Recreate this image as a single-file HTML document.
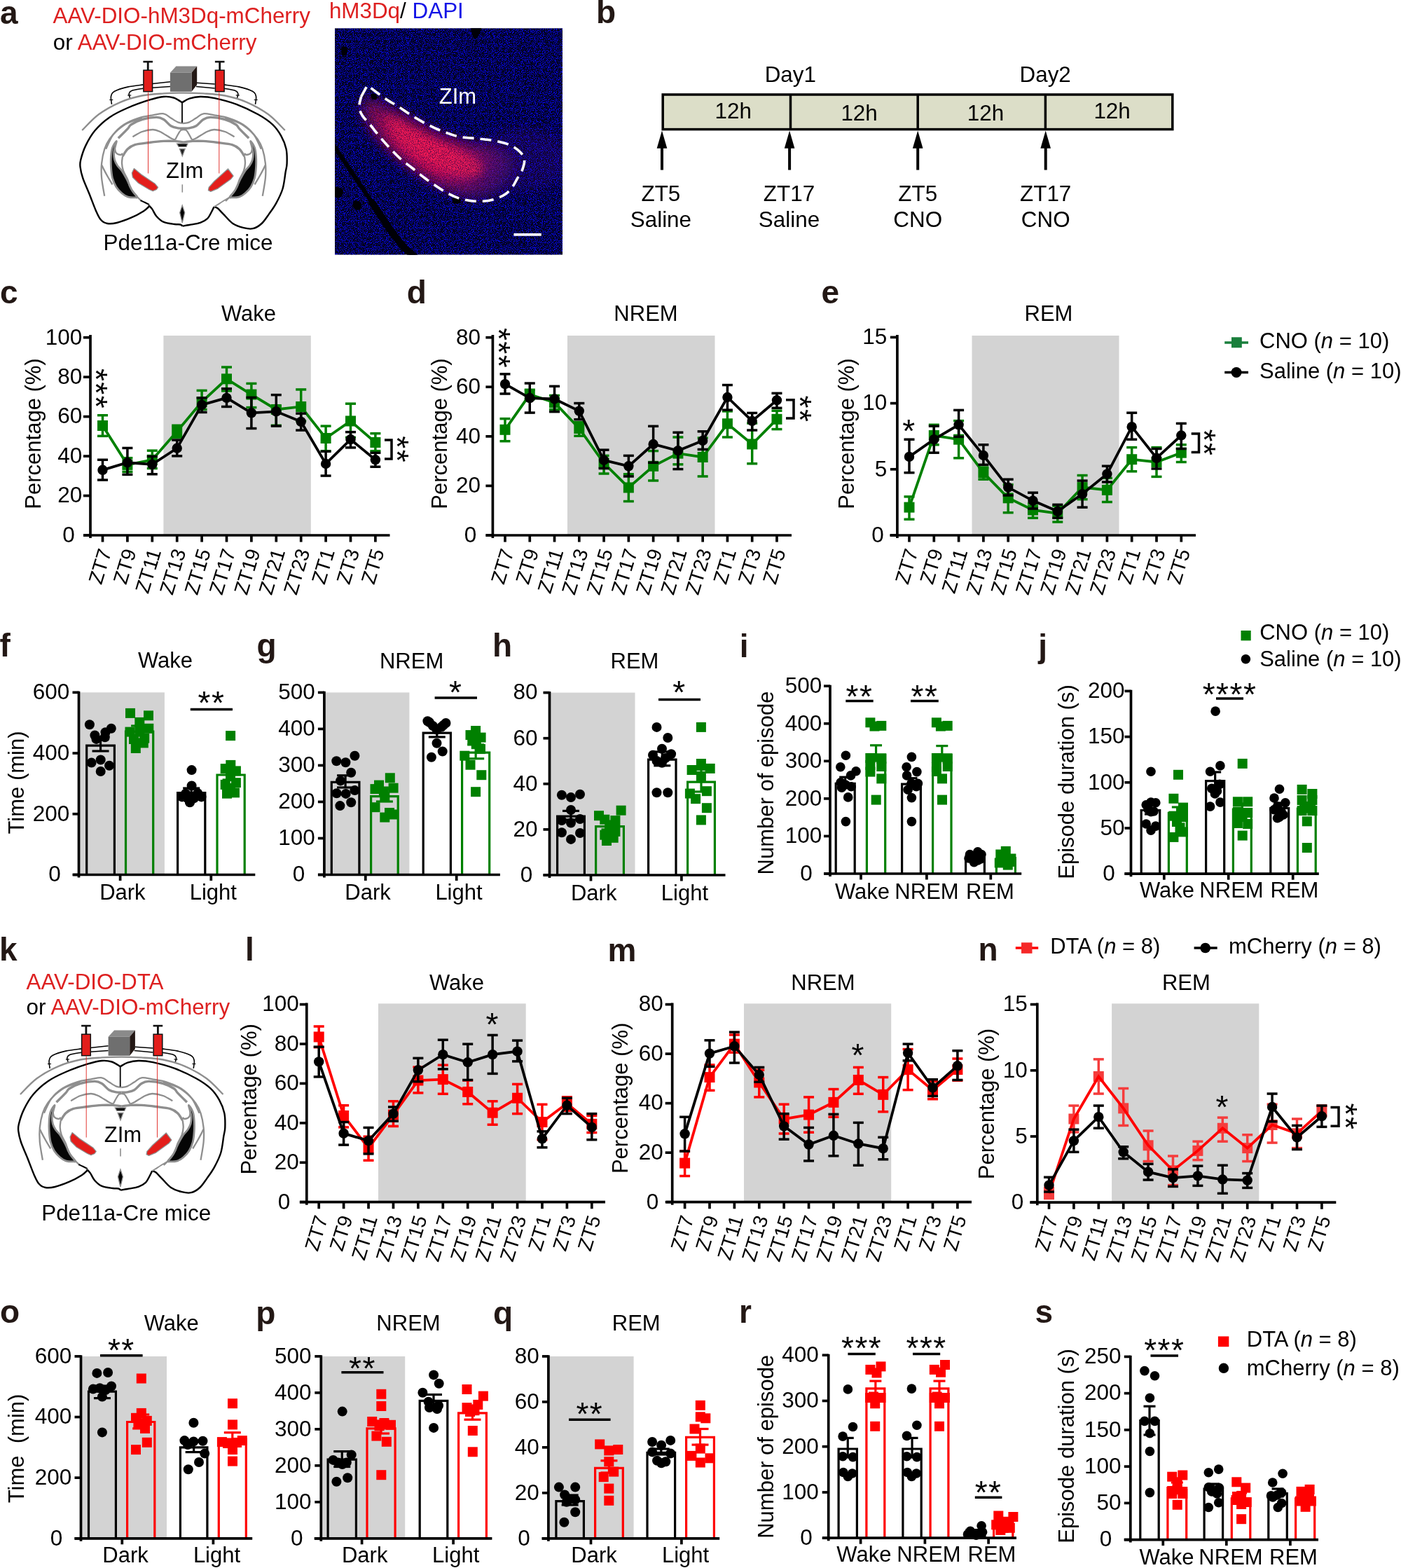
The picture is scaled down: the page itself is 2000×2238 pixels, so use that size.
<!DOCTYPE html>
<html><head><meta charset="utf-8"><title>Figure</title>
<style>html,body{margin:0;padding:0;background:#fff;}svg{display:block;}</style></head>
<body><svg width="2000" height="2238" viewBox="0 0 2000 2238" font-family="'Liberation Sans', Arial, Helvetica, sans-serif">
<rect x="0" y="0" width="2000" height="2238" fill="#fff"/>
<text x="0" y="33.6" font-size="46" fill="#231815" font-weight="bold">a</text>
<text x="75.5" y="32.7" font-size="31.4" fill="#dd2020">AAV-DIO-hM3Dq-mCherry</text>
<text x="75.8" y="70.5" font-size="31.4">or <tspan fill="#dd2020">AAV-DIO-mCherry</tspan></text>
<g transform="translate(0,0)">
<path d="M117.2,186 C121.15,182.22 131.78,170 140.9,163.3 C150.02,156.6 161.58,150.27 171.9,145.8 C182.22,141.33 192.5,138.57 202.8,136.5 C213.1,134.43 223.83,134.05 233.7,133.4 C243.57,132.75 252.57,132.6 262,132.6 C271.43,132.6 280.43,132.75 290.3,133.4 C300.17,134.05 310.9,134.43 321.2,136.5 C331.5,138.57 341.78,141.33 352.1,145.8 C362.42,150.27 373.98,156.6 383.1,163.3 C392.22,170 402.85,182.22 406.8,186" fill="none" stroke="#8e8e8e" stroke-width="2.4"/>
<path d="M166.2,201.4 C165.52,201.73 161.78,207.08 160.5,210.7 C159.22,214.32 158.83,218.45 158.5,223.1 C158.17,227.75 158.17,233.45 158.5,238.6 C158.83,243.75 159.3,249.37 160.5,254 C161.7,258.63 163.47,262.78 165.7,266.4 C167.93,270.02 171.15,273.3 173.9,275.7 C176.65,278.1 179.1,279.77 182.2,280.8 C185.3,281.83 190.27,281.9 192.5,281.9 C194.73,281.9 196.28,282.53 195.6,280.8 C194.92,279.07 190.82,275.62 188.4,271.5 C185.98,267.38 183.52,260.73 181.1,256.1 C178.68,251.47 176.13,246.97 173.9,243.7 C171.67,240.43 169.42,239.08 167.7,236.5 C165.98,233.92 164.45,231.3 163.6,228.2 C162.75,225.1 162.43,221.15 162.6,217.9 C162.77,214.65 164,211.45 164.6,208.7 C165.2,205.95 166.88,201.07 166.2,201.4 Z" fill="#050505" stroke="#8e8e8e" stroke-width="2.8"/>
<path d="M357.8,201.4 C358.48,201.73 362.22,207.08 363.5,210.7 C364.78,214.32 365.17,218.45 365.5,223.1 C365.83,227.75 365.83,233.45 365.5,238.6 C365.17,243.75 364.7,249.37 363.5,254 C362.3,258.63 360.53,262.78 358.3,266.4 C356.07,270.02 352.85,273.3 350.1,275.7 C347.35,278.1 344.9,279.77 341.8,280.8 C338.7,281.83 333.73,281.9 331.5,281.9 C329.27,281.9 327.72,282.53 328.4,280.8 C329.08,279.07 333.18,275.62 335.6,271.5 C338.02,267.38 340.48,260.73 342.9,256.1 C345.32,251.47 347.87,246.97 350.1,243.7 C352.33,240.43 354.58,239.08 356.3,236.5 C358.02,233.92 359.55,231.3 360.4,228.2 C361.25,225.1 361.57,221.15 361.4,217.9 C361.23,214.65 360,211.45 359.4,208.7 C358.8,205.95 357.12,201.07 357.8,201.4 Z" fill="#050505" stroke="#8e8e8e" stroke-width="2.8"/>
<path d="M168.8,197.3 C171.03,195.07 179.12,187.17 182.2,183.9 C185.28,180.63 183.87,179.93 187.3,177.7 C190.73,175.47 196.78,172.22 202.8,170.5 C208.82,168.78 218.25,167.4 223.4,167.4 C228.55,167.4 230.27,168.43 233.7,170.5 C237.13,172.57 240.57,177.73 244,179.8 C247.43,181.87 251.3,182.33 254.3,182.9 C257.3,183.47 260.72,183.15 262,183.2" fill="none" stroke="#8e8e8e" stroke-width="3.4"/>
<path d="M355.2,197.3 C352.97,195.07 344.88,187.17 341.8,183.9 C338.72,180.63 340.13,179.93 336.7,177.7 C333.27,175.47 327.22,172.22 321.2,170.5 C315.18,168.78 305.75,167.4 300.6,167.4 C295.45,167.4 293.73,168.43 290.3,170.5 C286.87,172.57 283.43,177.73 280,179.8 C276.57,181.87 272.7,182.33 269.7,182.9 C266.7,183.47 263.28,183.15 262,183.2" fill="none" stroke="#8e8e8e" stroke-width="3.4"/>
<path d="M175,223.1 C176.2,221.38 179.28,215.55 182.2,212.8 C185.12,210.05 187.35,208.15 192.5,206.6 C197.65,205.05 206.23,204.37 213.1,203.5 C219.97,202.63 227.68,201.75 233.7,201.4 C239.72,201.05 244.48,201.13 249.2,201.4 C253.92,201.67 259.87,202.73 262,203" fill="none" stroke="#8e8e8e" stroke-width="3.4"/>
<path d="M349,223.1 C347.8,221.38 344.72,215.55 341.8,212.8 C338.88,210.05 336.65,208.15 331.5,206.6 C326.35,205.05 317.77,204.37 310.9,203.5 C304.03,202.63 296.32,201.75 290.3,201.4 C284.28,201.05 279.52,201.13 274.8,201.4 C270.08,201.67 264.13,202.73 262,203" fill="none" stroke="#8e8e8e" stroke-width="3.4"/>
<path d="M151.2,212.8 C152.92,209.37 157.2,198.05 161.5,192.2 C165.8,186.35 170.98,181.65 177,177.7 C183.02,173.75 190.73,170.73 197.6,168.5 C204.47,166.27 212.18,165.33 218.2,164.3 C224.22,163.27 229.4,161.6 233.7,162.3 C238,163 240.57,166.45 244,168.5 C247.43,170.55 251.3,173.35 254.3,174.6 C257.3,175.85 260.72,175.77 262,176" fill="none" stroke="#8e8e8e" stroke-width="2.3"/>
<path d="M372.8,212.8 C371.08,209.37 366.8,198.05 362.5,192.2 C358.2,186.35 353.02,181.65 347,177.7 C340.98,173.75 333.27,170.73 326.4,168.5 C319.53,166.27 311.82,165.33 305.8,164.3 C299.78,163.27 294.6,161.6 290.3,162.3 C286,163 283.43,166.45 280,168.5 C276.57,170.55 272.7,173.35 269.7,174.6 C266.7,175.85 263.28,175.77 262,176" fill="none" stroke="#8e8e8e" stroke-width="2.3"/>
<path d="M149.2,279.8 C148.52,275.5 145.78,261.73 145.1,254 C144.42,246.27 144.42,240.27 145.1,233.4 C145.78,226.53 147.32,218.63 149.2,212.8 C151.08,206.97 153.32,202.87 156.4,198.4 C159.48,193.93 163.4,189.78 167.7,186 C172,182.22 176.35,178.62 182.2,175.7 C188.05,172.78 199.37,169.7 202.8,168.5" fill="none" stroke="#8e8e8e" stroke-width="2.3"/>
<path d="M374.8,279.8 C375.48,275.5 378.22,261.73 378.9,254 C379.58,246.27 379.58,240.27 378.9,233.4 C378.22,226.53 376.68,218.63 374.8,212.8 C372.92,206.97 370.68,202.87 367.6,198.4 C364.52,193.93 360.6,189.78 356.3,186 C352,182.22 347.65,178.62 341.8,175.7 C335.95,172.78 324.63,169.7 321.2,168.5" fill="none" stroke="#8e8e8e" stroke-width="2.3"/>
<path d="M189.4,195.3 C191.63,194.08 198,189.72 202.8,188 C207.6,186.28 213.9,185 218.2,185 C222.5,185 224.3,185.95 228.6,188 C232.9,190.05 240.43,195.38 244,197.3 C247.57,199.22 249,199.13 250,199.5" fill="none" stroke="#8e8e8e" stroke-width="2.3"/>
<path d="M334.6,195.3 C332.37,194.08 326,189.72 321.2,188 C316.4,186.28 310.1,185 305.8,185 C301.5,185 299.7,185.95 295.4,188 C291.1,190.05 283.57,195.38 280,197.3 C276.43,199.22 275,199.13 274,199.5" fill="none" stroke="#8e8e8e" stroke-width="2.3"/>
<path d="M175,223.1 C174.83,224.75 173.83,229.57 174,233 C174.17,236.43 174.63,239.85 176,243.7 C177.37,247.55 180.65,252.32 182.2,256.1 C183.75,259.88 183.93,263.32 185.3,266.4 C186.67,269.48 188.62,272.17 190.4,274.6 C192.18,277.03 194.07,278.93 196,281 C197.93,283.07 201,286 202,287" fill="none" stroke="#8e8e8e" stroke-width="2.3"/>
<path d="M349,223.1 C349.17,224.75 350.17,229.57 350,233 C349.83,236.43 349.37,239.85 348,243.7 C346.63,247.55 343.35,252.32 341.8,256.1 C340.25,259.88 340.07,263.32 338.7,266.4 C337.33,269.48 335.38,272.17 333.6,274.6 C331.82,277.03 329.93,278.93 328,281 C326.07,283.07 323,286 322,287" fill="none" stroke="#8e8e8e" stroke-width="2.3"/>
<path d="M163.6,208.7 C163.92,210.23 164.12,215.85 165.5,217.9 C166.88,219.95 170.32,220.82 171.9,221 C173.48,221.18 174.48,219.33 175,219" fill="none" stroke="#8e8e8e" stroke-width="2.3"/>
<path d="M360.4,208.7 C360.08,210.23 359.88,215.85 358.5,217.9 C357.12,219.95 353.68,220.82 352.1,221 C350.52,221.18 349.52,219.33 349,219" fill="none" stroke="#8e8e8e" stroke-width="2.3"/>
<path d="M145.5,236 C145.93,236.93 146.68,238.85 148.1,241.6 C149.52,244.35 151.93,248.88 154,252.5 C156.07,256.12 159.42,261.5 160.5,263.3" fill="none" stroke="#8e8e8e" stroke-width="2.3"/>
<path d="M378.5,236 C378.07,236.93 377.32,238.85 375.9,241.6 C374.48,244.35 372.07,248.88 370,252.5 C367.93,256.12 364.58,261.5 363.5,263.3" fill="none" stroke="#8e8e8e" stroke-width="2.3"/>
<path d="M250,199.5 C250.67,198.25 252.67,194.25 254,192 C255.33,189.75 256.67,187.17 258,186 C259.33,184.83 261.33,185.17 262,185" fill="none" stroke="#8e8e8e" stroke-width="2.3"/>
<path d="M274,199.5 C273.33,198.25 271.33,194.25 270,192 C268.67,189.75 267.33,187.17 266,186 C264.67,184.83 262.67,185.17 262,185" fill="none" stroke="#8e8e8e" stroke-width="2.3"/>
<path d="M260,146.3 C258,145.17 252.38,140.88 248,139.5 C243.62,138.12 239.52,137.47 233.7,138 C227.88,138.53 221.68,140.03 213.1,142.7 C204.52,145.37 191.65,149.88 182.2,154 C172.75,158.12 164.13,162.07 156.4,167.4 C148.67,172.73 141.47,179.3 135.8,186 C130.13,192.7 125.83,200.57 122.4,207.6 C118.97,214.63 116.5,223.03 115.2,228.2 C113.9,233.37 114.1,234.3 114.6,238.6 C115.1,242.9 116.05,247.65 118.2,254 C120.35,260.35 124.4,268.97 127.5,276.7 C130.6,284.43 134.05,294.22 136.8,300.4 C139.55,306.58 141.25,310.7 144,313.8 C146.75,316.9 149.52,318.3 153.3,319 C157.08,319.7 161.03,319.38 166.7,318 C172.37,316.62 180.95,313.47 187.3,310.7 C193.65,307.93 200.67,303.97 204.8,301.4 C208.93,298.83 210.8,296.67 212.1,295.3 C213.4,293.93 212.52,293.55 212.6,293.2" fill="none" stroke="#000" stroke-width="2.4"/>
<path d="M260,146.3 C261.75,145.35 266.18,141.98 270.5,140.6 C274.82,139.22 279.9,138.08 285.9,138 C291.9,137.92 297.9,138.28 306.5,140.1 C315.1,141.92 327.18,145.03 337.5,148.9 C347.82,152.77 359.82,158.5 368.4,163.3 C376.98,168.1 383.5,172.55 389,177.7 C394.5,182.85 398.13,188.35 401.4,194.2 C404.67,200.05 407.23,206.27 408.6,212.8 C409.97,219.33 409.77,227.9 409.6,233.4 C409.43,238.9 408.62,239.78 407.6,245.8 C406.58,251.82 405.73,262.12 403.5,269.5 C401.27,276.88 397.47,284.08 394.2,290.1 C390.93,296.12 387.33,300.78 383.9,305.6 C380.47,310.42 377.38,315.57 373.6,319 C369.82,322.43 365.5,325.17 361.2,326.2 C356.9,327.23 352.62,326.4 347.8,325.2 C342.98,324 337.12,322.27 332.3,319 C327.48,315.73 322.5,309.22 318.9,305.6 C315.3,301.98 312.93,299.02 310.7,297.3 C308.47,295.58 306.37,295.63 305.5,295.3" fill="none" stroke="#000" stroke-width="2.4"/>
<path d="M212.6,293.2 C213.37,294.07 215.4,295.82 217.2,298.4 C219,300.98 220.65,305.62 223.4,308.7 C226.15,311.78 229.4,315.02 233.7,316.9 C238,318.78 245.25,319.4 249.2,320 C253.15,320.6 255.52,320.07 257.4,320.5 C259.28,320.93 259.98,322.25 260.5,322.6" fill="none" stroke="#000" stroke-width="2.4"/>
<path d="M305.5,295.3 C304.82,296.67 302.95,300.75 301.4,303.5 C299.85,306.25 298.78,309.4 296.2,311.8 C293.62,314.2 290.18,316.37 285.9,317.9 C281.62,319.43 274.73,320.22 270.5,321 C266.27,321.78 262.17,322.33 260.5,322.6" fill="none" stroke="#000" stroke-width="2.4"/>
<path d="M200.7,286 C201.75,286.5 204.93,287.97 207,289 C209.07,290.03 212.08,291.67 213.1,292.2" fill="none" stroke="#000" stroke-width="2"/>
<path d="M305.5,295.3 C306.25,294.83 307.25,294.22 310,292.5 C312.75,290.78 318.67,286.92 322,285 C325.33,283.08 328.67,281.67 330,281" fill="none" stroke="#8e8e8e" stroke-width="2"/>
<line x1="260" y1="146" x2="260" y2="175" stroke="#000" stroke-width="1.8"/>
<path d="M252.5,205 L268,205 L266,209.5 L255,209.5 Z" fill="#111" stroke="#8e8e8e" stroke-width="1.2"/>
<path d="M256.4,212.5 L264.2,212.5 L260.3,223 Z" fill="#222" stroke="#8e8e8e" stroke-width="1.3"/>
<line x1="260.3" y1="263.3" x2="260.3" y2="274.6" stroke="#8e8e8e" stroke-width="1.6"/>
<path d="M260.2,293 L263.7,303.5 L260.2,318 L256.7,303.5 Z" fill="#000" stroke="#8e8e8e" stroke-width="1.3"/>
<path d="M191.4,240.6 L188.4,246.8 L189.4,253 L197.6,261.2 L213.1,270.5 L218.2,272.6 L223.4,270.5 L225.5,267.4 L221.3,262.3 L202.8,249.9 Z" fill="#e31e1b" stroke="#8e8e8e" stroke-width="1.3" stroke-linejoin="round"/>
<path d="M325.5,241 L333.1,251.2 L329.7,255.4 L311,269.1 L300.8,273.3 L297.4,271.6 L298.2,267.4 L305.9,258.8 Z" fill="#e31e1b" stroke="#8e8e8e" stroke-width="1.3" stroke-linejoin="round"/>
<line x1="211.5" y1="131.5" x2="211.5" y2="247.5" stroke="#e0201c" stroke-width="0.9"/>
<line x1="312.8" y1="131.5" x2="312.8" y2="247.5" stroke="#e0201c" stroke-width="0.9"/>
<path d="M204.2,120.9 C200.53,121.43 188.97,122.53 182.2,124.1 C175.43,125.67 167.55,128.07 163.6,130.3 C159.65,132.53 159.18,134.4 158.5,137.5 C157.82,140.6 159.33,147 159.5,148.9" fill="none" stroke="#000" stroke-width="1.6"/>
<path d="M319.8,120.9 C323.47,121.43 335.03,122.53 341.8,124.1 C348.57,125.67 356.45,128.07 360.4,130.3 C364.35,132.53 364.82,134.4 365.5,137.5 C366.18,140.6 364.67,147 364.5,148.9" fill="none" stroke="#000" stroke-width="1.6"/>
<path d="M204.2,126.2 C201.57,126.72 191.73,128.1 188.4,129.3 C185.07,130.5 184.72,131.68 184.2,133.4 C183.68,135.12 185.12,138.57 185.3,139.6" fill="none" stroke="#000" stroke-width="1.6"/>
<path d="M319.8,126.2 C322.43,126.72 332.27,128.1 335.6,129.3 C338.93,130.5 339.28,131.68 339.8,133.4 C340.32,135.12 338.88,138.57 338.7,139.6" fill="none" stroke="#000" stroke-width="1.6"/>
<line x1="156.3" y1="142.5" x2="161.3" y2="142.5" stroke="#000" stroke-width="1.2"/>
<line x1="182.2" y1="136" x2="187.2" y2="136" stroke="#000" stroke-width="1.2"/>
<line x1="362.7" y1="142.5" x2="367.7" y2="142.5" stroke="#000" stroke-width="1.2"/>
<line x1="336.8" y1="136" x2="341.8" y2="136" stroke="#000" stroke-width="1.2"/>
<line x1="217.6" y1="119.4" x2="243" y2="116.8" stroke="#000" stroke-width="1.5"/>
<line x1="217.6" y1="125.3" x2="243" y2="123.6" stroke="#000" stroke-width="1.5"/>
<line x1="281" y1="118.3" x2="306.7" y2="120" stroke="#000" stroke-width="1.5"/>
<line x1="280" y1="123.6" x2="306.7" y2="126" stroke="#000" stroke-width="1.5"/>
<rect x="204.9" y="100.2" width="12.7" height="30.5" fill="#e31e1b" stroke="#111" stroke-width="1.5"/>
<rect x="209.8" y="89" width="2.8" height="11.5" fill="#111"/>
<rect x="204.4" y="86.8" width="13.6" height="2.6" fill="#111"/>
<rect x="307.4" y="100.2" width="12.7" height="30.5" fill="#e31e1b" stroke="#111" stroke-width="1.5"/>
<rect x="312.3" y="89" width="2.8" height="11.5" fill="#111"/>
<rect x="306.9" y="86.8" width="13.6" height="2.6" fill="#111"/>
<path d="M242.9,103.8 L251.4,94.5 L281.2,94.5 L273.5,103.8 Z" fill="#8a8a8a"/>
<path d="M273.5,103.8 L281.2,94.5 L281.2,120.9 L273.5,130.8 Z" fill="#231815"/>
<rect x="242.9" y="103.8" width="30.6" height="27" fill="#6f6f6f"/>
<text x="263.7" y="253.7" font-size="31" text-anchor="middle">ZIm</text>
</g>
<text x="268.5" y="357" font-size="31.4" text-anchor="middle">Pde11a-Cre mice</text>
<text x="469.9" y="26.4" font-size="31.4"><tspan fill="#dd2020">hM3Dq</tspan>/ <tspan fill="#1414e6">DAPI</tspan></text>
<defs><filter id="speck" x="0" y="0" width="100%" height="100%" color-interpolation-filters="sRGB"><feTurbulence type="fractalNoise" baseFrequency="0.9" numOctaves="2" seed="3" result="n"/><feColorMatrix in="n" type="matrix" values="0 0 0 0 0.03  0 0 0 0 0.03  0 0 0 0 1  0 0 0 -6 3.0" result="c"/><feComposite in="c" in2="SourceGraphic" operator="in"/></filter><filter id="grain" x="0" y="0" width="100%" height="100%" color-interpolation-filters="sRGB"><feTurbulence type="fractalNoise" baseFrequency="0.75" numOctaves="2" seed="11" result="n"/><feColorMatrix in="n" type="matrix" values="0 0 0 0 0.05  0 0 0 0 0  0 0 0 0 0.25  0 0 0 -6 3.2" result="c"/><feComposite in="c" in2="SourceGraphic" operator="in"/></filter><filter id="rblur" x="-20%" y="-20%" width="140%" height="140%"><feGaussianBlur stdDeviation="9"/></filter><filter id="rblur2" x="-20%" y="-20%" width="140%" height="140%"><feGaussianBlur stdDeviation="6"/></filter><linearGradient id="redgrad" gradientUnits="userSpaceOnUse" x1="515" y1="140" x2="750" y2="260"><stop offset="0" stop-color="#d0105a" stop-opacity="0.55"/><stop offset="0.3" stop-color="#f01258" stop-opacity="0.85"/><stop offset="0.55" stop-color="#f0125a" stop-opacity="0.9"/><stop offset="0.8" stop-color="#a0127a" stop-opacity="0.55"/><stop offset="1" stop-color="#50109a" stop-opacity="0.2"/></linearGradient><clipPath id="mclip"><rect x="478" y="40.2" width="325" height="323.5"/></clipPath></defs>
<g clip-path="url(#mclip)">
<rect x="478" y="40.2" width="325" height="323.5" fill="#03031e"/>
<rect x="478" y="40.2" width="325" height="323.5" fill="#fff" filter="url(#speck)"/>
<ellipse cx="745.86" cy="227.5" rx="70" ry="45" fill="#5a1090" opacity="0.18" filter="url(#rblur)"/>
<path d="M522.64,140 C528,138.21 542.58,148.93 553,154.29 C563.42,159.64 573.83,165.89 585.14,172.14 C596.45,178.39 608.95,186.43 620.86,191.79 C632.76,197.14 644.67,201.31 656.57,204.29 C668.48,207.26 680.98,207.26 692.29,209.64 C703.6,212.02 716.99,214.7 724.43,218.57 C731.87,222.44 736.33,226.31 736.93,232.86 C737.52,239.4 732.46,250.71 728,257.86 C723.54,265 717.58,271.85 710.14,275.71 C702.7,279.58 692.29,281.07 683.36,281.07 C674.43,281.07 665.5,278.69 656.57,275.71 C647.64,272.74 640.2,268.87 629.79,263.21 C619.37,257.56 605.08,249.23 594.07,241.79 C583.06,234.35 573.24,226.9 563.71,218.57 C554.19,210.24 544.07,200.71 536.93,191.79 C529.79,182.86 523.24,173.63 520.86,165 C518.48,156.37 517.29,141.79 522.64,140 Z" fill="url(#redgrad)" filter="url(#rblur)"/>
<path d="M553,165 C556.57,162.32 573.83,175.12 585.14,181.07 C596.45,187.02 608.95,195.06 620.86,200.71 C632.76,206.37 646.15,210.24 656.57,215 C666.99,219.76 678,224.23 683.36,229.29 C688.71,234.35 691.69,241.19 688.71,245.36 C685.74,249.52 675.32,254.88 665.5,254.29 C655.68,253.69 641.69,247.14 629.79,241.79 C617.88,236.43 605.08,229.58 594.07,222.14 C583.06,214.7 570.56,206.67 563.71,197.14 C556.87,187.62 549.43,167.68 553,165 Z" fill="#ff1a55" opacity="0.75" filter="url(#rblur2)"/>
<path d="M522.64,140 C528,138.21 542.58,148.93 553,154.29 C563.42,159.64 573.83,165.89 585.14,172.14 C596.45,178.39 608.95,186.43 620.86,191.79 C632.76,197.14 644.67,201.31 656.57,204.29 C668.48,207.26 680.98,207.26 692.29,209.64 C703.6,212.02 716.99,214.7 724.43,218.57 C731.87,222.44 736.33,226.31 736.93,232.86 C737.52,239.4 732.46,250.71 728,257.86 C723.54,265 717.58,271.85 710.14,275.71 C702.7,279.58 692.29,281.07 683.36,281.07 C674.43,281.07 665.5,278.69 656.57,275.71 C647.64,272.74 640.2,268.87 629.79,263.21 C619.37,257.56 605.08,249.23 594.07,241.79 C583.06,234.35 573.24,226.9 563.71,218.57 C554.19,210.24 544.07,200.71 536.93,191.79 C529.79,182.86 523.24,173.63 520.86,165 C518.48,156.37 517.29,141.79 522.64,140 Z" fill="#fff" filter="url(#grain)" opacity="0.55"/>
<path d="M474,205 C476,207.83 482.33,216.67 486,222 C489.67,227.33 491.38,230.17 496,237 C500.62,243.83 507.77,254.17 513.7,263 C519.63,271.83 525.65,281.03 531.6,290 C537.55,298.97 544.35,309.37 549.4,316.8 C554.45,324.23 557.43,328.65 561.9,334.6 C566.37,340.55 571.18,347.27 576.2,352.5 C581.22,357.73 589.37,363.75 592,366" fill="none" stroke="#000006" stroke-width="6" stroke-linecap="round"/>
<path d="M531.6,290 C534.57,294.47 544.35,309.37 549.4,316.8 C554.45,324.23 557.43,328.65 561.9,334.6 C566.37,340.55 571.18,347.27 576.2,352.5 C581.22,357.73 589.37,363.75 592,366" fill="none" stroke="#000006" stroke-width="10" stroke-linecap="round"/>
<path d="M478,266.79 C479.79,265 487.08,268.13 488.71,270.36 C490.35,272.59 489.61,278.39 487.82,280.18 C486.04,281.96 479.64,283.3 478,281.07 C476.36,278.84 476.21,268.57 478,266.79 Z" fill="#000006"/>
<path d="M504.79,286.43 C506.42,285.09 513.12,287.02 514.61,289.11 C516.1,291.19 515.35,297.59 513.71,298.93 C512.08,300.27 506.27,299.23 504.79,297.14 C503.3,295.06 503.15,287.77 504.79,286.43 Z" fill="#000006"/>
<path d="M672.64,40 C674.73,38.21 685.14,38.21 686.93,40 C688.71,41.79 684.85,48.18 683.36,50.71 C681.87,53.24 679.49,55.18 678,55.18 C676.51,55.18 675.32,53.24 674.43,50.71 C673.54,48.18 670.56,41.79 672.64,40 Z" fill="#000006"/>
<path d="M487.82,66.79 C489.01,65.15 494.67,66.79 495.86,68.57 C497.05,70.36 496.15,75.86 494.96,77.5 C493.77,79.14 489.9,80.18 488.71,78.39 C487.52,76.61 486.63,68.42 487.82,66.79 Z" fill="#000006"/>
<path d="M529.79,133.75 C530.68,132.56 535.59,133.45 536.93,134.64 C538.27,135.83 538.71,139.7 537.82,140.89 C536.93,142.08 532.91,142.98 531.57,141.79 C530.23,140.6 528.89,134.94 529.79,133.75 Z" fill="#000006"/>
<path d="M645.86,282.86 C647.35,281.82 654.79,282.56 656.57,283.75 C658.36,284.94 658.06,288.96 656.57,290 C655.08,291.04 649.43,291.19 647.64,290 C645.86,288.81 644.37,283.9 645.86,282.86 Z" fill="#000006"/>
<path d="M515.5,138.21 L524.43,121.79 L539.61,133.21 C541.84,134.79 548.09,139.46 553,142.68 C557.91,145.89 563.71,149.08 569.07,152.5 C574.43,155.92 579.49,159.64 585.14,163.21 C590.8,166.79 597.05,170.65 603,173.93 C608.95,177.2 614.9,180.18 620.86,182.86 C626.81,185.54 632.76,187.92 638.71,190 C644.67,192.08 650.62,194.17 656.57,195.36 C662.52,196.55 668.48,196.55 674.43,197.14 C680.38,197.74 686.33,198.18 692.29,198.93 C698.24,199.67 704.19,200.27 710.14,201.61 C716.1,202.95 722.64,204.43 728,206.96 C733.36,209.49 738.86,213.36 742.29,216.79 C745.71,220.21 747.94,223.33 748.54,227.5 C749.13,231.67 747.49,237.32 745.86,241.79 C744.22,246.25 741.1,250.12 738.71,254.29 C736.33,258.45 734.55,262.92 731.57,266.79 C728.6,270.65 725.32,274.52 720.86,277.5 C716.39,280.48 710.14,283.01 704.79,284.64 C699.43,286.28 694.37,287.02 688.71,287.32 C683.06,287.62 676.51,287.17 670.86,286.43 C665.2,285.68 660.14,284.64 654.79,282.86 C649.43,281.07 643.77,278.39 638.71,275.71 C633.65,273.04 629.79,270.36 624.43,266.79 C619.07,263.21 612.52,258.75 606.57,254.29 C600.62,249.82 594.37,244.46 588.71,240 C583.06,235.54 578,232.26 572.64,227.5 C567.29,222.74 561.63,216.79 556.57,211.43 C551.51,206.07 547.05,201.01 542.29,195.36 C537.52,189.7 532.17,182.56 528,177.5 C523.83,172.44 519.82,169.17 517.29,165 C514.76,160.83 513.12,156.96 512.82,152.5 C512.52,148.04 515.05,140.6 515.5,138.21" fill="none" stroke="#fff" stroke-width="3.6" stroke-dasharray="16 9" stroke-linejoin="miter"/>
<text x="653.4" y="148.4" font-size="31" text-anchor="middle" fill="#fff">ZIm</text>
<line x1="733.4" y1="334.8" x2="772.8" y2="334.8" stroke="#fff" stroke-width="3.8"/>
</g>
<text x="851" y="33.3" font-size="46" fill="#231815" font-weight="bold">b</text>
<rect x="946.2" y="135" width="727.6" height="49.6" fill="#dcdec8" stroke="#000" stroke-width="3.5"/>
<line x1="1128.5" y1="135" x2="1128.5" y2="184.6" stroke="#000" stroke-width="3.5"/>
<line x1="1310.2" y1="135" x2="1310.2" y2="184.6" stroke="#000" stroke-width="3.5"/>
<line x1="1492.4" y1="135" x2="1492.4" y2="184.6" stroke="#000" stroke-width="3.5"/>
<text x="1046.8" y="169" font-size="31.4" text-anchor="middle">12h</text>
<text x="1226.6" y="172" font-size="31.4" text-anchor="middle">12h</text>
<text x="1407" y="172" font-size="31.4" text-anchor="middle">12h</text>
<text x="1587.6" y="169" font-size="31.4" text-anchor="middle">12h</text>
<text x="1128.3" y="117.1" font-size="31.4" text-anchor="middle">Day1</text>
<text x="1492.2" y="117.1" font-size="31.4" text-anchor="middle">Day2</text>
<line x1="945" y1="205" x2="945" y2="242.6" stroke="#000" stroke-width="4"/>
<path d="M945,186.6 L937.7,211.7 L952.3,211.7 Z" fill="#000"/>
<line x1="1127.1" y1="205" x2="1127.1" y2="242.6" stroke="#000" stroke-width="4"/>
<path d="M1127.1,186.6 L1119.8,211.7 L1134.4,211.7 Z" fill="#000"/>
<line x1="1310.2" y1="205" x2="1310.2" y2="242.6" stroke="#000" stroke-width="4"/>
<path d="M1310.2,186.6 L1302.9,211.7 L1317.5,211.7 Z" fill="#000"/>
<line x1="1492.7" y1="205" x2="1492.7" y2="242.6" stroke="#000" stroke-width="4"/>
<path d="M1492.7,186.6 L1485.4,211.7 L1500,211.7 Z" fill="#000"/>
<text x="943.4" y="287" font-size="31.4" text-anchor="middle">ZT5</text>
<text x="943.4" y="323.7" font-size="31.4" text-anchor="middle">Saline</text>
<text x="1126.5" y="287" font-size="31.4" text-anchor="middle">ZT17</text>
<text x="1126.5" y="323.7" font-size="31.4" text-anchor="middle">Saline</text>
<text x="1310.2" y="287" font-size="31.4" text-anchor="middle">ZT5</text>
<text x="1310.2" y="323.7" font-size="31.4" text-anchor="middle">CNO</text>
<text x="1492.7" y="287" font-size="31.4" text-anchor="middle">ZT17</text>
<text x="1492.7" y="323.7" font-size="31.4" text-anchor="middle">CNO</text>
<text x="-1" y="1370.9" font-size="46" fill="#231815" font-weight="bold">k</text>
<text x="37.5" y="1411.7" font-size="31.4" fill="#dd2020">AAV-DIO-DTA</text>
<text x="37.5" y="1448.2" font-size="31.4">or <tspan fill="#dd2020">AAV-DIO-mCherry</tspan></text>
<g transform="translate(-88.3,1376)">
<path d="M117.2,186 C121.15,182.22 131.78,170 140.9,163.3 C150.02,156.6 161.58,150.27 171.9,145.8 C182.22,141.33 192.5,138.57 202.8,136.5 C213.1,134.43 223.83,134.05 233.7,133.4 C243.57,132.75 252.57,132.6 262,132.6 C271.43,132.6 280.43,132.75 290.3,133.4 C300.17,134.05 310.9,134.43 321.2,136.5 C331.5,138.57 341.78,141.33 352.1,145.8 C362.42,150.27 373.98,156.6 383.1,163.3 C392.22,170 402.85,182.22 406.8,186" fill="none" stroke="#8e8e8e" stroke-width="2.4"/>
<path d="M166.2,201.4 C165.52,201.73 161.78,207.08 160.5,210.7 C159.22,214.32 158.83,218.45 158.5,223.1 C158.17,227.75 158.17,233.45 158.5,238.6 C158.83,243.75 159.3,249.37 160.5,254 C161.7,258.63 163.47,262.78 165.7,266.4 C167.93,270.02 171.15,273.3 173.9,275.7 C176.65,278.1 179.1,279.77 182.2,280.8 C185.3,281.83 190.27,281.9 192.5,281.9 C194.73,281.9 196.28,282.53 195.6,280.8 C194.92,279.07 190.82,275.62 188.4,271.5 C185.98,267.38 183.52,260.73 181.1,256.1 C178.68,251.47 176.13,246.97 173.9,243.7 C171.67,240.43 169.42,239.08 167.7,236.5 C165.98,233.92 164.45,231.3 163.6,228.2 C162.75,225.1 162.43,221.15 162.6,217.9 C162.77,214.65 164,211.45 164.6,208.7 C165.2,205.95 166.88,201.07 166.2,201.4 Z" fill="#050505" stroke="#8e8e8e" stroke-width="2.8"/>
<path d="M357.8,201.4 C358.48,201.73 362.22,207.08 363.5,210.7 C364.78,214.32 365.17,218.45 365.5,223.1 C365.83,227.75 365.83,233.45 365.5,238.6 C365.17,243.75 364.7,249.37 363.5,254 C362.3,258.63 360.53,262.78 358.3,266.4 C356.07,270.02 352.85,273.3 350.1,275.7 C347.35,278.1 344.9,279.77 341.8,280.8 C338.7,281.83 333.73,281.9 331.5,281.9 C329.27,281.9 327.72,282.53 328.4,280.8 C329.08,279.07 333.18,275.62 335.6,271.5 C338.02,267.38 340.48,260.73 342.9,256.1 C345.32,251.47 347.87,246.97 350.1,243.7 C352.33,240.43 354.58,239.08 356.3,236.5 C358.02,233.92 359.55,231.3 360.4,228.2 C361.25,225.1 361.57,221.15 361.4,217.9 C361.23,214.65 360,211.45 359.4,208.7 C358.8,205.95 357.12,201.07 357.8,201.4 Z" fill="#050505" stroke="#8e8e8e" stroke-width="2.8"/>
<path d="M168.8,197.3 C171.03,195.07 179.12,187.17 182.2,183.9 C185.28,180.63 183.87,179.93 187.3,177.7 C190.73,175.47 196.78,172.22 202.8,170.5 C208.82,168.78 218.25,167.4 223.4,167.4 C228.55,167.4 230.27,168.43 233.7,170.5 C237.13,172.57 240.57,177.73 244,179.8 C247.43,181.87 251.3,182.33 254.3,182.9 C257.3,183.47 260.72,183.15 262,183.2" fill="none" stroke="#8e8e8e" stroke-width="3.4"/>
<path d="M355.2,197.3 C352.97,195.07 344.88,187.17 341.8,183.9 C338.72,180.63 340.13,179.93 336.7,177.7 C333.27,175.47 327.22,172.22 321.2,170.5 C315.18,168.78 305.75,167.4 300.6,167.4 C295.45,167.4 293.73,168.43 290.3,170.5 C286.87,172.57 283.43,177.73 280,179.8 C276.57,181.87 272.7,182.33 269.7,182.9 C266.7,183.47 263.28,183.15 262,183.2" fill="none" stroke="#8e8e8e" stroke-width="3.4"/>
<path d="M175,223.1 C176.2,221.38 179.28,215.55 182.2,212.8 C185.12,210.05 187.35,208.15 192.5,206.6 C197.65,205.05 206.23,204.37 213.1,203.5 C219.97,202.63 227.68,201.75 233.7,201.4 C239.72,201.05 244.48,201.13 249.2,201.4 C253.92,201.67 259.87,202.73 262,203" fill="none" stroke="#8e8e8e" stroke-width="3.4"/>
<path d="M349,223.1 C347.8,221.38 344.72,215.55 341.8,212.8 C338.88,210.05 336.65,208.15 331.5,206.6 C326.35,205.05 317.77,204.37 310.9,203.5 C304.03,202.63 296.32,201.75 290.3,201.4 C284.28,201.05 279.52,201.13 274.8,201.4 C270.08,201.67 264.13,202.73 262,203" fill="none" stroke="#8e8e8e" stroke-width="3.4"/>
<path d="M151.2,212.8 C152.92,209.37 157.2,198.05 161.5,192.2 C165.8,186.35 170.98,181.65 177,177.7 C183.02,173.75 190.73,170.73 197.6,168.5 C204.47,166.27 212.18,165.33 218.2,164.3 C224.22,163.27 229.4,161.6 233.7,162.3 C238,163 240.57,166.45 244,168.5 C247.43,170.55 251.3,173.35 254.3,174.6 C257.3,175.85 260.72,175.77 262,176" fill="none" stroke="#8e8e8e" stroke-width="2.3"/>
<path d="M372.8,212.8 C371.08,209.37 366.8,198.05 362.5,192.2 C358.2,186.35 353.02,181.65 347,177.7 C340.98,173.75 333.27,170.73 326.4,168.5 C319.53,166.27 311.82,165.33 305.8,164.3 C299.78,163.27 294.6,161.6 290.3,162.3 C286,163 283.43,166.45 280,168.5 C276.57,170.55 272.7,173.35 269.7,174.6 C266.7,175.85 263.28,175.77 262,176" fill="none" stroke="#8e8e8e" stroke-width="2.3"/>
<path d="M149.2,279.8 C148.52,275.5 145.78,261.73 145.1,254 C144.42,246.27 144.42,240.27 145.1,233.4 C145.78,226.53 147.32,218.63 149.2,212.8 C151.08,206.97 153.32,202.87 156.4,198.4 C159.48,193.93 163.4,189.78 167.7,186 C172,182.22 176.35,178.62 182.2,175.7 C188.05,172.78 199.37,169.7 202.8,168.5" fill="none" stroke="#8e8e8e" stroke-width="2.3"/>
<path d="M374.8,279.8 C375.48,275.5 378.22,261.73 378.9,254 C379.58,246.27 379.58,240.27 378.9,233.4 C378.22,226.53 376.68,218.63 374.8,212.8 C372.92,206.97 370.68,202.87 367.6,198.4 C364.52,193.93 360.6,189.78 356.3,186 C352,182.22 347.65,178.62 341.8,175.7 C335.95,172.78 324.63,169.7 321.2,168.5" fill="none" stroke="#8e8e8e" stroke-width="2.3"/>
<path d="M189.4,195.3 C191.63,194.08 198,189.72 202.8,188 C207.6,186.28 213.9,185 218.2,185 C222.5,185 224.3,185.95 228.6,188 C232.9,190.05 240.43,195.38 244,197.3 C247.57,199.22 249,199.13 250,199.5" fill="none" stroke="#8e8e8e" stroke-width="2.3"/>
<path d="M334.6,195.3 C332.37,194.08 326,189.72 321.2,188 C316.4,186.28 310.1,185 305.8,185 C301.5,185 299.7,185.95 295.4,188 C291.1,190.05 283.57,195.38 280,197.3 C276.43,199.22 275,199.13 274,199.5" fill="none" stroke="#8e8e8e" stroke-width="2.3"/>
<path d="M175,223.1 C174.83,224.75 173.83,229.57 174,233 C174.17,236.43 174.63,239.85 176,243.7 C177.37,247.55 180.65,252.32 182.2,256.1 C183.75,259.88 183.93,263.32 185.3,266.4 C186.67,269.48 188.62,272.17 190.4,274.6 C192.18,277.03 194.07,278.93 196,281 C197.93,283.07 201,286 202,287" fill="none" stroke="#8e8e8e" stroke-width="2.3"/>
<path d="M349,223.1 C349.17,224.75 350.17,229.57 350,233 C349.83,236.43 349.37,239.85 348,243.7 C346.63,247.55 343.35,252.32 341.8,256.1 C340.25,259.88 340.07,263.32 338.7,266.4 C337.33,269.48 335.38,272.17 333.6,274.6 C331.82,277.03 329.93,278.93 328,281 C326.07,283.07 323,286 322,287" fill="none" stroke="#8e8e8e" stroke-width="2.3"/>
<path d="M163.6,208.7 C163.92,210.23 164.12,215.85 165.5,217.9 C166.88,219.95 170.32,220.82 171.9,221 C173.48,221.18 174.48,219.33 175,219" fill="none" stroke="#8e8e8e" stroke-width="2.3"/>
<path d="M360.4,208.7 C360.08,210.23 359.88,215.85 358.5,217.9 C357.12,219.95 353.68,220.82 352.1,221 C350.52,221.18 349.52,219.33 349,219" fill="none" stroke="#8e8e8e" stroke-width="2.3"/>
<path d="M145.5,236 C145.93,236.93 146.68,238.85 148.1,241.6 C149.52,244.35 151.93,248.88 154,252.5 C156.07,256.12 159.42,261.5 160.5,263.3" fill="none" stroke="#8e8e8e" stroke-width="2.3"/>
<path d="M378.5,236 C378.07,236.93 377.32,238.85 375.9,241.6 C374.48,244.35 372.07,248.88 370,252.5 C367.93,256.12 364.58,261.5 363.5,263.3" fill="none" stroke="#8e8e8e" stroke-width="2.3"/>
<path d="M250,199.5 C250.67,198.25 252.67,194.25 254,192 C255.33,189.75 256.67,187.17 258,186 C259.33,184.83 261.33,185.17 262,185" fill="none" stroke="#8e8e8e" stroke-width="2.3"/>
<path d="M274,199.5 C273.33,198.25 271.33,194.25 270,192 C268.67,189.75 267.33,187.17 266,186 C264.67,184.83 262.67,185.17 262,185" fill="none" stroke="#8e8e8e" stroke-width="2.3"/>
<path d="M260,146.3 C258,145.17 252.38,140.88 248,139.5 C243.62,138.12 239.52,137.47 233.7,138 C227.88,138.53 221.68,140.03 213.1,142.7 C204.52,145.37 191.65,149.88 182.2,154 C172.75,158.12 164.13,162.07 156.4,167.4 C148.67,172.73 141.47,179.3 135.8,186 C130.13,192.7 125.83,200.57 122.4,207.6 C118.97,214.63 116.5,223.03 115.2,228.2 C113.9,233.37 114.1,234.3 114.6,238.6 C115.1,242.9 116.05,247.65 118.2,254 C120.35,260.35 124.4,268.97 127.5,276.7 C130.6,284.43 134.05,294.22 136.8,300.4 C139.55,306.58 141.25,310.7 144,313.8 C146.75,316.9 149.52,318.3 153.3,319 C157.08,319.7 161.03,319.38 166.7,318 C172.37,316.62 180.95,313.47 187.3,310.7 C193.65,307.93 200.67,303.97 204.8,301.4 C208.93,298.83 210.8,296.67 212.1,295.3 C213.4,293.93 212.52,293.55 212.6,293.2" fill="none" stroke="#000" stroke-width="2.4"/>
<path d="M260,146.3 C261.75,145.35 266.18,141.98 270.5,140.6 C274.82,139.22 279.9,138.08 285.9,138 C291.9,137.92 297.9,138.28 306.5,140.1 C315.1,141.92 327.18,145.03 337.5,148.9 C347.82,152.77 359.82,158.5 368.4,163.3 C376.98,168.1 383.5,172.55 389,177.7 C394.5,182.85 398.13,188.35 401.4,194.2 C404.67,200.05 407.23,206.27 408.6,212.8 C409.97,219.33 409.77,227.9 409.6,233.4 C409.43,238.9 408.62,239.78 407.6,245.8 C406.58,251.82 405.73,262.12 403.5,269.5 C401.27,276.88 397.47,284.08 394.2,290.1 C390.93,296.12 387.33,300.78 383.9,305.6 C380.47,310.42 377.38,315.57 373.6,319 C369.82,322.43 365.5,325.17 361.2,326.2 C356.9,327.23 352.62,326.4 347.8,325.2 C342.98,324 337.12,322.27 332.3,319 C327.48,315.73 322.5,309.22 318.9,305.6 C315.3,301.98 312.93,299.02 310.7,297.3 C308.47,295.58 306.37,295.63 305.5,295.3" fill="none" stroke="#000" stroke-width="2.4"/>
<path d="M212.6,293.2 C213.37,294.07 215.4,295.82 217.2,298.4 C219,300.98 220.65,305.62 223.4,308.7 C226.15,311.78 229.4,315.02 233.7,316.9 C238,318.78 245.25,319.4 249.2,320 C253.15,320.6 255.52,320.07 257.4,320.5 C259.28,320.93 259.98,322.25 260.5,322.6" fill="none" stroke="#000" stroke-width="2.4"/>
<path d="M305.5,295.3 C304.82,296.67 302.95,300.75 301.4,303.5 C299.85,306.25 298.78,309.4 296.2,311.8 C293.62,314.2 290.18,316.37 285.9,317.9 C281.62,319.43 274.73,320.22 270.5,321 C266.27,321.78 262.17,322.33 260.5,322.6" fill="none" stroke="#000" stroke-width="2.4"/>
<path d="M200.7,286 C201.75,286.5 204.93,287.97 207,289 C209.07,290.03 212.08,291.67 213.1,292.2" fill="none" stroke="#000" stroke-width="2"/>
<path d="M305.5,295.3 C306.25,294.83 307.25,294.22 310,292.5 C312.75,290.78 318.67,286.92 322,285 C325.33,283.08 328.67,281.67 330,281" fill="none" stroke="#8e8e8e" stroke-width="2"/>
<line x1="260" y1="146" x2="260" y2="175" stroke="#000" stroke-width="1.8"/>
<path d="M252.5,205 L268,205 L266,209.5 L255,209.5 Z" fill="#111" stroke="#8e8e8e" stroke-width="1.2"/>
<path d="M256.4,212.5 L264.2,212.5 L260.3,223 Z" fill="#222" stroke="#8e8e8e" stroke-width="1.3"/>
<line x1="260.3" y1="263.3" x2="260.3" y2="274.6" stroke="#8e8e8e" stroke-width="1.6"/>
<path d="M260.2,293 L263.7,303.5 L260.2,318 L256.7,303.5 Z" fill="#000" stroke="#8e8e8e" stroke-width="1.3"/>
<path d="M191.4,240.6 L188.4,246.8 L189.4,253 L197.6,261.2 L213.1,270.5 L218.2,272.6 L223.4,270.5 L225.5,267.4 L221.3,262.3 L202.8,249.9 Z" fill="#e31e1b" stroke="#8e8e8e" stroke-width="1.3" stroke-linejoin="round"/>
<path d="M325.5,241 L333.1,251.2 L329.7,255.4 L311,269.1 L300.8,273.3 L297.4,271.6 L298.2,267.4 L305.9,258.8 Z" fill="#e31e1b" stroke="#8e8e8e" stroke-width="1.3" stroke-linejoin="round"/>
<line x1="211.5" y1="131.5" x2="211.5" y2="247.5" stroke="#e0201c" stroke-width="0.9"/>
<line x1="312.8" y1="131.5" x2="312.8" y2="247.5" stroke="#e0201c" stroke-width="0.9"/>
<path d="M204.2,120.9 C200.53,121.43 188.97,122.53 182.2,124.1 C175.43,125.67 167.55,128.07 163.6,130.3 C159.65,132.53 159.18,134.4 158.5,137.5 C157.82,140.6 159.33,147 159.5,148.9" fill="none" stroke="#000" stroke-width="1.6"/>
<path d="M319.8,120.9 C323.47,121.43 335.03,122.53 341.8,124.1 C348.57,125.67 356.45,128.07 360.4,130.3 C364.35,132.53 364.82,134.4 365.5,137.5 C366.18,140.6 364.67,147 364.5,148.9" fill="none" stroke="#000" stroke-width="1.6"/>
<path d="M204.2,126.2 C201.57,126.72 191.73,128.1 188.4,129.3 C185.07,130.5 184.72,131.68 184.2,133.4 C183.68,135.12 185.12,138.57 185.3,139.6" fill="none" stroke="#000" stroke-width="1.6"/>
<path d="M319.8,126.2 C322.43,126.72 332.27,128.1 335.6,129.3 C338.93,130.5 339.28,131.68 339.8,133.4 C340.32,135.12 338.88,138.57 338.7,139.6" fill="none" stroke="#000" stroke-width="1.6"/>
<line x1="156.3" y1="142.5" x2="161.3" y2="142.5" stroke="#000" stroke-width="1.2"/>
<line x1="182.2" y1="136" x2="187.2" y2="136" stroke="#000" stroke-width="1.2"/>
<line x1="362.7" y1="142.5" x2="367.7" y2="142.5" stroke="#000" stroke-width="1.2"/>
<line x1="336.8" y1="136" x2="341.8" y2="136" stroke="#000" stroke-width="1.2"/>
<line x1="217.6" y1="119.4" x2="243" y2="116.8" stroke="#000" stroke-width="1.5"/>
<line x1="217.6" y1="125.3" x2="243" y2="123.6" stroke="#000" stroke-width="1.5"/>
<line x1="281" y1="118.3" x2="306.7" y2="120" stroke="#000" stroke-width="1.5"/>
<line x1="280" y1="123.6" x2="306.7" y2="126" stroke="#000" stroke-width="1.5"/>
<rect x="204.9" y="100.2" width="12.7" height="30.5" fill="#e31e1b" stroke="#111" stroke-width="1.5"/>
<rect x="209.8" y="89" width="2.8" height="11.5" fill="#111"/>
<rect x="204.4" y="86.8" width="13.6" height="2.6" fill="#111"/>
<rect x="307.4" y="100.2" width="12.7" height="30.5" fill="#e31e1b" stroke="#111" stroke-width="1.5"/>
<rect x="312.3" y="89" width="2.8" height="11.5" fill="#111"/>
<rect x="306.9" y="86.8" width="13.6" height="2.6" fill="#111"/>
<path d="M242.9,103.8 L251.4,94.5 L281.2,94.5 L273.5,103.8 Z" fill="#8a8a8a"/>
<path d="M273.5,103.8 L281.2,94.5 L281.2,120.9 L273.5,130.8 Z" fill="#231815"/>
<rect x="242.9" y="103.8" width="30.6" height="27" fill="#6f6f6f"/>
<text x="263.7" y="253.7" font-size="31" text-anchor="middle">ZIm</text>
</g>
<text x="180.2" y="1742" font-size="31.4" text-anchor="middle">Pde11a-Cre mice</text>
<text x="0" y="432.9" font-size="46" fill="#231815" font-weight="bold">c</text>
<rect x="233.4" y="479" width="210.4" height="285" fill="#d3d3d3"/>
<line x1="129" y1="478" x2="129" y2="768" stroke="#000" stroke-width="3.7"/>
<line x1="119" y1="764" x2="129" y2="764" stroke="#000" stroke-width="3.7"/>
<text x="106.8" y="773.8" font-size="31.5" text-anchor="end">0</text>
<line x1="119" y1="707.54" x2="129" y2="707.54" stroke="#000" stroke-width="3.7"/>
<text x="117.3" y="717.34" font-size="31.5" text-anchor="end">20</text>
<line x1="119" y1="651.08" x2="129" y2="651.08" stroke="#000" stroke-width="3.7"/>
<text x="117.3" y="660.88" font-size="31.5" text-anchor="end">40</text>
<line x1="119" y1="594.62" x2="129" y2="594.62" stroke="#000" stroke-width="3.7"/>
<text x="117.3" y="604.42" font-size="31.5" text-anchor="end">60</text>
<line x1="119" y1="538.16" x2="129" y2="538.16" stroke="#000" stroke-width="3.7"/>
<text x="117.3" y="547.96" font-size="31.5" text-anchor="end">80</text>
<line x1="119" y1="481.7" x2="129" y2="481.7" stroke="#000" stroke-width="3.7"/>
<text x="117.3" y="491.5" font-size="31.5" text-anchor="end">100</text>
<line x1="119" y1="764" x2="556.5" y2="764" stroke="#000" stroke-width="3.7"/>
<line x1="146.5" y1="764" x2="146.5" y2="773.6" stroke="#000" stroke-width="3.7"/>
<line x1="181.9" y1="764" x2="181.9" y2="773.6" stroke="#000" stroke-width="3.7"/>
<line x1="217.3" y1="764" x2="217.3" y2="773.6" stroke="#000" stroke-width="3.7"/>
<line x1="252.7" y1="764" x2="252.7" y2="773.6" stroke="#000" stroke-width="3.7"/>
<line x1="288.1" y1="764" x2="288.1" y2="773.6" stroke="#000" stroke-width="3.7"/>
<line x1="323.5" y1="764" x2="323.5" y2="773.6" stroke="#000" stroke-width="3.7"/>
<line x1="358.9" y1="764" x2="358.9" y2="773.6" stroke="#000" stroke-width="3.7"/>
<line x1="394.3" y1="764" x2="394.3" y2="773.6" stroke="#000" stroke-width="3.7"/>
<line x1="429.7" y1="764" x2="429.7" y2="773.6" stroke="#000" stroke-width="3.7"/>
<line x1="465.1" y1="764" x2="465.1" y2="773.6" stroke="#000" stroke-width="3.7"/>
<line x1="500.5" y1="764" x2="500.5" y2="773.6" stroke="#000" stroke-width="3.7"/>
<line x1="535.9" y1="764" x2="535.9" y2="773.6" stroke="#000" stroke-width="3.7"/>
<text transform="translate(159.5,787) rotate(-73)" x="0" y="0" font-size="28.5" text-anchor="end">ZT7</text>
<text transform="translate(194.9,787) rotate(-73)" x="0" y="0" font-size="28.5" text-anchor="end">ZT9</text>
<text transform="translate(230.3,787) rotate(-73)" x="0" y="0" font-size="28.5" text-anchor="end">ZT11</text>
<text transform="translate(265.7,787) rotate(-73)" x="0" y="0" font-size="28.5" text-anchor="end">ZT13</text>
<text transform="translate(301.1,787) rotate(-73)" x="0" y="0" font-size="28.5" text-anchor="end">ZT15</text>
<text transform="translate(336.5,787) rotate(-73)" x="0" y="0" font-size="28.5" text-anchor="end">ZT17</text>
<text transform="translate(371.9,787) rotate(-73)" x="0" y="0" font-size="28.5" text-anchor="end">ZT19</text>
<text transform="translate(407.3,787) rotate(-73)" x="0" y="0" font-size="28.5" text-anchor="end">ZT21</text>
<text transform="translate(442.7,787) rotate(-73)" x="0" y="0" font-size="28.5" text-anchor="end">ZT23</text>
<text transform="translate(478.1,787) rotate(-73)" x="0" y="0" font-size="28.5" text-anchor="end">ZT1</text>
<text transform="translate(513.5,787) rotate(-73)" x="0" y="0" font-size="28.5" text-anchor="end">ZT3</text>
<text transform="translate(548.9,787) rotate(-73)" x="0" y="0" font-size="28.5" text-anchor="end">ZT5</text>
<line x1="146.5" y1="622.36" x2="146.5" y2="592.72" stroke="#008000" stroke-width="3.5"/>
<line x1="139" y1="622.36" x2="154" y2="622.36" stroke="#008000" stroke-width="3.5"/>
<line x1="139" y1="592.72" x2="154" y2="592.72" stroke="#008000" stroke-width="3.5"/>
<line x1="181.9" y1="673.37" x2="181.9" y2="653.71" stroke="#008000" stroke-width="3.5"/>
<line x1="174.4" y1="673.37" x2="189.4" y2="673.37" stroke="#008000" stroke-width="3.5"/>
<line x1="174.4" y1="653.71" x2="189.4" y2="653.71" stroke="#008000" stroke-width="3.5"/>
<line x1="217.3" y1="668.52" x2="217.3" y2="643.16" stroke="#008000" stroke-width="3.5"/>
<line x1="209.8" y1="668.52" x2="224.8" y2="668.52" stroke="#008000" stroke-width="3.5"/>
<line x1="209.8" y1="643.16" x2="224.8" y2="643.16" stroke="#008000" stroke-width="3.5"/>
<line x1="252.7" y1="624.35" x2="252.7" y2="607.25" stroke="#008000" stroke-width="3.5"/>
<line x1="245.2" y1="624.35" x2="260.2" y2="624.35" stroke="#008000" stroke-width="3.5"/>
<line x1="245.2" y1="607.25" x2="260.2" y2="607.25" stroke="#008000" stroke-width="3.5"/>
<line x1="288.1" y1="584.45" x2="288.1" y2="557.38" stroke="#008000" stroke-width="3.5"/>
<line x1="280.6" y1="584.45" x2="295.6" y2="584.45" stroke="#008000" stroke-width="3.5"/>
<line x1="280.6" y1="557.38" x2="295.6" y2="557.38" stroke="#008000" stroke-width="3.5"/>
<line x1="323.5" y1="557.94" x2="323.5" y2="524.03" stroke="#008000" stroke-width="3.5"/>
<line x1="316" y1="557.94" x2="331" y2="557.94" stroke="#008000" stroke-width="3.5"/>
<line x1="316" y1="524.03" x2="331" y2="524.03" stroke="#008000" stroke-width="3.5"/>
<line x1="358.9" y1="581.6" x2="358.9" y2="547.4" stroke="#008000" stroke-width="3.5"/>
<line x1="351.4" y1="581.6" x2="366.4" y2="581.6" stroke="#008000" stroke-width="3.5"/>
<line x1="351.4" y1="547.4" x2="366.4" y2="547.4" stroke="#008000" stroke-width="3.5"/>
<line x1="394.3" y1="607.25" x2="394.3" y2="579.61" stroke="#008000" stroke-width="3.5"/>
<line x1="386.8" y1="607.25" x2="401.8" y2="607.25" stroke="#008000" stroke-width="3.5"/>
<line x1="386.8" y1="579.61" x2="401.8" y2="579.61" stroke="#008000" stroke-width="3.5"/>
<line x1="429.7" y1="600.98" x2="429.7" y2="555.95" stroke="#008000" stroke-width="3.5"/>
<line x1="422.2" y1="600.98" x2="437.2" y2="600.98" stroke="#008000" stroke-width="3.5"/>
<line x1="422.2" y1="555.95" x2="437.2" y2="555.95" stroke="#008000" stroke-width="3.5"/>
<line x1="465.1" y1="643.73" x2="465.1" y2="608.11" stroke="#008000" stroke-width="3.5"/>
<line x1="457.6" y1="643.73" x2="472.6" y2="643.73" stroke="#008000" stroke-width="3.5"/>
<line x1="457.6" y1="608.11" x2="472.6" y2="608.11" stroke="#008000" stroke-width="3.5"/>
<line x1="500.5" y1="624.35" x2="500.5" y2="576.18" stroke="#008000" stroke-width="3.5"/>
<line x1="493" y1="624.35" x2="508" y2="624.35" stroke="#008000" stroke-width="3.5"/>
<line x1="493" y1="576.18" x2="508" y2="576.18" stroke="#008000" stroke-width="3.5"/>
<line x1="535.9" y1="643.73" x2="535.9" y2="618.65" stroke="#008000" stroke-width="3.5"/>
<line x1="528.4" y1="643.73" x2="543.4" y2="643.73" stroke="#008000" stroke-width="3.5"/>
<line x1="528.4" y1="618.65" x2="543.4" y2="618.65" stroke="#008000" stroke-width="3.5"/>
<polyline points="146.5,607.53 181.9,663.39 217.3,656.27 252.7,615.8 288.1,573.62 323.5,540.85 358.9,563.08 394.3,584.45 429.7,580.46 465.1,625.49 500.5,600.98 535.9,631.48" fill="none" stroke="#008000" stroke-width="3.8" stroke-linejoin="miter"/>
<rect x="139" y="600.03" width="15" height="15" fill="#008000"/>
<rect x="174.4" y="655.89" width="15" height="15" fill="#008000"/>
<rect x="209.8" y="648.77" width="15" height="15" fill="#008000"/>
<rect x="245.2" y="608.3" width="15" height="15" fill="#008000"/>
<rect x="280.6" y="566.12" width="15" height="15" fill="#008000"/>
<rect x="316" y="533.35" width="15" height="15" fill="#008000"/>
<rect x="351.4" y="555.58" width="15" height="15" fill="#008000"/>
<rect x="386.8" y="576.95" width="15" height="15" fill="#008000"/>
<rect x="422.2" y="572.96" width="15" height="15" fill="#008000"/>
<rect x="457.6" y="617.99" width="15" height="15" fill="#008000"/>
<rect x="493" y="593.48" width="15" height="15" fill="#008000"/>
<rect x="528.4" y="623.98" width="15" height="15" fill="#008000"/>
<line x1="146.5" y1="685.06" x2="146.5" y2="656.27" stroke="#000" stroke-width="3.5"/>
<line x1="139" y1="685.06" x2="154" y2="685.06" stroke="#000" stroke-width="3.5"/>
<line x1="139" y1="656.27" x2="154" y2="656.27" stroke="#000" stroke-width="3.5"/>
<line x1="181.9" y1="677.36" x2="181.9" y2="639.46" stroke="#000" stroke-width="3.5"/>
<line x1="174.4" y1="677.36" x2="189.4" y2="677.36" stroke="#000" stroke-width="3.5"/>
<line x1="174.4" y1="639.46" x2="189.4" y2="639.46" stroke="#000" stroke-width="3.5"/>
<line x1="217.3" y1="676.79" x2="217.3" y2="651.42" stroke="#000" stroke-width="3.5"/>
<line x1="209.8" y1="676.79" x2="224.8" y2="676.79" stroke="#000" stroke-width="3.5"/>
<line x1="209.8" y1="651.42" x2="224.8" y2="651.42" stroke="#000" stroke-width="3.5"/>
<line x1="252.7" y1="650.86" x2="252.7" y2="628.06" stroke="#000" stroke-width="3.5"/>
<line x1="245.2" y1="650.86" x2="260.2" y2="650.86" stroke="#000" stroke-width="3.5"/>
<line x1="245.2" y1="628.06" x2="260.2" y2="628.06" stroke="#000" stroke-width="3.5"/>
<line x1="288.1" y1="588.44" x2="288.1" y2="567.92" stroke="#000" stroke-width="3.5"/>
<line x1="280.6" y1="588.44" x2="295.6" y2="588.44" stroke="#000" stroke-width="3.5"/>
<line x1="280.6" y1="567.92" x2="295.6" y2="567.92" stroke="#000" stroke-width="3.5"/>
<line x1="323.5" y1="580.46" x2="323.5" y2="554.81" stroke="#000" stroke-width="3.5"/>
<line x1="316" y1="580.46" x2="331" y2="580.46" stroke="#000" stroke-width="3.5"/>
<line x1="316" y1="554.81" x2="331" y2="554.81" stroke="#000" stroke-width="3.5"/>
<line x1="358.9" y1="611.52" x2="358.9" y2="567.35" stroke="#000" stroke-width="3.5"/>
<line x1="351.4" y1="611.52" x2="366.4" y2="611.52" stroke="#000" stroke-width="3.5"/>
<line x1="351.4" y1="567.35" x2="366.4" y2="567.35" stroke="#000" stroke-width="3.5"/>
<line x1="394.3" y1="608.11" x2="394.3" y2="563.64" stroke="#000" stroke-width="3.5"/>
<line x1="386.8" y1="608.11" x2="401.8" y2="608.11" stroke="#000" stroke-width="3.5"/>
<line x1="386.8" y1="563.64" x2="401.8" y2="563.64" stroke="#000" stroke-width="3.5"/>
<line x1="429.7" y1="614.09" x2="429.7" y2="590.15" stroke="#000" stroke-width="3.5"/>
<line x1="422.2" y1="614.09" x2="437.2" y2="614.09" stroke="#000" stroke-width="3.5"/>
<line x1="422.2" y1="590.15" x2="437.2" y2="590.15" stroke="#000" stroke-width="3.5"/>
<line x1="465.1" y1="679.07" x2="465.1" y2="644.3" stroke="#000" stroke-width="3.5"/>
<line x1="457.6" y1="679.07" x2="472.6" y2="679.07" stroke="#000" stroke-width="3.5"/>
<line x1="457.6" y1="644.3" x2="472.6" y2="644.3" stroke="#000" stroke-width="3.5"/>
<line x1="500.5" y1="638.88" x2="500.5" y2="616.65" stroke="#000" stroke-width="3.5"/>
<line x1="493" y1="638.88" x2="508" y2="638.88" stroke="#000" stroke-width="3.5"/>
<line x1="493" y1="616.65" x2="508" y2="616.65" stroke="#000" stroke-width="3.5"/>
<line x1="535.9" y1="666.25" x2="535.9" y2="646.29" stroke="#000" stroke-width="3.5"/>
<line x1="528.4" y1="666.25" x2="543.4" y2="666.25" stroke="#000" stroke-width="3.5"/>
<line x1="528.4" y1="646.29" x2="543.4" y2="646.29" stroke="#000" stroke-width="3.5"/>
<polyline points="146.5,670.81 181.9,660.26 217.3,662.83 252.7,639.74 288.1,577.89 323.5,567.92 358.9,589.29 394.3,587.3 429.7,601.84 465.1,661.97 500.5,627.2 535.9,656.27" fill="none" stroke="#000" stroke-width="3.8" stroke-linejoin="miter"/>
<circle cx="146.5" cy="670.81" r="7.2" fill="#000"/>
<circle cx="181.9" cy="660.26" r="7.2" fill="#000"/>
<circle cx="217.3" cy="662.83" r="7.2" fill="#000"/>
<circle cx="252.7" cy="639.74" r="7.2" fill="#000"/>
<circle cx="288.1" cy="577.89" r="7.2" fill="#000"/>
<circle cx="323.5" cy="567.92" r="7.2" fill="#000"/>
<circle cx="358.9" cy="589.29" r="7.2" fill="#000"/>
<circle cx="394.3" cy="587.3" r="7.2" fill="#000"/>
<circle cx="429.7" cy="601.84" r="7.2" fill="#000"/>
<circle cx="465.1" cy="661.97" r="7.2" fill="#000"/>
<circle cx="500.5" cy="627.2" r="7.2" fill="#000"/>
<circle cx="535.9" cy="656.27" r="7.2" fill="#000"/>
<text x="355" y="457.6" font-size="31" text-anchor="middle">Wake</text>
<text transform="translate(57.7,619) rotate(-90)" x="0" y="0" font-size="31" text-anchor="middle">Percentage (%)</text>
<text transform="translate(121.38,555) rotate(90)" x="0" y="0" font-size="46" text-anchor="middle" letter-spacing="1.5">***</text>
<polyline points="549,628 559,628 559,655 549,655" fill="none" stroke="#000" stroke-width="3.5"/>
<text transform="translate(551.08,641.7) rotate(90)" x="0" y="0" font-size="46" text-anchor="middle" letter-spacing="1.5">**</text>
<text x="580.8" y="432.9" font-size="46" fill="#231815" font-weight="bold">d</text>
<rect x="810" y="479" width="210.5" height="285" fill="#d3d3d3"/>
<line x1="703.4" y1="478" x2="703.4" y2="768" stroke="#000" stroke-width="3.7"/>
<line x1="693.4" y1="764" x2="703.4" y2="764" stroke="#000" stroke-width="3.7"/>
<text x="680.2" y="773.8" font-size="31.5" text-anchor="end">0</text>
<line x1="693.4" y1="693.42" x2="703.4" y2="693.42" stroke="#000" stroke-width="3.7"/>
<text x="686.1" y="703.22" font-size="31.5" text-anchor="end">20</text>
<line x1="693.4" y1="622.85" x2="703.4" y2="622.85" stroke="#000" stroke-width="3.7"/>
<text x="686.1" y="632.65" font-size="31.5" text-anchor="end">40</text>
<line x1="693.4" y1="552.27" x2="703.4" y2="552.27" stroke="#000" stroke-width="3.7"/>
<text x="686.1" y="562.07" font-size="31.5" text-anchor="end">60</text>
<line x1="693.4" y1="481.7" x2="703.4" y2="481.7" stroke="#000" stroke-width="3.7"/>
<text x="686.1" y="491.5" font-size="31.5" text-anchor="end">80</text>
<line x1="693.7" y1="764" x2="1130" y2="764" stroke="#000" stroke-width="3.7"/>
<line x1="721" y1="764" x2="721" y2="773.6" stroke="#000" stroke-width="3.7"/>
<line x1="756.27" y1="764" x2="756.27" y2="773.6" stroke="#000" stroke-width="3.7"/>
<line x1="791.54" y1="764" x2="791.54" y2="773.6" stroke="#000" stroke-width="3.7"/>
<line x1="826.81" y1="764" x2="826.81" y2="773.6" stroke="#000" stroke-width="3.7"/>
<line x1="862.08" y1="764" x2="862.08" y2="773.6" stroke="#000" stroke-width="3.7"/>
<line x1="897.35" y1="764" x2="897.35" y2="773.6" stroke="#000" stroke-width="3.7"/>
<line x1="932.62" y1="764" x2="932.62" y2="773.6" stroke="#000" stroke-width="3.7"/>
<line x1="967.89" y1="764" x2="967.89" y2="773.6" stroke="#000" stroke-width="3.7"/>
<line x1="1003.16" y1="764" x2="1003.16" y2="773.6" stroke="#000" stroke-width="3.7"/>
<line x1="1038.43" y1="764" x2="1038.43" y2="773.6" stroke="#000" stroke-width="3.7"/>
<line x1="1073.7" y1="764" x2="1073.7" y2="773.6" stroke="#000" stroke-width="3.7"/>
<line x1="1108.97" y1="764" x2="1108.97" y2="773.6" stroke="#000" stroke-width="3.7"/>
<text transform="translate(734,787) rotate(-73)" x="0" y="0" font-size="28.5" text-anchor="end">ZT7</text>
<text transform="translate(769.27,787) rotate(-73)" x="0" y="0" font-size="28.5" text-anchor="end">ZT9</text>
<text transform="translate(804.54,787) rotate(-73)" x="0" y="0" font-size="28.5" text-anchor="end">ZT11</text>
<text transform="translate(839.81,787) rotate(-73)" x="0" y="0" font-size="28.5" text-anchor="end">ZT13</text>
<text transform="translate(875.08,787) rotate(-73)" x="0" y="0" font-size="28.5" text-anchor="end">ZT15</text>
<text transform="translate(910.35,787) rotate(-73)" x="0" y="0" font-size="28.5" text-anchor="end">ZT17</text>
<text transform="translate(945.62,787) rotate(-73)" x="0" y="0" font-size="28.5" text-anchor="end">ZT19</text>
<text transform="translate(980.89,787) rotate(-73)" x="0" y="0" font-size="28.5" text-anchor="end">ZT21</text>
<text transform="translate(1016.16,787) rotate(-73)" x="0" y="0" font-size="28.5" text-anchor="end">ZT23</text>
<text transform="translate(1051.43,787) rotate(-73)" x="0" y="0" font-size="28.5" text-anchor="end">ZT1</text>
<text transform="translate(1086.7,787) rotate(-73)" x="0" y="0" font-size="28.5" text-anchor="end">ZT3</text>
<text transform="translate(1121.97,787) rotate(-73)" x="0" y="0" font-size="28.5" text-anchor="end">ZT5</text>
<line x1="721" y1="629.69" x2="721" y2="597.63" stroke="#008000" stroke-width="3.5"/>
<line x1="713.5" y1="629.69" x2="728.5" y2="629.69" stroke="#008000" stroke-width="3.5"/>
<line x1="713.5" y1="597.63" x2="728.5" y2="597.63" stroke="#008000" stroke-width="3.5"/>
<line x1="756.27" y1="569.84" x2="756.27" y2="556.31" stroke="#008000" stroke-width="3.5"/>
<line x1="748.77" y1="569.84" x2="763.77" y2="569.84" stroke="#008000" stroke-width="3.5"/>
<line x1="748.77" y1="556.31" x2="763.77" y2="556.31" stroke="#008000" stroke-width="3.5"/>
<line x1="791.54" y1="584.45" x2="791.54" y2="564.5" stroke="#008000" stroke-width="3.5"/>
<line x1="784.04" y1="584.45" x2="799.04" y2="584.45" stroke="#008000" stroke-width="3.5"/>
<line x1="784.04" y1="564.5" x2="799.04" y2="564.5" stroke="#008000" stroke-width="3.5"/>
<line x1="826.81" y1="622.21" x2="826.81" y2="602.62" stroke="#008000" stroke-width="3.5"/>
<line x1="819.31" y1="622.21" x2="834.31" y2="622.21" stroke="#008000" stroke-width="3.5"/>
<line x1="819.31" y1="602.62" x2="834.31" y2="602.62" stroke="#008000" stroke-width="3.5"/>
<line x1="862.08" y1="676.01" x2="862.08" y2="650.36" stroke="#008000" stroke-width="3.5"/>
<line x1="854.58" y1="676.01" x2="869.58" y2="676.01" stroke="#008000" stroke-width="3.5"/>
<line x1="854.58" y1="650.36" x2="869.58" y2="650.36" stroke="#008000" stroke-width="3.5"/>
<line x1="897.35" y1="715.55" x2="897.35" y2="676.72" stroke="#008000" stroke-width="3.5"/>
<line x1="889.85" y1="715.55" x2="904.85" y2="715.55" stroke="#008000" stroke-width="3.5"/>
<line x1="889.85" y1="676.72" x2="904.85" y2="676.72" stroke="#008000" stroke-width="3.5"/>
<line x1="932.62" y1="685.98" x2="932.62" y2="643.59" stroke="#008000" stroke-width="3.5"/>
<line x1="925.12" y1="685.98" x2="940.12" y2="685.98" stroke="#008000" stroke-width="3.5"/>
<line x1="925.12" y1="643.59" x2="940.12" y2="643.59" stroke="#008000" stroke-width="3.5"/>
<line x1="967.89" y1="662.83" x2="967.89" y2="623.99" stroke="#008000" stroke-width="3.5"/>
<line x1="960.39" y1="662.83" x2="975.39" y2="662.83" stroke="#008000" stroke-width="3.5"/>
<line x1="960.39" y1="623.99" x2="975.39" y2="623.99" stroke="#008000" stroke-width="3.5"/>
<line x1="1003.16" y1="679.92" x2="1003.16" y2="625.06" stroke="#008000" stroke-width="3.5"/>
<line x1="995.66" y1="679.92" x2="1010.66" y2="679.92" stroke="#008000" stroke-width="3.5"/>
<line x1="995.66" y1="625.06" x2="1010.66" y2="625.06" stroke="#008000" stroke-width="3.5"/>
<line x1="1038.43" y1="623.99" x2="1038.43" y2="586.94" stroke="#008000" stroke-width="3.5"/>
<line x1="1030.93" y1="623.99" x2="1045.93" y2="623.99" stroke="#008000" stroke-width="3.5"/>
<line x1="1030.93" y1="586.94" x2="1045.93" y2="586.94" stroke="#008000" stroke-width="3.5"/>
<line x1="1073.7" y1="661.76" x2="1073.7" y2="604.04" stroke="#008000" stroke-width="3.5"/>
<line x1="1066.2" y1="661.76" x2="1081.2" y2="661.76" stroke="#008000" stroke-width="3.5"/>
<line x1="1066.2" y1="604.04" x2="1081.2" y2="604.04" stroke="#008000" stroke-width="3.5"/>
<line x1="1108.97" y1="612.59" x2="1108.97" y2="586.23" stroke="#008000" stroke-width="3.5"/>
<line x1="1101.47" y1="612.59" x2="1116.47" y2="612.59" stroke="#008000" stroke-width="3.5"/>
<line x1="1101.47" y1="586.23" x2="1116.47" y2="586.23" stroke="#008000" stroke-width="3.5"/>
<polyline points="721,613.31 756.27,563.08 791.54,574.48 826.81,611.52 862.08,661.04 897.35,695.96 932.62,665.32 967.89,647.15 1003.16,652.49 1038.43,604.76 1073.7,633.97 1108.97,598.34" fill="none" stroke="#008000" stroke-width="3.8" stroke-linejoin="miter"/>
<rect x="713.5" y="605.81" width="15" height="15" fill="#008000"/>
<rect x="748.77" y="555.58" width="15" height="15" fill="#008000"/>
<rect x="784.04" y="566.98" width="15" height="15" fill="#008000"/>
<rect x="819.31" y="604.02" width="15" height="15" fill="#008000"/>
<rect x="854.58" y="653.54" width="15" height="15" fill="#008000"/>
<rect x="889.85" y="688.46" width="15" height="15" fill="#008000"/>
<rect x="925.12" y="657.82" width="15" height="15" fill="#008000"/>
<rect x="960.39" y="639.65" width="15" height="15" fill="#008000"/>
<rect x="995.66" y="644.99" width="15" height="15" fill="#008000"/>
<rect x="1030.93" y="597.26" width="15" height="15" fill="#008000"/>
<rect x="1066.2" y="626.47" width="15" height="15" fill="#008000"/>
<rect x="1101.47" y="590.84" width="15" height="15" fill="#008000"/>
<line x1="721" y1="562.01" x2="721" y2="533.86" stroke="#000" stroke-width="3.5"/>
<line x1="713.5" y1="562.01" x2="728.5" y2="562.01" stroke="#000" stroke-width="3.5"/>
<line x1="713.5" y1="533.86" x2="728.5" y2="533.86" stroke="#000" stroke-width="3.5"/>
<line x1="756.27" y1="589.08" x2="756.27" y2="547.04" stroke="#000" stroke-width="3.5"/>
<line x1="748.77" y1="589.08" x2="763.77" y2="589.08" stroke="#000" stroke-width="3.5"/>
<line x1="748.77" y1="547.04" x2="763.77" y2="547.04" stroke="#000" stroke-width="3.5"/>
<line x1="791.54" y1="587.66" x2="791.54" y2="551.32" stroke="#000" stroke-width="3.5"/>
<line x1="784.04" y1="587.66" x2="799.04" y2="587.66" stroke="#000" stroke-width="3.5"/>
<line x1="784.04" y1="551.32" x2="799.04" y2="551.32" stroke="#000" stroke-width="3.5"/>
<line x1="826.81" y1="598.7" x2="826.81" y2="575.54" stroke="#000" stroke-width="3.5"/>
<line x1="819.31" y1="598.7" x2="834.31" y2="598.7" stroke="#000" stroke-width="3.5"/>
<line x1="819.31" y1="575.54" x2="834.31" y2="575.54" stroke="#000" stroke-width="3.5"/>
<line x1="862.08" y1="668.52" x2="862.08" y2="642.16" stroke="#000" stroke-width="3.5"/>
<line x1="854.58" y1="668.52" x2="869.58" y2="668.52" stroke="#000" stroke-width="3.5"/>
<line x1="854.58" y1="642.16" x2="869.58" y2="642.16" stroke="#000" stroke-width="3.5"/>
<line x1="897.35" y1="679.92" x2="897.35" y2="650.36" stroke="#000" stroke-width="3.5"/>
<line x1="889.85" y1="679.92" x2="904.85" y2="679.92" stroke="#000" stroke-width="3.5"/>
<line x1="889.85" y1="650.36" x2="904.85" y2="650.36" stroke="#000" stroke-width="3.5"/>
<line x1="932.62" y1="660.33" x2="932.62" y2="608.32" stroke="#000" stroke-width="3.5"/>
<line x1="925.12" y1="660.33" x2="940.12" y2="660.33" stroke="#000" stroke-width="3.5"/>
<line x1="925.12" y1="608.32" x2="940.12" y2="608.32" stroke="#000" stroke-width="3.5"/>
<line x1="967.89" y1="669.59" x2="967.89" y2="617.23" stroke="#000" stroke-width="3.5"/>
<line x1="960.39" y1="669.59" x2="975.39" y2="669.59" stroke="#000" stroke-width="3.5"/>
<line x1="960.39" y1="617.23" x2="975.39" y2="617.23" stroke="#000" stroke-width="3.5"/>
<line x1="1003.16" y1="641.45" x2="1003.16" y2="615.8" stroke="#000" stroke-width="3.5"/>
<line x1="995.66" y1="641.45" x2="1010.66" y2="641.45" stroke="#000" stroke-width="3.5"/>
<line x1="995.66" y1="615.8" x2="1010.66" y2="615.8" stroke="#000" stroke-width="3.5"/>
<line x1="1038.43" y1="585.16" x2="1038.43" y2="549.54" stroke="#000" stroke-width="3.5"/>
<line x1="1030.93" y1="585.16" x2="1045.93" y2="585.16" stroke="#000" stroke-width="3.5"/>
<line x1="1030.93" y1="549.54" x2="1045.93" y2="549.54" stroke="#000" stroke-width="3.5"/>
<line x1="1073.7" y1="614.02" x2="1073.7" y2="589.44" stroke="#000" stroke-width="3.5"/>
<line x1="1066.2" y1="614.02" x2="1081.2" y2="614.02" stroke="#000" stroke-width="3.5"/>
<line x1="1066.2" y1="589.44" x2="1081.2" y2="589.44" stroke="#000" stroke-width="3.5"/>
<line x1="1108.97" y1="582.31" x2="1108.97" y2="561.29" stroke="#000" stroke-width="3.5"/>
<line x1="1101.47" y1="582.31" x2="1116.47" y2="582.31" stroke="#000" stroke-width="3.5"/>
<line x1="1101.47" y1="561.29" x2="1116.47" y2="561.29" stroke="#000" stroke-width="3.5"/>
<polyline points="721,548.11 756.27,568.06 791.54,569.49 826.81,586.59 862.08,656.77 897.35,665.32 932.62,633.97 967.89,643.23 1003.16,628.98 1038.43,566.99 1073.7,600.84 1108.97,571.27" fill="none" stroke="#000" stroke-width="3.8" stroke-linejoin="miter"/>
<circle cx="721" cy="548.11" r="7.2" fill="#000"/>
<circle cx="756.27" cy="568.06" r="7.2" fill="#000"/>
<circle cx="791.54" cy="569.49" r="7.2" fill="#000"/>
<circle cx="826.81" cy="586.59" r="7.2" fill="#000"/>
<circle cx="862.08" cy="656.77" r="7.2" fill="#000"/>
<circle cx="897.35" cy="665.32" r="7.2" fill="#000"/>
<circle cx="932.62" cy="633.97" r="7.2" fill="#000"/>
<circle cx="967.89" cy="643.23" r="7.2" fill="#000"/>
<circle cx="1003.16" cy="628.98" r="7.2" fill="#000"/>
<circle cx="1038.43" cy="566.99" r="7.2" fill="#000"/>
<circle cx="1073.7" cy="600.84" r="7.2" fill="#000"/>
<circle cx="1108.97" cy="571.27" r="7.2" fill="#000"/>
<text x="922" y="457.6" font-size="31" text-anchor="middle">NREM</text>
<text transform="translate(637.7,619) rotate(-90)" x="0" y="0" font-size="31" text-anchor="middle">Percentage (%)</text>
<text transform="translate(696.08,497) rotate(90)" x="0" y="0" font-size="46" text-anchor="middle" letter-spacing="1.5">***</text>
<polyline points="1122,570.7 1133,570.7 1133,597 1122,597" fill="none" stroke="#000" stroke-width="3.5"/>
<text transform="translate(1126.08,584) rotate(90)" x="0" y="0" font-size="46" text-anchor="middle" letter-spacing="1.5">**</text>
<text x="1172.4" y="432.8" font-size="46" fill="#231815" font-weight="bold">e</text>
<rect x="1387.5" y="479" width="210" height="285" fill="#d3d3d3"/>
<line x1="1280.9" y1="478" x2="1280.9" y2="768" stroke="#000" stroke-width="3.7"/>
<line x1="1270.9" y1="764" x2="1280.9" y2="764" stroke="#000" stroke-width="3.7"/>
<text x="1261.9" y="773.8" font-size="31.5" text-anchor="end">0</text>
<line x1="1270.9" y1="669.8" x2="1280.9" y2="669.8" stroke="#000" stroke-width="3.7"/>
<text x="1266.4" y="679.6" font-size="31.5" text-anchor="end">5</text>
<line x1="1270.9" y1="575.6" x2="1280.9" y2="575.6" stroke="#000" stroke-width="3.7"/>
<text x="1266.4" y="585.4" font-size="31.5" text-anchor="end">10</text>
<line x1="1270.9" y1="481.4" x2="1280.9" y2="481.4" stroke="#000" stroke-width="3.7"/>
<text x="1266.4" y="491.2" font-size="31.5" text-anchor="end">15</text>
<line x1="1270.4" y1="764" x2="1707" y2="764" stroke="#000" stroke-width="3.7"/>
<line x1="1298" y1="764" x2="1298" y2="773.6" stroke="#000" stroke-width="3.7"/>
<line x1="1333.3" y1="764" x2="1333.3" y2="773.6" stroke="#000" stroke-width="3.7"/>
<line x1="1368.6" y1="764" x2="1368.6" y2="773.6" stroke="#000" stroke-width="3.7"/>
<line x1="1403.9" y1="764" x2="1403.9" y2="773.6" stroke="#000" stroke-width="3.7"/>
<line x1="1439.2" y1="764" x2="1439.2" y2="773.6" stroke="#000" stroke-width="3.7"/>
<line x1="1474.5" y1="764" x2="1474.5" y2="773.6" stroke="#000" stroke-width="3.7"/>
<line x1="1509.8" y1="764" x2="1509.8" y2="773.6" stroke="#000" stroke-width="3.7"/>
<line x1="1545.1" y1="764" x2="1545.1" y2="773.6" stroke="#000" stroke-width="3.7"/>
<line x1="1580.4" y1="764" x2="1580.4" y2="773.6" stroke="#000" stroke-width="3.7"/>
<line x1="1615.7" y1="764" x2="1615.7" y2="773.6" stroke="#000" stroke-width="3.7"/>
<line x1="1651" y1="764" x2="1651" y2="773.6" stroke="#000" stroke-width="3.7"/>
<line x1="1686.3" y1="764" x2="1686.3" y2="773.6" stroke="#000" stroke-width="3.7"/>
<text transform="translate(1311,787) rotate(-73)" x="0" y="0" font-size="28.5" text-anchor="end">ZT7</text>
<text transform="translate(1346.3,787) rotate(-73)" x="0" y="0" font-size="28.5" text-anchor="end">ZT9</text>
<text transform="translate(1381.6,787) rotate(-73)" x="0" y="0" font-size="28.5" text-anchor="end">ZT11</text>
<text transform="translate(1416.9,787) rotate(-73)" x="0" y="0" font-size="28.5" text-anchor="end">ZT13</text>
<text transform="translate(1452.2,787) rotate(-73)" x="0" y="0" font-size="28.5" text-anchor="end">ZT15</text>
<text transform="translate(1487.5,787) rotate(-73)" x="0" y="0" font-size="28.5" text-anchor="end">ZT17</text>
<text transform="translate(1522.8,787) rotate(-73)" x="0" y="0" font-size="28.5" text-anchor="end">ZT19</text>
<text transform="translate(1558.1,787) rotate(-73)" x="0" y="0" font-size="28.5" text-anchor="end">ZT21</text>
<text transform="translate(1593.4,787) rotate(-73)" x="0" y="0" font-size="28.5" text-anchor="end">ZT23</text>
<text transform="translate(1628.7,787) rotate(-73)" x="0" y="0" font-size="28.5" text-anchor="end">ZT1</text>
<text transform="translate(1664,787) rotate(-73)" x="0" y="0" font-size="28.5" text-anchor="end">ZT3</text>
<text transform="translate(1699.3,787) rotate(-73)" x="0" y="0" font-size="28.5" text-anchor="end">ZT5</text>
<line x1="1298" y1="741.2" x2="1298" y2="708.9" stroke="#008000" stroke-width="3.5"/>
<line x1="1290.5" y1="741.2" x2="1305.5" y2="741.2" stroke="#008000" stroke-width="3.5"/>
<line x1="1290.5" y1="708.9" x2="1305.5" y2="708.9" stroke="#008000" stroke-width="3.5"/>
<line x1="1333.3" y1="634.8" x2="1333.3" y2="606.3" stroke="#008000" stroke-width="3.5"/>
<line x1="1325.8" y1="634.8" x2="1340.8" y2="634.8" stroke="#008000" stroke-width="3.5"/>
<line x1="1325.8" y1="606.3" x2="1340.8" y2="606.3" stroke="#008000" stroke-width="3.5"/>
<line x1="1368.6" y1="653.8" x2="1368.6" y2="600.6" stroke="#008000" stroke-width="3.5"/>
<line x1="1361.1" y1="653.8" x2="1376.1" y2="653.8" stroke="#008000" stroke-width="3.5"/>
<line x1="1361.1" y1="600.6" x2="1376.1" y2="600.6" stroke="#008000" stroke-width="3.5"/>
<line x1="1403.9" y1="684.2" x2="1403.9" y2="667.1" stroke="#008000" stroke-width="3.5"/>
<line x1="1396.4" y1="684.2" x2="1411.4" y2="684.2" stroke="#008000" stroke-width="3.5"/>
<line x1="1396.4" y1="667.1" x2="1411.4" y2="667.1" stroke="#008000" stroke-width="3.5"/>
<line x1="1439.2" y1="731.7" x2="1439.2" y2="691.8" stroke="#008000" stroke-width="3.5"/>
<line x1="1431.7" y1="731.7" x2="1446.7" y2="731.7" stroke="#008000" stroke-width="3.5"/>
<line x1="1431.7" y1="691.8" x2="1446.7" y2="691.8" stroke="#008000" stroke-width="3.5"/>
<line x1="1474.5" y1="739.3" x2="1474.5" y2="718.4" stroke="#008000" stroke-width="3.5"/>
<line x1="1467" y1="739.3" x2="1482" y2="739.3" stroke="#008000" stroke-width="3.5"/>
<line x1="1467" y1="718.4" x2="1482" y2="718.4" stroke="#008000" stroke-width="3.5"/>
<line x1="1509.8" y1="745" x2="1509.8" y2="722.2" stroke="#008000" stroke-width="3.5"/>
<line x1="1502.3" y1="745" x2="1517.3" y2="745" stroke="#008000" stroke-width="3.5"/>
<line x1="1502.3" y1="722.2" x2="1517.3" y2="722.2" stroke="#008000" stroke-width="3.5"/>
<line x1="1545.1" y1="712.7" x2="1545.1" y2="678.5" stroke="#008000" stroke-width="3.5"/>
<line x1="1537.6" y1="712.7" x2="1552.6" y2="712.7" stroke="#008000" stroke-width="3.5"/>
<line x1="1537.6" y1="678.5" x2="1552.6" y2="678.5" stroke="#008000" stroke-width="3.5"/>
<line x1="1580.4" y1="716.5" x2="1580.4" y2="682.3" stroke="#008000" stroke-width="3.5"/>
<line x1="1572.9" y1="716.5" x2="1587.9" y2="716.5" stroke="#008000" stroke-width="3.5"/>
<line x1="1572.9" y1="682.3" x2="1587.9" y2="682.3" stroke="#008000" stroke-width="3.5"/>
<line x1="1615.7" y1="672.8" x2="1615.7" y2="638.6" stroke="#008000" stroke-width="3.5"/>
<line x1="1608.2" y1="672.8" x2="1623.2" y2="672.8" stroke="#008000" stroke-width="3.5"/>
<line x1="1608.2" y1="638.6" x2="1623.2" y2="638.6" stroke="#008000" stroke-width="3.5"/>
<line x1="1651" y1="680.4" x2="1651" y2="638.6" stroke="#008000" stroke-width="3.5"/>
<line x1="1643.5" y1="680.4" x2="1658.5" y2="680.4" stroke="#008000" stroke-width="3.5"/>
<line x1="1643.5" y1="638.6" x2="1658.5" y2="638.6" stroke="#008000" stroke-width="3.5"/>
<line x1="1686.3" y1="659.5" x2="1686.3" y2="634.8" stroke="#008000" stroke-width="3.5"/>
<line x1="1678.8" y1="659.5" x2="1693.8" y2="659.5" stroke="#008000" stroke-width="3.5"/>
<line x1="1678.8" y1="634.8" x2="1693.8" y2="634.8" stroke="#008000" stroke-width="3.5"/>
<polyline points="1298,724.1 1333.3,621.5 1368.6,627.2 1403.9,674.7 1439.2,710.8 1474.5,727.9 1509.8,732.65 1545.1,695.6 1580.4,699.4 1615.7,655.7 1651,659.5 1686.3,646.2" fill="none" stroke="#008000" stroke-width="3.8" stroke-linejoin="miter"/>
<rect x="1290.5" y="716.6" width="15" height="15" fill="#008000"/>
<rect x="1325.8" y="614" width="15" height="15" fill="#008000"/>
<rect x="1361.1" y="619.7" width="15" height="15" fill="#008000"/>
<rect x="1396.4" y="667.2" width="15" height="15" fill="#008000"/>
<rect x="1431.7" y="703.3" width="15" height="15" fill="#008000"/>
<rect x="1467" y="720.4" width="15" height="15" fill="#008000"/>
<rect x="1502.3" y="725.15" width="15" height="15" fill="#008000"/>
<rect x="1537.6" y="688.1" width="15" height="15" fill="#008000"/>
<rect x="1572.9" y="691.9" width="15" height="15" fill="#008000"/>
<rect x="1608.2" y="648.2" width="15" height="15" fill="#008000"/>
<rect x="1643.5" y="652" width="15" height="15" fill="#008000"/>
<rect x="1678.8" y="638.7" width="15" height="15" fill="#008000"/>
<line x1="1298" y1="674.7" x2="1298" y2="627.2" stroke="#000" stroke-width="3.5"/>
<line x1="1290.5" y1="674.7" x2="1305.5" y2="674.7" stroke="#000" stroke-width="3.5"/>
<line x1="1290.5" y1="627.2" x2="1305.5" y2="627.2" stroke="#000" stroke-width="3.5"/>
<line x1="1333.3" y1="646.2" x2="1333.3" y2="608.2" stroke="#000" stroke-width="3.5"/>
<line x1="1325.8" y1="646.2" x2="1340.8" y2="646.2" stroke="#000" stroke-width="3.5"/>
<line x1="1325.8" y1="608.2" x2="1340.8" y2="608.2" stroke="#000" stroke-width="3.5"/>
<line x1="1368.6" y1="623.4" x2="1368.6" y2="585.4" stroke="#000" stroke-width="3.5"/>
<line x1="1361.1" y1="623.4" x2="1376.1" y2="623.4" stroke="#000" stroke-width="3.5"/>
<line x1="1361.1" y1="585.4" x2="1376.1" y2="585.4" stroke="#000" stroke-width="3.5"/>
<line x1="1403.9" y1="663.3" x2="1403.9" y2="634.8" stroke="#000" stroke-width="3.5"/>
<line x1="1396.4" y1="663.3" x2="1411.4" y2="663.3" stroke="#000" stroke-width="3.5"/>
<line x1="1396.4" y1="634.8" x2="1411.4" y2="634.8" stroke="#000" stroke-width="3.5"/>
<line x1="1439.2" y1="707" x2="1439.2" y2="684.2" stroke="#000" stroke-width="3.5"/>
<line x1="1431.7" y1="707" x2="1446.7" y2="707" stroke="#000" stroke-width="3.5"/>
<line x1="1431.7" y1="684.2" x2="1446.7" y2="684.2" stroke="#000" stroke-width="3.5"/>
<line x1="1474.5" y1="726" x2="1474.5" y2="703.2" stroke="#000" stroke-width="3.5"/>
<line x1="1467" y1="726" x2="1482" y2="726" stroke="#000" stroke-width="3.5"/>
<line x1="1467" y1="703.2" x2="1482" y2="703.2" stroke="#000" stroke-width="3.5"/>
<line x1="1509.8" y1="739.3" x2="1509.8" y2="720.3" stroke="#000" stroke-width="3.5"/>
<line x1="1502.3" y1="739.3" x2="1517.3" y2="739.3" stroke="#000" stroke-width="3.5"/>
<line x1="1502.3" y1="720.3" x2="1517.3" y2="720.3" stroke="#000" stroke-width="3.5"/>
<line x1="1545.1" y1="724.1" x2="1545.1" y2="686.1" stroke="#000" stroke-width="3.5"/>
<line x1="1537.6" y1="724.1" x2="1552.6" y2="724.1" stroke="#000" stroke-width="3.5"/>
<line x1="1537.6" y1="686.1" x2="1552.6" y2="686.1" stroke="#000" stroke-width="3.5"/>
<line x1="1580.4" y1="688" x2="1580.4" y2="665.2" stroke="#000" stroke-width="3.5"/>
<line x1="1572.9" y1="688" x2="1587.9" y2="688" stroke="#000" stroke-width="3.5"/>
<line x1="1572.9" y1="665.2" x2="1587.9" y2="665.2" stroke="#000" stroke-width="3.5"/>
<line x1="1615.7" y1="627.2" x2="1615.7" y2="589.2" stroke="#000" stroke-width="3.5"/>
<line x1="1608.2" y1="627.2" x2="1623.2" y2="627.2" stroke="#000" stroke-width="3.5"/>
<line x1="1608.2" y1="589.2" x2="1623.2" y2="589.2" stroke="#000" stroke-width="3.5"/>
<line x1="1651" y1="669" x2="1651" y2="640.5" stroke="#000" stroke-width="3.5"/>
<line x1="1643.5" y1="669" x2="1658.5" y2="669" stroke="#000" stroke-width="3.5"/>
<line x1="1643.5" y1="640.5" x2="1658.5" y2="640.5" stroke="#000" stroke-width="3.5"/>
<line x1="1686.3" y1="640.5" x2="1686.3" y2="604.4" stroke="#000" stroke-width="3.5"/>
<line x1="1678.8" y1="640.5" x2="1693.8" y2="640.5" stroke="#000" stroke-width="3.5"/>
<line x1="1678.8" y1="604.4" x2="1693.8" y2="604.4" stroke="#000" stroke-width="3.5"/>
<polyline points="1298,651.9 1333.3,627.2 1368.6,606.3 1403.9,650 1439.2,695.6 1474.5,714.6 1509.8,729.8 1545.1,705.1 1580.4,676.6 1615.7,609.15 1651,653.8 1686.3,621.5" fill="none" stroke="#000" stroke-width="3.8" stroke-linejoin="miter"/>
<circle cx="1298" cy="651.9" r="7.2" fill="#000"/>
<circle cx="1333.3" cy="627.2" r="7.2" fill="#000"/>
<circle cx="1368.6" cy="606.3" r="7.2" fill="#000"/>
<circle cx="1403.9" cy="650" r="7.2" fill="#000"/>
<circle cx="1439.2" cy="695.6" r="7.2" fill="#000"/>
<circle cx="1474.5" cy="714.6" r="7.2" fill="#000"/>
<circle cx="1509.8" cy="729.8" r="7.2" fill="#000"/>
<circle cx="1545.1" cy="705.1" r="7.2" fill="#000"/>
<circle cx="1580.4" cy="676.6" r="7.2" fill="#000"/>
<circle cx="1615.7" cy="609.15" r="7.2" fill="#000"/>
<circle cx="1651" cy="653.8" r="7.2" fill="#000"/>
<circle cx="1686.3" cy="621.5" r="7.2" fill="#000"/>
<text x="1497" y="457.6" font-size="31" text-anchor="middle">REM</text>
<text transform="translate(1218.5,619) rotate(-90)" x="0" y="0" font-size="31" text-anchor="middle">Percentage (%)</text>
<text x="1298" y="631.42" font-size="46" text-anchor="middle" letter-spacing="1.5">*</text>
<polyline points="1700.7,619 1711.5,619 1711.5,645.5 1700.7,645.5" fill="none" stroke="#000" stroke-width="3.5"/>
<text transform="translate(1703.08,632) rotate(90)" x="0" y="0" font-size="46" text-anchor="middle" letter-spacing="1.5">**</text>
<line x1="1748.2" y1="489" x2="1782" y2="489" stroke="#1a7f3c" stroke-width="3.6"/>
<rect x="1758" y="481.3" width="14.8" height="15" fill="#1a7f3c"/>
<text x="1798" y="497" font-size="31">CNO (<tspan font-style="italic">n</tspan> = 10)</text>
<line x1="1748.2" y1="531.5" x2="1782" y2="531.5" stroke="#000" stroke-width="3.6"/>
<circle cx="1765" cy="531.5" r="7.5" fill="#000"/>
<text x="1798" y="539.5" font-size="31">Saline (<tspan font-style="italic">n</tspan> = 10)</text>
<text x="349.9" y="1371" font-size="46" fill="#231815" font-weight="bold">l</text>
<rect x="540" y="1432.4" width="210.7" height="283.3" fill="#d3d3d3"/>
<line x1="437.8" y1="1431.4" x2="437.8" y2="1719.7" stroke="#000" stroke-width="3.7"/>
<line x1="427.8" y1="1715.7" x2="437.8" y2="1715.7" stroke="#000" stroke-width="3.7"/>
<text x="414.4" y="1725.5" font-size="31.5" text-anchor="end">0</text>
<line x1="427.8" y1="1659.28" x2="437.8" y2="1659.28" stroke="#000" stroke-width="3.7"/>
<text x="426.7" y="1669.08" font-size="31.5" text-anchor="end">20</text>
<line x1="427.8" y1="1602.86" x2="437.8" y2="1602.86" stroke="#000" stroke-width="3.7"/>
<text x="426.7" y="1612.66" font-size="31.5" text-anchor="end">40</text>
<line x1="427.8" y1="1546.44" x2="437.8" y2="1546.44" stroke="#000" stroke-width="3.7"/>
<text x="426.7" y="1556.24" font-size="31.5" text-anchor="end">60</text>
<line x1="427.8" y1="1490.02" x2="437.8" y2="1490.02" stroke="#000" stroke-width="3.7"/>
<text x="426.7" y="1499.82" font-size="31.5" text-anchor="end">80</text>
<line x1="427.8" y1="1433.6" x2="437.8" y2="1433.6" stroke="#000" stroke-width="3.7"/>
<text x="426.7" y="1443.4" font-size="31.5" text-anchor="end">100</text>
<line x1="428" y1="1715.7" x2="864" y2="1715.7" stroke="#000" stroke-width="3.7"/>
<line x1="455.2" y1="1715.7" x2="455.2" y2="1725.3" stroke="#000" stroke-width="3.7"/>
<line x1="490.62" y1="1715.7" x2="490.62" y2="1725.3" stroke="#000" stroke-width="3.7"/>
<line x1="526.04" y1="1715.7" x2="526.04" y2="1725.3" stroke="#000" stroke-width="3.7"/>
<line x1="561.46" y1="1715.7" x2="561.46" y2="1725.3" stroke="#000" stroke-width="3.7"/>
<line x1="596.88" y1="1715.7" x2="596.88" y2="1725.3" stroke="#000" stroke-width="3.7"/>
<line x1="632.3" y1="1715.7" x2="632.3" y2="1725.3" stroke="#000" stroke-width="3.7"/>
<line x1="667.72" y1="1715.7" x2="667.72" y2="1725.3" stroke="#000" stroke-width="3.7"/>
<line x1="703.14" y1="1715.7" x2="703.14" y2="1725.3" stroke="#000" stroke-width="3.7"/>
<line x1="738.56" y1="1715.7" x2="738.56" y2="1725.3" stroke="#000" stroke-width="3.7"/>
<line x1="773.98" y1="1715.7" x2="773.98" y2="1725.3" stroke="#000" stroke-width="3.7"/>
<line x1="809.4" y1="1715.7" x2="809.4" y2="1725.3" stroke="#000" stroke-width="3.7"/>
<line x1="844.82" y1="1715.7" x2="844.82" y2="1725.3" stroke="#000" stroke-width="3.7"/>
<text transform="translate(468.2,1738.7) rotate(-73)" x="0" y="0" font-size="28.5" text-anchor="end">ZT7</text>
<text transform="translate(503.62,1738.7) rotate(-73)" x="0" y="0" font-size="28.5" text-anchor="end">ZT9</text>
<text transform="translate(539.04,1738.7) rotate(-73)" x="0" y="0" font-size="28.5" text-anchor="end">ZT11</text>
<text transform="translate(574.46,1738.7) rotate(-73)" x="0" y="0" font-size="28.5" text-anchor="end">ZT13</text>
<text transform="translate(609.88,1738.7) rotate(-73)" x="0" y="0" font-size="28.5" text-anchor="end">ZT15</text>
<text transform="translate(645.3,1738.7) rotate(-73)" x="0" y="0" font-size="28.5" text-anchor="end">ZT17</text>
<text transform="translate(680.72,1738.7) rotate(-73)" x="0" y="0" font-size="28.5" text-anchor="end">ZT19</text>
<text transform="translate(716.14,1738.7) rotate(-73)" x="0" y="0" font-size="28.5" text-anchor="end">ZT21</text>
<text transform="translate(751.56,1738.7) rotate(-73)" x="0" y="0" font-size="28.5" text-anchor="end">ZT23</text>
<text transform="translate(786.98,1738.7) rotate(-73)" x="0" y="0" font-size="28.5" text-anchor="end">ZT1</text>
<text transform="translate(822.4,1738.7) rotate(-73)" x="0" y="0" font-size="28.5" text-anchor="end">ZT3</text>
<text transform="translate(857.82,1738.7) rotate(-73)" x="0" y="0" font-size="28.5" text-anchor="end">ZT5</text>
<line x1="455.2" y1="1494.73" x2="455.2" y2="1464.98" stroke="#ff0000" stroke-width="3.5"/>
<line x1="447.7" y1="1494.73" x2="462.7" y2="1494.73" stroke="#ff0000" stroke-width="3.5"/>
<line x1="447.7" y1="1464.98" x2="462.7" y2="1464.98" stroke="#ff0000" stroke-width="3.5"/>
<line x1="490.62" y1="1608.9" x2="490.62" y2="1577.73" stroke="#ff0000" stroke-width="3.5"/>
<line x1="483.12" y1="1608.9" x2="498.12" y2="1608.9" stroke="#ff0000" stroke-width="3.5"/>
<line x1="483.12" y1="1577.73" x2="498.12" y2="1577.73" stroke="#ff0000" stroke-width="3.5"/>
<line x1="526.04" y1="1656.21" x2="526.04" y2="1622.21" stroke="#ff0000" stroke-width="3.5"/>
<line x1="518.54" y1="1656.21" x2="533.54" y2="1656.21" stroke="#ff0000" stroke-width="3.5"/>
<line x1="518.54" y1="1622.21" x2="533.54" y2="1622.21" stroke="#ff0000" stroke-width="3.5"/>
<line x1="561.46" y1="1607.48" x2="561.46" y2="1571.78" stroke="#ff0000" stroke-width="3.5"/>
<line x1="553.96" y1="1607.48" x2="568.96" y2="1607.48" stroke="#ff0000" stroke-width="3.5"/>
<line x1="553.96" y1="1571.78" x2="568.96" y2="1571.78" stroke="#ff0000" stroke-width="3.5"/>
<line x1="596.88" y1="1559.88" x2="596.88" y2="1523.06" stroke="#ff0000" stroke-width="3.5"/>
<line x1="589.38" y1="1559.88" x2="604.38" y2="1559.88" stroke="#ff0000" stroke-width="3.5"/>
<line x1="589.38" y1="1523.06" x2="604.38" y2="1523.06" stroke="#ff0000" stroke-width="3.5"/>
<line x1="632.3" y1="1561.3" x2="632.3" y2="1520.22" stroke="#ff0000" stroke-width="3.5"/>
<line x1="624.8" y1="1561.3" x2="639.8" y2="1561.3" stroke="#ff0000" stroke-width="3.5"/>
<line x1="624.8" y1="1520.22" x2="639.8" y2="1520.22" stroke="#ff0000" stroke-width="3.5"/>
<line x1="667.72" y1="1575.75" x2="667.72" y2="1542.04" stroke="#ff0000" stroke-width="3.5"/>
<line x1="660.22" y1="1575.75" x2="675.22" y2="1575.75" stroke="#ff0000" stroke-width="3.5"/>
<line x1="660.22" y1="1542.04" x2="675.22" y2="1542.04" stroke="#ff0000" stroke-width="3.5"/>
<line x1="703.14" y1="1605.21" x2="703.14" y2="1571.78" stroke="#ff0000" stroke-width="3.5"/>
<line x1="695.64" y1="1605.21" x2="710.64" y2="1605.21" stroke="#ff0000" stroke-width="3.5"/>
<line x1="695.64" y1="1571.78" x2="710.64" y2="1571.78" stroke="#ff0000" stroke-width="3.5"/>
<line x1="738.56" y1="1589.63" x2="738.56" y2="1547.42" stroke="#ff0000" stroke-width="3.5"/>
<line x1="731.06" y1="1589.63" x2="746.06" y2="1589.63" stroke="#ff0000" stroke-width="3.5"/>
<line x1="731.06" y1="1547.42" x2="746.06" y2="1547.42" stroke="#ff0000" stroke-width="3.5"/>
<line x1="773.98" y1="1626.74" x2="773.98" y2="1576.32" stroke="#ff0000" stroke-width="3.5"/>
<line x1="766.48" y1="1626.74" x2="781.48" y2="1626.74" stroke="#ff0000" stroke-width="3.5"/>
<line x1="766.48" y1="1576.32" x2="781.48" y2="1576.32" stroke="#ff0000" stroke-width="3.5"/>
<line x1="809.4" y1="1585.38" x2="809.4" y2="1565.83" stroke="#ff0000" stroke-width="3.5"/>
<line x1="801.9" y1="1585.38" x2="816.9" y2="1585.38" stroke="#ff0000" stroke-width="3.5"/>
<line x1="801.9" y1="1565.83" x2="816.9" y2="1565.83" stroke="#ff0000" stroke-width="3.5"/>
<line x1="844.82" y1="1616.55" x2="844.82" y2="1592.46" stroke="#ff0000" stroke-width="3.5"/>
<line x1="837.32" y1="1616.55" x2="852.32" y2="1616.55" stroke="#ff0000" stroke-width="3.5"/>
<line x1="837.32" y1="1592.46" x2="852.32" y2="1592.46" stroke="#ff0000" stroke-width="3.5"/>
<polyline points="455.2,1479.99 490.62,1592.46 526.04,1638.64 561.46,1591.05 596.88,1542.04 632.3,1540.62 667.72,1558.47 703.14,1588.22 738.56,1567.25 773.98,1601.53 809.4,1574.9 844.82,1604.36" fill="none" stroke="#ff0000" stroke-width="3.8" stroke-linejoin="miter"/>
<rect x="447.7" y="1472.49" width="15" height="15" fill="#ff0000"/>
<rect x="483.12" y="1584.96" width="15" height="15" fill="#ff0000"/>
<rect x="518.54" y="1631.14" width="15" height="15" fill="#ff0000"/>
<rect x="553.96" y="1583.55" width="15" height="15" fill="#ff0000"/>
<rect x="589.38" y="1534.54" width="15" height="15" fill="#ff0000"/>
<rect x="624.8" y="1533.12" width="15" height="15" fill="#ff0000"/>
<rect x="660.22" y="1550.97" width="15" height="15" fill="#ff0000"/>
<rect x="695.64" y="1580.72" width="15" height="15" fill="#ff0000"/>
<rect x="731.06" y="1559.75" width="15" height="15" fill="#ff0000"/>
<rect x="766.48" y="1594.03" width="15" height="15" fill="#ff0000"/>
<rect x="801.9" y="1567.4" width="15" height="15" fill="#ff0000"/>
<rect x="837.32" y="1596.86" width="15" height="15" fill="#ff0000"/>
<line x1="455.2" y1="1536.94" x2="455.2" y2="1494.16" stroke="#000" stroke-width="3.5"/>
<line x1="447.7" y1="1536.94" x2="462.7" y2="1536.94" stroke="#000" stroke-width="3.5"/>
<line x1="447.7" y1="1494.16" x2="462.7" y2="1494.16" stroke="#000" stroke-width="3.5"/>
<line x1="490.62" y1="1634.11" x2="490.62" y2="1601.53" stroke="#000" stroke-width="3.5"/>
<line x1="483.12" y1="1634.11" x2="498.12" y2="1634.11" stroke="#000" stroke-width="3.5"/>
<line x1="483.12" y1="1601.53" x2="498.12" y2="1601.53" stroke="#000" stroke-width="3.5"/>
<line x1="526.04" y1="1646.86" x2="526.04" y2="1609.46" stroke="#000" stroke-width="3.5"/>
<line x1="518.54" y1="1646.86" x2="533.54" y2="1646.86" stroke="#000" stroke-width="3.5"/>
<line x1="518.54" y1="1609.46" x2="533.54" y2="1609.46" stroke="#000" stroke-width="3.5"/>
<line x1="561.46" y1="1600.11" x2="561.46" y2="1580" stroke="#000" stroke-width="3.5"/>
<line x1="553.96" y1="1600.11" x2="568.96" y2="1600.11" stroke="#000" stroke-width="3.5"/>
<line x1="553.96" y1="1580" x2="568.96" y2="1580" stroke="#000" stroke-width="3.5"/>
<line x1="596.88" y1="1543.74" x2="596.88" y2="1510.31" stroke="#000" stroke-width="3.5"/>
<line x1="589.38" y1="1543.74" x2="604.38" y2="1543.74" stroke="#000" stroke-width="3.5"/>
<line x1="589.38" y1="1510.31" x2="604.38" y2="1510.31" stroke="#000" stroke-width="3.5"/>
<line x1="632.3" y1="1525.89" x2="632.3" y2="1484.24" stroke="#000" stroke-width="3.5"/>
<line x1="624.8" y1="1525.89" x2="639.8" y2="1525.89" stroke="#000" stroke-width="3.5"/>
<line x1="624.8" y1="1484.24" x2="639.8" y2="1484.24" stroke="#000" stroke-width="3.5"/>
<line x1="667.72" y1="1541.47" x2="667.72" y2="1490.19" stroke="#000" stroke-width="3.5"/>
<line x1="660.22" y1="1541.47" x2="675.22" y2="1541.47" stroke="#000" stroke-width="3.5"/>
<line x1="660.22" y1="1490.19" x2="675.22" y2="1490.19" stroke="#000" stroke-width="3.5"/>
<line x1="703.14" y1="1532.4" x2="703.14" y2="1477.44" stroke="#000" stroke-width="3.5"/>
<line x1="695.64" y1="1532.4" x2="710.64" y2="1532.4" stroke="#000" stroke-width="3.5"/>
<line x1="695.64" y1="1477.44" x2="710.64" y2="1477.44" stroke="#000" stroke-width="3.5"/>
<line x1="738.56" y1="1514.84" x2="738.56" y2="1485.09" stroke="#000" stroke-width="3.5"/>
<line x1="731.06" y1="1514.84" x2="746.06" y2="1514.84" stroke="#000" stroke-width="3.5"/>
<line x1="731.06" y1="1485.09" x2="746.06" y2="1485.09" stroke="#000" stroke-width="3.5"/>
<line x1="773.98" y1="1637.79" x2="773.98" y2="1614.85" stroke="#000" stroke-width="3.5"/>
<line x1="766.48" y1="1637.79" x2="781.48" y2="1637.79" stroke="#000" stroke-width="3.5"/>
<line x1="766.48" y1="1614.85" x2="781.48" y2="1614.85" stroke="#000" stroke-width="3.5"/>
<line x1="809.4" y1="1589.63" x2="809.4" y2="1567.25" stroke="#000" stroke-width="3.5"/>
<line x1="801.9" y1="1589.63" x2="816.9" y2="1589.63" stroke="#000" stroke-width="3.5"/>
<line x1="801.9" y1="1567.25" x2="816.9" y2="1567.25" stroke="#000" stroke-width="3.5"/>
<line x1="844.82" y1="1626.74" x2="844.82" y2="1589.63" stroke="#000" stroke-width="3.5"/>
<line x1="837.32" y1="1626.74" x2="852.32" y2="1626.74" stroke="#000" stroke-width="3.5"/>
<line x1="837.32" y1="1589.63" x2="852.32" y2="1589.63" stroke="#000" stroke-width="3.5"/>
<polyline points="455.2,1515.41 490.62,1617.68 526.04,1628.16 561.46,1589.63 596.88,1527.31 632.3,1505.21 667.72,1516.26 703.14,1505.21 738.56,1500.68 773.98,1625.33 809.4,1577.73 844.82,1608.9" fill="none" stroke="#000" stroke-width="3.8" stroke-linejoin="miter"/>
<circle cx="455.2" cy="1515.41" r="7.2" fill="#000"/>
<circle cx="490.62" cy="1617.68" r="7.2" fill="#000"/>
<circle cx="526.04" cy="1628.16" r="7.2" fill="#000"/>
<circle cx="561.46" cy="1589.63" r="7.2" fill="#000"/>
<circle cx="596.88" cy="1527.31" r="7.2" fill="#000"/>
<circle cx="632.3" cy="1505.21" r="7.2" fill="#000"/>
<circle cx="667.72" cy="1516.26" r="7.2" fill="#000"/>
<circle cx="703.14" cy="1505.21" r="7.2" fill="#000"/>
<circle cx="738.56" cy="1500.68" r="7.2" fill="#000"/>
<circle cx="773.98" cy="1625.33" r="7.2" fill="#000"/>
<circle cx="809.4" cy="1577.73" r="7.2" fill="#000"/>
<circle cx="844.82" cy="1608.9" r="7.2" fill="#000"/>
<text x="652" y="1412.5" font-size="31" text-anchor="middle">Wake</text>
<text transform="translate(365.6,1568.9) rotate(-90)" x="0" y="0" font-size="31" text-anchor="middle">Percentage (%)</text>
<text x="703.3" y="1477.62" font-size="46" text-anchor="middle" letter-spacing="1.5">*</text>
<text x="867.6" y="1371.5" font-size="46" fill="#231815" font-weight="bold">m</text>
<rect x="1062" y="1432.4" width="210.2" height="283.3" fill="#d3d3d3"/>
<line x1="959.7" y1="1431.4" x2="959.7" y2="1719.7" stroke="#000" stroke-width="3.7"/>
<line x1="949.7" y1="1715.7" x2="959.7" y2="1715.7" stroke="#000" stroke-width="3.7"/>
<text x="940.3" y="1725.5" font-size="31.5" text-anchor="end">0</text>
<line x1="949.7" y1="1645.17" x2="959.7" y2="1645.17" stroke="#000" stroke-width="3.7"/>
<text x="946.7" y="1654.97" font-size="31.5" text-anchor="end">20</text>
<line x1="949.7" y1="1574.65" x2="959.7" y2="1574.65" stroke="#000" stroke-width="3.7"/>
<text x="946.7" y="1584.45" font-size="31.5" text-anchor="end">40</text>
<line x1="949.7" y1="1504.12" x2="959.7" y2="1504.12" stroke="#000" stroke-width="3.7"/>
<text x="946.7" y="1513.92" font-size="31.5" text-anchor="end">60</text>
<line x1="949.7" y1="1433.6" x2="959.7" y2="1433.6" stroke="#000" stroke-width="3.7"/>
<text x="946.7" y="1443.4" font-size="31.5" text-anchor="end">80</text>
<line x1="950.9" y1="1715.7" x2="1387" y2="1715.7" stroke="#000" stroke-width="3.7"/>
<line x1="977.6" y1="1715.7" x2="977.6" y2="1725.3" stroke="#000" stroke-width="3.7"/>
<line x1="1012.99" y1="1715.7" x2="1012.99" y2="1725.3" stroke="#000" stroke-width="3.7"/>
<line x1="1048.38" y1="1715.7" x2="1048.38" y2="1725.3" stroke="#000" stroke-width="3.7"/>
<line x1="1083.77" y1="1715.7" x2="1083.77" y2="1725.3" stroke="#000" stroke-width="3.7"/>
<line x1="1119.16" y1="1715.7" x2="1119.16" y2="1725.3" stroke="#000" stroke-width="3.7"/>
<line x1="1154.55" y1="1715.7" x2="1154.55" y2="1725.3" stroke="#000" stroke-width="3.7"/>
<line x1="1189.94" y1="1715.7" x2="1189.94" y2="1725.3" stroke="#000" stroke-width="3.7"/>
<line x1="1225.33" y1="1715.7" x2="1225.33" y2="1725.3" stroke="#000" stroke-width="3.7"/>
<line x1="1260.72" y1="1715.7" x2="1260.72" y2="1725.3" stroke="#000" stroke-width="3.7"/>
<line x1="1296.11" y1="1715.7" x2="1296.11" y2="1725.3" stroke="#000" stroke-width="3.7"/>
<line x1="1331.5" y1="1715.7" x2="1331.5" y2="1725.3" stroke="#000" stroke-width="3.7"/>
<line x1="1366.89" y1="1715.7" x2="1366.89" y2="1725.3" stroke="#000" stroke-width="3.7"/>
<text transform="translate(990.6,1738.7) rotate(-73)" x="0" y="0" font-size="28.5" text-anchor="end">ZT7</text>
<text transform="translate(1025.99,1738.7) rotate(-73)" x="0" y="0" font-size="28.5" text-anchor="end">ZT9</text>
<text transform="translate(1061.38,1738.7) rotate(-73)" x="0" y="0" font-size="28.5" text-anchor="end">ZT11</text>
<text transform="translate(1096.77,1738.7) rotate(-73)" x="0" y="0" font-size="28.5" text-anchor="end">ZT13</text>
<text transform="translate(1132.16,1738.7) rotate(-73)" x="0" y="0" font-size="28.5" text-anchor="end">ZT15</text>
<text transform="translate(1167.55,1738.7) rotate(-73)" x="0" y="0" font-size="28.5" text-anchor="end">ZT17</text>
<text transform="translate(1202.94,1738.7) rotate(-73)" x="0" y="0" font-size="28.5" text-anchor="end">ZT19</text>
<text transform="translate(1238.33,1738.7) rotate(-73)" x="0" y="0" font-size="28.5" text-anchor="end">ZT21</text>
<text transform="translate(1273.72,1738.7) rotate(-73)" x="0" y="0" font-size="28.5" text-anchor="end">ZT23</text>
<text transform="translate(1309.11,1738.7) rotate(-73)" x="0" y="0" font-size="28.5" text-anchor="end">ZT1</text>
<text transform="translate(1344.5,1738.7) rotate(-73)" x="0" y="0" font-size="28.5" text-anchor="end">ZT3</text>
<text transform="translate(1379.89,1738.7) rotate(-73)" x="0" y="0" font-size="28.5" text-anchor="end">ZT5</text>
<line x1="977.6" y1="1678.52" x2="977.6" y2="1643.1" stroke="#ff0000" stroke-width="3.5"/>
<line x1="970.1" y1="1678.52" x2="985.1" y2="1678.52" stroke="#ff0000" stroke-width="3.5"/>
<line x1="970.1" y1="1643.1" x2="985.1" y2="1643.1" stroke="#ff0000" stroke-width="3.5"/>
<line x1="1012.99" y1="1556.34" x2="1012.99" y2="1519.87" stroke="#ff0000" stroke-width="3.5"/>
<line x1="1005.49" y1="1556.34" x2="1020.49" y2="1556.34" stroke="#ff0000" stroke-width="3.5"/>
<line x1="1005.49" y1="1519.87" x2="1020.49" y2="1519.87" stroke="#ff0000" stroke-width="3.5"/>
<line x1="1048.38" y1="1502.16" x2="1048.38" y2="1477.02" stroke="#ff0000" stroke-width="3.5"/>
<line x1="1040.88" y1="1502.16" x2="1055.88" y2="1502.16" stroke="#ff0000" stroke-width="3.5"/>
<line x1="1040.88" y1="1477.02" x2="1055.88" y2="1477.02" stroke="#ff0000" stroke-width="3.5"/>
<line x1="1083.77" y1="1565.91" x2="1083.77" y2="1527.31" stroke="#ff0000" stroke-width="3.5"/>
<line x1="1076.27" y1="1565.91" x2="1091.27" y2="1565.91" stroke="#ff0000" stroke-width="3.5"/>
<line x1="1076.27" y1="1527.31" x2="1091.27" y2="1527.31" stroke="#ff0000" stroke-width="3.5"/>
<line x1="1119.16" y1="1617.96" x2="1119.16" y2="1576.17" stroke="#ff0000" stroke-width="3.5"/>
<line x1="1111.66" y1="1617.96" x2="1126.66" y2="1617.96" stroke="#ff0000" stroke-width="3.5"/>
<line x1="1111.66" y1="1576.17" x2="1126.66" y2="1576.17" stroke="#ff0000" stroke-width="3.5"/>
<line x1="1154.55" y1="1616.19" x2="1154.55" y2="1565.91" stroke="#ff0000" stroke-width="3.5"/>
<line x1="1147.05" y1="1616.19" x2="1162.05" y2="1616.19" stroke="#ff0000" stroke-width="3.5"/>
<line x1="1147.05" y1="1565.91" x2="1162.05" y2="1565.91" stroke="#ff0000" stroke-width="3.5"/>
<line x1="1189.94" y1="1594.24" x2="1189.94" y2="1554.57" stroke="#ff0000" stroke-width="3.5"/>
<line x1="1182.44" y1="1594.24" x2="1197.44" y2="1594.24" stroke="#ff0000" stroke-width="3.5"/>
<line x1="1182.44" y1="1554.57" x2="1197.44" y2="1554.57" stroke="#ff0000" stroke-width="3.5"/>
<line x1="1225.33" y1="1561.3" x2="1225.33" y2="1523.41" stroke="#ff0000" stroke-width="3.5"/>
<line x1="1217.83" y1="1561.3" x2="1232.83" y2="1561.3" stroke="#ff0000" stroke-width="3.5"/>
<line x1="1217.83" y1="1523.41" x2="1232.83" y2="1523.41" stroke="#ff0000" stroke-width="3.5"/>
<line x1="1260.72" y1="1586.8" x2="1260.72" y2="1537.58" stroke="#ff0000" stroke-width="3.5"/>
<line x1="1253.22" y1="1586.8" x2="1268.22" y2="1586.8" stroke="#ff0000" stroke-width="3.5"/>
<line x1="1253.22" y1="1537.58" x2="1268.22" y2="1537.58" stroke="#ff0000" stroke-width="3.5"/>
<line x1="1296.11" y1="1555.64" x2="1296.11" y2="1497.56" stroke="#ff0000" stroke-width="3.5"/>
<line x1="1288.61" y1="1555.64" x2="1303.61" y2="1555.64" stroke="#ff0000" stroke-width="3.5"/>
<line x1="1288.61" y1="1497.56" x2="1303.61" y2="1497.56" stroke="#ff0000" stroke-width="3.5"/>
<line x1="1331.5" y1="1568.74" x2="1331.5" y2="1543.6" stroke="#ff0000" stroke-width="3.5"/>
<line x1="1324" y1="1568.74" x2="1339" y2="1568.74" stroke="#ff0000" stroke-width="3.5"/>
<line x1="1324" y1="1543.6" x2="1339" y2="1543.6" stroke="#ff0000" stroke-width="3.5"/>
<line x1="1366.89" y1="1542.18" x2="1366.89" y2="1511.02" stroke="#ff0000" stroke-width="3.5"/>
<line x1="1359.39" y1="1542.18" x2="1374.39" y2="1542.18" stroke="#ff0000" stroke-width="3.5"/>
<line x1="1359.39" y1="1511.02" x2="1374.39" y2="1511.02" stroke="#ff0000" stroke-width="3.5"/>
<polyline points="977.6,1660.1 1012.99,1537.58 1048.38,1490.12 1083.77,1545.01 1119.16,1597.07 1154.55,1591.05 1189.94,1573.34 1225.33,1541.47 1260.72,1562.36 1296.11,1526.6 1331.5,1555.99 1366.89,1526.6" fill="none" stroke="#ff0000" stroke-width="3.8" stroke-linejoin="miter"/>
<rect x="970.1" y="1652.6" width="15" height="15" fill="#ff0000"/>
<rect x="1005.49" y="1530.08" width="15" height="15" fill="#ff0000"/>
<rect x="1040.88" y="1482.62" width="15" height="15" fill="#ff0000"/>
<rect x="1076.27" y="1537.51" width="15" height="15" fill="#ff0000"/>
<rect x="1111.66" y="1589.57" width="15" height="15" fill="#ff0000"/>
<rect x="1147.05" y="1583.55" width="15" height="15" fill="#ff0000"/>
<rect x="1182.44" y="1565.84" width="15" height="15" fill="#ff0000"/>
<rect x="1217.83" y="1533.97" width="15" height="15" fill="#ff0000"/>
<rect x="1253.22" y="1554.86" width="15" height="15" fill="#ff0000"/>
<rect x="1288.61" y="1519.1" width="15" height="15" fill="#ff0000"/>
<rect x="1324" y="1548.49" width="15" height="15" fill="#ff0000"/>
<rect x="1359.39" y="1519.1" width="15" height="15" fill="#ff0000"/>
<line x1="977.6" y1="1643.1" x2="977.6" y2="1594.24" stroke="#000" stroke-width="3.5"/>
<line x1="970.1" y1="1643.1" x2="985.1" y2="1643.1" stroke="#000" stroke-width="3.5"/>
<line x1="970.1" y1="1594.24" x2="985.1" y2="1594.24" stroke="#000" stroke-width="3.5"/>
<line x1="1012.99" y1="1522.35" x2="1012.99" y2="1484.81" stroke="#000" stroke-width="3.5"/>
<line x1="1005.49" y1="1522.35" x2="1020.49" y2="1522.35" stroke="#000" stroke-width="3.5"/>
<line x1="1005.49" y1="1484.81" x2="1020.49" y2="1484.81" stroke="#000" stroke-width="3.5"/>
<line x1="1048.38" y1="1517.04" x2="1048.38" y2="1473.12" stroke="#000" stroke-width="3.5"/>
<line x1="1040.88" y1="1517.04" x2="1055.88" y2="1517.04" stroke="#000" stroke-width="3.5"/>
<line x1="1040.88" y1="1473.12" x2="1055.88" y2="1473.12" stroke="#000" stroke-width="3.5"/>
<line x1="1083.77" y1="1544.3" x2="1083.77" y2="1523.41" stroke="#000" stroke-width="3.5"/>
<line x1="1076.27" y1="1544.3" x2="1091.27" y2="1544.3" stroke="#000" stroke-width="3.5"/>
<line x1="1076.27" y1="1523.41" x2="1091.27" y2="1523.41" stroke="#000" stroke-width="3.5"/>
<line x1="1119.16" y1="1626.11" x2="1119.16" y2="1589.63" stroke="#000" stroke-width="3.5"/>
<line x1="1111.66" y1="1626.11" x2="1126.66" y2="1626.11" stroke="#000" stroke-width="3.5"/>
<line x1="1111.66" y1="1589.63" x2="1126.66" y2="1589.63" stroke="#000" stroke-width="3.5"/>
<line x1="1154.55" y1="1656.92" x2="1154.55" y2="1609.46" stroke="#000" stroke-width="3.5"/>
<line x1="1147.05" y1="1656.92" x2="1162.05" y2="1656.92" stroke="#000" stroke-width="3.5"/>
<line x1="1147.05" y1="1609.46" x2="1162.05" y2="1609.46" stroke="#000" stroke-width="3.5"/>
<line x1="1189.94" y1="1649.83" x2="1189.94" y2="1590.34" stroke="#000" stroke-width="3.5"/>
<line x1="1182.44" y1="1649.83" x2="1197.44" y2="1649.83" stroke="#000" stroke-width="3.5"/>
<line x1="1182.44" y1="1590.34" x2="1197.44" y2="1590.34" stroke="#000" stroke-width="3.5"/>
<line x1="1225.33" y1="1663.29" x2="1225.33" y2="1602.38" stroke="#000" stroke-width="3.5"/>
<line x1="1217.83" y1="1663.29" x2="1232.83" y2="1663.29" stroke="#000" stroke-width="3.5"/>
<line x1="1217.83" y1="1602.38" x2="1232.83" y2="1602.38" stroke="#000" stroke-width="3.5"/>
<line x1="1260.72" y1="1654.79" x2="1260.72" y2="1623.27" stroke="#000" stroke-width="3.5"/>
<line x1="1253.22" y1="1654.79" x2="1268.22" y2="1654.79" stroke="#000" stroke-width="3.5"/>
<line x1="1253.22" y1="1623.27" x2="1268.22" y2="1623.27" stroke="#000" stroke-width="3.5"/>
<line x1="1296.11" y1="1513.85" x2="1296.11" y2="1490.12" stroke="#000" stroke-width="3.5"/>
<line x1="1288.61" y1="1513.85" x2="1303.61" y2="1513.85" stroke="#000" stroke-width="3.5"/>
<line x1="1288.61" y1="1490.12" x2="1303.61" y2="1490.12" stroke="#000" stroke-width="3.5"/>
<line x1="1331.5" y1="1564.49" x2="1331.5" y2="1540.76" stroke="#000" stroke-width="3.5"/>
<line x1="1324" y1="1564.49" x2="1339" y2="1564.49" stroke="#000" stroke-width="3.5"/>
<line x1="1324" y1="1540.76" x2="1339" y2="1540.76" stroke="#000" stroke-width="3.5"/>
<line x1="1366.89" y1="1541.47" x2="1366.89" y2="1499.68" stroke="#000" stroke-width="3.5"/>
<line x1="1359.39" y1="1541.47" x2="1374.39" y2="1541.47" stroke="#000" stroke-width="3.5"/>
<line x1="1359.39" y1="1499.68" x2="1374.39" y2="1499.68" stroke="#000" stroke-width="3.5"/>
<polyline points="977.6,1618.32 1012.99,1503.58 1048.38,1493.31 1083.77,1534.03 1119.16,1607.34 1154.55,1633.54 1189.94,1620.79 1225.33,1632.48 1260.72,1639.21 1296.11,1502.87 1331.5,1552.45 1366.89,1521.29" fill="none" stroke="#000" stroke-width="3.8" stroke-linejoin="miter"/>
<circle cx="977.6" cy="1618.32" r="7.2" fill="#000"/>
<circle cx="1012.99" cy="1503.58" r="7.2" fill="#000"/>
<circle cx="1048.38" cy="1493.31" r="7.2" fill="#000"/>
<circle cx="1083.77" cy="1534.03" r="7.2" fill="#000"/>
<circle cx="1119.16" cy="1607.34" r="7.2" fill="#000"/>
<circle cx="1154.55" cy="1633.54" r="7.2" fill="#000"/>
<circle cx="1189.94" cy="1620.79" r="7.2" fill="#000"/>
<circle cx="1225.33" cy="1632.48" r="7.2" fill="#000"/>
<circle cx="1260.72" cy="1639.21" r="7.2" fill="#000"/>
<circle cx="1296.11" cy="1502.87" r="7.2" fill="#000"/>
<circle cx="1331.5" cy="1552.45" r="7.2" fill="#000"/>
<circle cx="1366.89" cy="1521.29" r="7.2" fill="#000"/>
<text x="1174.9" y="1412.5" font-size="31" text-anchor="middle">NREM</text>
<text transform="translate(896,1567.4) rotate(-90)" x="0" y="0" font-size="31" text-anchor="middle">Percentage (%)</text>
<text x="1225.3" y="1522.22" font-size="46" text-anchor="middle" letter-spacing="1.5">*</text>
<text x="1396.6" y="1371.1" font-size="46" fill="#231815" font-weight="bold">n</text>
<rect x="1587.1" y="1432.4" width="210.2" height="283.8" fill="#d3d3d3"/>
<line x1="1480.8" y1="1431.4" x2="1480.8" y2="1720.2" stroke="#000" stroke-width="3.7"/>
<line x1="1470.8" y1="1716.2" x2="1480.8" y2="1716.2" stroke="#000" stroke-width="3.7"/>
<text x="1461.3" y="1726" font-size="31.5" text-anchor="end">0</text>
<line x1="1470.8" y1="1622" x2="1480.8" y2="1622" stroke="#000" stroke-width="3.7"/>
<text x="1466.7" y="1631.8" font-size="31.5" text-anchor="end">5</text>
<line x1="1470.8" y1="1527.8" x2="1480.8" y2="1527.8" stroke="#000" stroke-width="3.7"/>
<text x="1466.7" y="1537.6" font-size="31.5" text-anchor="end">10</text>
<line x1="1470.8" y1="1433.6" x2="1480.8" y2="1433.6" stroke="#000" stroke-width="3.7"/>
<text x="1466.7" y="1443.4" font-size="31.5" text-anchor="end">15</text>
<line x1="1470.3" y1="1716.2" x2="1907.3" y2="1716.2" stroke="#000" stroke-width="3.7"/>
<line x1="1497.5" y1="1716.2" x2="1497.5" y2="1725.8" stroke="#000" stroke-width="3.7"/>
<line x1="1532.9" y1="1716.2" x2="1532.9" y2="1725.8" stroke="#000" stroke-width="3.7"/>
<line x1="1568.3" y1="1716.2" x2="1568.3" y2="1725.8" stroke="#000" stroke-width="3.7"/>
<line x1="1603.7" y1="1716.2" x2="1603.7" y2="1725.8" stroke="#000" stroke-width="3.7"/>
<line x1="1639.1" y1="1716.2" x2="1639.1" y2="1725.8" stroke="#000" stroke-width="3.7"/>
<line x1="1674.5" y1="1716.2" x2="1674.5" y2="1725.8" stroke="#000" stroke-width="3.7"/>
<line x1="1709.9" y1="1716.2" x2="1709.9" y2="1725.8" stroke="#000" stroke-width="3.7"/>
<line x1="1745.3" y1="1716.2" x2="1745.3" y2="1725.8" stroke="#000" stroke-width="3.7"/>
<line x1="1780.7" y1="1716.2" x2="1780.7" y2="1725.8" stroke="#000" stroke-width="3.7"/>
<line x1="1816.1" y1="1716.2" x2="1816.1" y2="1725.8" stroke="#000" stroke-width="3.7"/>
<line x1="1851.5" y1="1716.2" x2="1851.5" y2="1725.8" stroke="#000" stroke-width="3.7"/>
<line x1="1886.9" y1="1716.2" x2="1886.9" y2="1725.8" stroke="#000" stroke-width="3.7"/>
<text transform="translate(1510.5,1739.2) rotate(-73)" x="0" y="0" font-size="28.5" text-anchor="end">ZT7</text>
<text transform="translate(1545.9,1739.2) rotate(-73)" x="0" y="0" font-size="28.5" text-anchor="end">ZT9</text>
<text transform="translate(1581.3,1739.2) rotate(-73)" x="0" y="0" font-size="28.5" text-anchor="end">ZT11</text>
<text transform="translate(1616.7,1739.2) rotate(-73)" x="0" y="0" font-size="28.5" text-anchor="end">ZT13</text>
<text transform="translate(1652.1,1739.2) rotate(-73)" x="0" y="0" font-size="28.5" text-anchor="end">ZT15</text>
<text transform="translate(1687.5,1739.2) rotate(-73)" x="0" y="0" font-size="28.5" text-anchor="end">ZT17</text>
<text transform="translate(1722.9,1739.2) rotate(-73)" x="0" y="0" font-size="28.5" text-anchor="end">ZT19</text>
<text transform="translate(1758.3,1739.2) rotate(-73)" x="0" y="0" font-size="28.5" text-anchor="end">ZT21</text>
<text transform="translate(1793.7,1739.2) rotate(-73)" x="0" y="0" font-size="28.5" text-anchor="end">ZT23</text>
<text transform="translate(1829.1,1739.2) rotate(-73)" x="0" y="0" font-size="28.5" text-anchor="end">ZT1</text>
<text transform="translate(1864.5,1739.2) rotate(-73)" x="0" y="0" font-size="28.5" text-anchor="end">ZT3</text>
<text transform="translate(1899.9,1739.2) rotate(-73)" x="0" y="0" font-size="28.5" text-anchor="end">ZT5</text>
<line x1="1497.5" y1="1710.52" x2="1497.5" y2="1695.39" stroke="#f53c3c" stroke-width="3.5"/>
<line x1="1490" y1="1710.52" x2="1505" y2="1710.52" stroke="#f53c3c" stroke-width="3.5"/>
<line x1="1490" y1="1695.39" x2="1505" y2="1695.39" stroke="#f53c3c" stroke-width="3.5"/>
<line x1="1532.9" y1="1615.92" x2="1532.9" y2="1578.08" stroke="#f53c3c" stroke-width="3.5"/>
<line x1="1525.4" y1="1615.92" x2="1540.4" y2="1615.92" stroke="#f53c3c" stroke-width="3.5"/>
<line x1="1525.4" y1="1578.08" x2="1540.4" y2="1578.08" stroke="#f53c3c" stroke-width="3.5"/>
<line x1="1568.3" y1="1561.06" x2="1568.3" y2="1511.86" stroke="#f53c3c" stroke-width="3.5"/>
<line x1="1560.8" y1="1561.06" x2="1575.8" y2="1561.06" stroke="#f53c3c" stroke-width="3.5"/>
<line x1="1560.8" y1="1511.86" x2="1575.8" y2="1511.86" stroke="#f53c3c" stroke-width="3.5"/>
<line x1="1603.7" y1="1606.46" x2="1603.7" y2="1553.49" stroke="#f53c3c" stroke-width="3.5"/>
<line x1="1596.2" y1="1606.46" x2="1611.2" y2="1606.46" stroke="#f53c3c" stroke-width="3.5"/>
<line x1="1596.2" y1="1553.49" x2="1611.2" y2="1553.49" stroke="#f53c3c" stroke-width="3.5"/>
<line x1="1639.1" y1="1657.55" x2="1639.1" y2="1614.03" stroke="#f53c3c" stroke-width="3.5"/>
<line x1="1631.6" y1="1657.55" x2="1646.6" y2="1657.55" stroke="#f53c3c" stroke-width="3.5"/>
<line x1="1631.6" y1="1614.03" x2="1646.6" y2="1614.03" stroke="#f53c3c" stroke-width="3.5"/>
<line x1="1674.5" y1="1691.6" x2="1674.5" y2="1649.98" stroke="#f53c3c" stroke-width="3.5"/>
<line x1="1667" y1="1691.6" x2="1682" y2="1691.6" stroke="#f53c3c" stroke-width="3.5"/>
<line x1="1667" y1="1649.98" x2="1682" y2="1649.98" stroke="#f53c3c" stroke-width="3.5"/>
<line x1="1709.9" y1="1655.66" x2="1709.9" y2="1629.17" stroke="#f53c3c" stroke-width="3.5"/>
<line x1="1702.4" y1="1655.66" x2="1717.4" y2="1655.66" stroke="#f53c3c" stroke-width="3.5"/>
<line x1="1702.4" y1="1629.17" x2="1717.4" y2="1629.17" stroke="#f53c3c" stroke-width="3.5"/>
<line x1="1745.3" y1="1629.17" x2="1745.3" y2="1595.11" stroke="#f53c3c" stroke-width="3.5"/>
<line x1="1737.8" y1="1629.17" x2="1752.8" y2="1629.17" stroke="#f53c3c" stroke-width="3.5"/>
<line x1="1737.8" y1="1595.11" x2="1752.8" y2="1595.11" stroke="#f53c3c" stroke-width="3.5"/>
<line x1="1780.7" y1="1657.55" x2="1780.7" y2="1619.71" stroke="#f53c3c" stroke-width="3.5"/>
<line x1="1773.2" y1="1657.55" x2="1788.2" y2="1657.55" stroke="#f53c3c" stroke-width="3.5"/>
<line x1="1773.2" y1="1619.71" x2="1788.2" y2="1619.71" stroke="#f53c3c" stroke-width="3.5"/>
<line x1="1816.1" y1="1631.06" x2="1816.1" y2="1576.19" stroke="#f53c3c" stroke-width="3.5"/>
<line x1="1808.6" y1="1631.06" x2="1823.6" y2="1631.06" stroke="#f53c3c" stroke-width="3.5"/>
<line x1="1808.6" y1="1576.19" x2="1823.6" y2="1576.19" stroke="#f53c3c" stroke-width="3.5"/>
<line x1="1851.5" y1="1638.63" x2="1851.5" y2="1597" stroke="#f53c3c" stroke-width="3.5"/>
<line x1="1844" y1="1638.63" x2="1859" y2="1638.63" stroke="#f53c3c" stroke-width="3.5"/>
<line x1="1844" y1="1597" x2="1859" y2="1597" stroke="#f53c3c" stroke-width="3.5"/>
<line x1="1886.9" y1="1593.22" x2="1886.9" y2="1578.08" stroke="#f53c3c" stroke-width="3.5"/>
<line x1="1879.4" y1="1593.22" x2="1894.4" y2="1593.22" stroke="#f53c3c" stroke-width="3.5"/>
<line x1="1879.4" y1="1578.08" x2="1894.4" y2="1578.08" stroke="#f53c3c" stroke-width="3.5"/>
<rect x="1490" y="1695.83" width="15" height="15" fill="#f53c3c"/>
<rect x="1525.4" y="1589.5" width="15" height="15" fill="#f53c3c"/>
<rect x="1560.8" y="1528.96" width="15" height="15" fill="#f53c3c"/>
<rect x="1596.2" y="1574.37" width="15" height="15" fill="#f53c3c"/>
<rect x="1631.6" y="1627.34" width="15" height="15" fill="#f53c3c"/>
<rect x="1667" y="1663.29" width="15" height="15" fill="#f53c3c"/>
<rect x="1702.4" y="1634.91" width="15" height="15" fill="#f53c3c"/>
<rect x="1737.8" y="1602.75" width="15" height="15" fill="#f53c3c"/>
<rect x="1773.2" y="1631.13" width="15" height="15" fill="#f53c3c"/>
<rect x="1808.6" y="1598.02" width="15" height="15" fill="#f53c3c"/>
<rect x="1844" y="1610.32" width="15" height="15" fill="#f53c3c"/>
<rect x="1879.4" y="1578.15" width="15" height="15" fill="#f53c3c"/>
<polyline points="1497.5,1703.33 1532.9,1597 1568.3,1536.46 1603.7,1581.87 1639.1,1634.84 1674.5,1670.79 1709.9,1642.41 1745.3,1610.25 1780.7,1638.63 1816.1,1605.52 1851.5,1617.82 1886.9,1585.65" fill="none" stroke="#ff0000" stroke-width="3.8" stroke-linejoin="miter"/>
<line x1="1497.5" y1="1701.06" x2="1497.5" y2="1680.25" stroke="#000" stroke-width="3.5"/>
<line x1="1490" y1="1701.06" x2="1505" y2="1701.06" stroke="#000" stroke-width="3.5"/>
<line x1="1490" y1="1680.25" x2="1505" y2="1680.25" stroke="#000" stroke-width="3.5"/>
<line x1="1532.9" y1="1644.3" x2="1532.9" y2="1612.14" stroke="#000" stroke-width="3.5"/>
<line x1="1525.4" y1="1644.3" x2="1540.4" y2="1644.3" stroke="#000" stroke-width="3.5"/>
<line x1="1525.4" y1="1612.14" x2="1540.4" y2="1612.14" stroke="#000" stroke-width="3.5"/>
<line x1="1568.3" y1="1610.25" x2="1568.3" y2="1578.08" stroke="#000" stroke-width="3.5"/>
<line x1="1560.8" y1="1610.25" x2="1575.8" y2="1610.25" stroke="#000" stroke-width="3.5"/>
<line x1="1560.8" y1="1578.08" x2="1575.8" y2="1578.08" stroke="#000" stroke-width="3.5"/>
<line x1="1603.7" y1="1653.76" x2="1603.7" y2="1636.74" stroke="#000" stroke-width="3.5"/>
<line x1="1596.2" y1="1653.76" x2="1611.2" y2="1653.76" stroke="#000" stroke-width="3.5"/>
<line x1="1596.2" y1="1636.74" x2="1611.2" y2="1636.74" stroke="#000" stroke-width="3.5"/>
<line x1="1639.1" y1="1684.04" x2="1639.1" y2="1661.33" stroke="#000" stroke-width="3.5"/>
<line x1="1631.6" y1="1684.04" x2="1646.6" y2="1684.04" stroke="#000" stroke-width="3.5"/>
<line x1="1631.6" y1="1661.33" x2="1646.6" y2="1661.33" stroke="#000" stroke-width="3.5"/>
<line x1="1674.5" y1="1693.5" x2="1674.5" y2="1668.9" stroke="#000" stroke-width="3.5"/>
<line x1="1667" y1="1693.5" x2="1682" y2="1693.5" stroke="#000" stroke-width="3.5"/>
<line x1="1667" y1="1668.9" x2="1682" y2="1668.9" stroke="#000" stroke-width="3.5"/>
<line x1="1709.9" y1="1692.36" x2="1709.9" y2="1664.17" stroke="#000" stroke-width="3.5"/>
<line x1="1702.4" y1="1692.36" x2="1717.4" y2="1692.36" stroke="#000" stroke-width="3.5"/>
<line x1="1702.4" y1="1664.17" x2="1717.4" y2="1664.17" stroke="#000" stroke-width="3.5"/>
<line x1="1745.3" y1="1703.33" x2="1745.3" y2="1663.22" stroke="#000" stroke-width="3.5"/>
<line x1="1737.8" y1="1703.33" x2="1752.8" y2="1703.33" stroke="#000" stroke-width="3.5"/>
<line x1="1737.8" y1="1663.22" x2="1752.8" y2="1663.22" stroke="#000" stroke-width="3.5"/>
<line x1="1780.7" y1="1695.39" x2="1780.7" y2="1674.58" stroke="#000" stroke-width="3.5"/>
<line x1="1773.2" y1="1695.39" x2="1788.2" y2="1695.39" stroke="#000" stroke-width="3.5"/>
<line x1="1773.2" y1="1674.58" x2="1788.2" y2="1674.58" stroke="#000" stroke-width="3.5"/>
<line x1="1816.1" y1="1600.79" x2="1816.1" y2="1561.06" stroke="#000" stroke-width="3.5"/>
<line x1="1808.6" y1="1600.79" x2="1823.6" y2="1600.79" stroke="#000" stroke-width="3.5"/>
<line x1="1808.6" y1="1561.06" x2="1823.6" y2="1561.06" stroke="#000" stroke-width="3.5"/>
<line x1="1851.5" y1="1640.52" x2="1851.5" y2="1606.46" stroke="#000" stroke-width="3.5"/>
<line x1="1844" y1="1640.52" x2="1859" y2="1640.52" stroke="#000" stroke-width="3.5"/>
<line x1="1844" y1="1606.46" x2="1859" y2="1606.46" stroke="#000" stroke-width="3.5"/>
<line x1="1886.9" y1="1608.36" x2="1886.9" y2="1578.08" stroke="#000" stroke-width="3.5"/>
<line x1="1879.4" y1="1608.36" x2="1894.4" y2="1608.36" stroke="#000" stroke-width="3.5"/>
<line x1="1879.4" y1="1578.08" x2="1894.4" y2="1578.08" stroke="#000" stroke-width="3.5"/>
<polyline points="1497.5,1691.6 1532.9,1628.22 1568.3,1594.17 1603.7,1644.3 1639.1,1672.68 1674.5,1681.2 1709.9,1678.36 1745.3,1683.47 1780.7,1684.6 1816.1,1579.98 1851.5,1623.49 1886.9,1593.22" fill="none" stroke="#000" stroke-width="3.8" stroke-linejoin="miter"/>
<circle cx="1497.5" cy="1691.6" r="7.2" fill="#000"/>
<circle cx="1532.9" cy="1628.22" r="7.2" fill="#000"/>
<circle cx="1568.3" cy="1594.17" r="7.2" fill="#000"/>
<circle cx="1603.7" cy="1644.3" r="7.2" fill="#000"/>
<circle cx="1639.1" cy="1672.68" r="7.2" fill="#000"/>
<circle cx="1674.5" cy="1681.2" r="7.2" fill="#000"/>
<circle cx="1709.9" cy="1678.36" r="7.2" fill="#000"/>
<circle cx="1745.3" cy="1683.47" r="7.2" fill="#000"/>
<circle cx="1780.7" cy="1684.6" r="7.2" fill="#000"/>
<circle cx="1816.1" cy="1579.98" r="7.2" fill="#000"/>
<circle cx="1851.5" cy="1623.49" r="7.2" fill="#000"/>
<circle cx="1886.9" cy="1593.22" r="7.2" fill="#000"/>
<text x="1693.4" y="1412.7" font-size="31" text-anchor="middle">REM</text>
<text transform="translate(1419.2,1575.5) rotate(-90)" x="0" y="0" font-size="31" text-anchor="middle">Percentage (%)</text>
<text x="1745.2" y="1595.92" font-size="46" text-anchor="middle" letter-spacing="1.5">*</text>
<polyline points="1899.5,1580.6 1911,1580.6 1911,1607.2 1899.5,1607.2" fill="none" stroke="#000" stroke-width="3.5"/>
<text transform="translate(1904.58,1594) rotate(90)" x="0" y="0" font-size="46" text-anchor="middle" letter-spacing="1.5">**</text>
<line x1="1449.8" y1="1353" x2="1482.2" y2="1353" stroke="#ff0000" stroke-width="3.6"/>
<rect x="1458" y="1345.3" width="15.5" height="15.5" fill="#f52828"/>
<text x="1499.2" y="1361" font-size="31">DTA (<tspan font-style="italic">n</tspan> = 8)</text>
<line x1="1704.6" y1="1353" x2="1737.7" y2="1353" stroke="#000" stroke-width="3.6"/>
<circle cx="1720.7" cy="1353" r="7.3" fill="#000"/>
<text x="1754" y="1361" font-size="31">mCherry (<tspan font-style="italic">n</tspan> = 8)</text>
<text x="-0.5" y="937.4" font-size="46" fill="#231815" font-weight="bold">f</text>
<rect x="113.8" y="988.3" width="121.1" height="260.2" fill="#d3d3d3"/>
<polyline points="123.7,1248.5 123.7,1064.1 163.4,1064.1 163.4,1248.5" fill="none" stroke="#000" stroke-width="3.2"/>
<polyline points="179.5,1248.5 179.5,1044.2 218.7,1044.2 218.7,1248.5" fill="none" stroke="#008000" stroke-width="3.2"/>
<polyline points="253.6,1248.5 253.6,1131.7 292.8,1131.7 292.8,1248.5" fill="none" stroke="#000" stroke-width="3.2"/>
<polyline points="310,1248.5 310,1106 349.2,1106 349.2,1248.5" fill="none" stroke="#008000" stroke-width="3.2"/>
<circle cx="127.9" cy="1034.3" r="7" fill="#000"/>
<circle cx="135.4" cy="1049.5" r="7" fill="#000"/>
<circle cx="137.5" cy="1054.9" r="7" fill="#000"/>
<circle cx="150.5" cy="1045.3" r="7" fill="#000"/>
<circle cx="149.8" cy="1052.2" r="7" fill="#000"/>
<circle cx="158.8" cy="1039.8" r="7" fill="#000"/>
<circle cx="143.7" cy="1084.5" r="7" fill="#000"/>
<circle cx="130.6" cy="1088.6" r="7" fill="#000"/>
<circle cx="156" cy="1092.7" r="7" fill="#000"/>
<circle cx="143.7" cy="1101" r="7" fill="#000"/>
<rect x="179" y="1010.9" width="14" height="14" fill="#008000"/>
<rect x="205" y="1014.3" width="14" height="14" fill="#008000"/>
<rect x="192.3" y="1023.9" width="14" height="14" fill="#008000"/>
<rect x="205.3" y="1032.8" width="14" height="14" fill="#008000"/>
<rect x="178.5" y="1037.6" width="14" height="14" fill="#008000"/>
<rect x="192.3" y="1034.2" width="14" height="14" fill="#008000"/>
<rect x="184" y="1048" width="14" height="14" fill="#008000"/>
<rect x="199.2" y="1046.6" width="14" height="14" fill="#008000"/>
<rect x="197.8" y="1053.4" width="14" height="14" fill="#008000"/>
<rect x="186.8" y="1061" width="14" height="14" fill="#008000"/>
<circle cx="273.6" cy="1099.1" r="7" fill="#000"/>
<circle cx="273.6" cy="1121.5" r="7" fill="#000"/>
<circle cx="265" cy="1132.7" r="7" fill="#000"/>
<circle cx="282.2" cy="1132.1" r="7" fill="#000"/>
<circle cx="259.8" cy="1137.4" r="7" fill="#000"/>
<circle cx="287.5" cy="1137.4" r="7" fill="#000"/>
<circle cx="271" cy="1145.3" r="7" fill="#000"/>
<circle cx="276.9" cy="1139.3" r="7" fill="#000"/>
<circle cx="267.7" cy="1139.3" r="7" fill="#000"/>
<circle cx="271" cy="1144.8" r="7" fill="#000"/>
<rect x="322.1" y="1043.1" width="14" height="14" fill="#008000"/>
<rect x="322.3" y="1084.9" width="14" height="14" fill="#008000"/>
<rect x="314.7" y="1090.1" width="14" height="14" fill="#008000"/>
<rect x="329.9" y="1093.4" width="14" height="14" fill="#008000"/>
<rect x="322" y="1101" width="14" height="14" fill="#008000"/>
<rect x="314.7" y="1112.9" width="14" height="14" fill="#008000"/>
<rect x="329.9" y="1110.2" width="14" height="14" fill="#008000"/>
<rect x="317" y="1125.7" width="14" height="14" fill="#008000"/>
<rect x="328" y="1124.4" width="14" height="14" fill="#008000"/>
<rect x="322" y="1118" width="14" height="14" fill="#008000"/>
<line x1="143.55" y1="1055" x2="143.55" y2="1072" stroke="#000" stroke-width="3.2"/>
<line x1="131.55" y1="1055" x2="155.55" y2="1055" stroke="#000" stroke-width="3.2"/>
<line x1="131.55" y1="1072" x2="155.55" y2="1072" stroke="#000" stroke-width="3.2"/>
<line x1="199.1" y1="1036" x2="199.1" y2="1050" stroke="#008000" stroke-width="3.2"/>
<line x1="187.1" y1="1036" x2="211.1" y2="1036" stroke="#008000" stroke-width="3.2"/>
<line x1="187.1" y1="1050" x2="211.1" y2="1050" stroke="#008000" stroke-width="3.2"/>
<line x1="273.2" y1="1125" x2="273.2" y2="1137" stroke="#000" stroke-width="3.2"/>
<line x1="261.2" y1="1125" x2="285.2" y2="1125" stroke="#000" stroke-width="3.2"/>
<line x1="261.2" y1="1137" x2="285.2" y2="1137" stroke="#000" stroke-width="3.2"/>
<line x1="329.6" y1="1097" x2="329.6" y2="1113" stroke="#008000" stroke-width="3.2"/>
<line x1="317.6" y1="1097" x2="341.6" y2="1097" stroke="#008000" stroke-width="3.2"/>
<line x1="317.6" y1="1113" x2="341.6" y2="1113" stroke="#008000" stroke-width="3.2"/>
<line x1="112.5" y1="986.75" x2="112.5" y2="1252.5" stroke="#000" stroke-width="3.7"/>
<line x1="103.5" y1="1248.5" x2="112.5" y2="1248.5" stroke="#000" stroke-width="3.7"/>
<text x="86.9" y="1258.3" font-size="31.5" text-anchor="end">0</text>
<line x1="103.5" y1="1161.77" x2="112.5" y2="1161.77" stroke="#000" stroke-width="3.7"/>
<text x="99.3" y="1171.57" font-size="31.5" text-anchor="end">200</text>
<line x1="103.5" y1="1075.03" x2="112.5" y2="1075.03" stroke="#000" stroke-width="3.7"/>
<text x="99.3" y="1084.83" font-size="31.5" text-anchor="end">400</text>
<line x1="103.5" y1="988.3" x2="112.5" y2="988.3" stroke="#000" stroke-width="3.7"/>
<text x="99.3" y="998.1" font-size="31.5" text-anchor="end">600</text>
<line x1="104.4" y1="1248.5" x2="364.3" y2="1248.5" stroke="#000" stroke-width="3.7"/>
<line x1="171.6" y1="1248.5" x2="171.6" y2="1257" stroke="#000" stroke-width="3.7"/>
<line x1="301.3" y1="1248.5" x2="301.3" y2="1257" stroke="#000" stroke-width="3.7"/>
<text x="174.9" y="1284" font-size="31" text-anchor="middle">Dark</text>
<text x="304.3" y="1284" font-size="31" text-anchor="middle">Light</text>
<line x1="271.8" y1="1012.6" x2="332" y2="1012.6" stroke="#000" stroke-width="3.5"/>
<text x="301.9" y="1018.82" font-size="46" text-anchor="middle" letter-spacing="1.5">**</text>
<text x="236" y="953" font-size="31" text-anchor="middle">Wake</text>
<text transform="translate(34.4,1117) rotate(-90)" x="0" y="0" font-size="31" text-anchor="middle">Time (min)</text>
<text x="366.6" y="937.2" font-size="46" fill="#231815" font-weight="bold">g</text>
<rect x="464.4" y="988.4" width="120" height="260.1" fill="#d3d3d3"/>
<polyline points="473.3,1248.5 473.3,1116.3 512.9,1116.3 512.9,1248.5" fill="none" stroke="#000" stroke-width="3.2"/>
<polyline points="529.6,1248.5 529.6,1136.6 568.2,1136.6 568.2,1248.5" fill="none" stroke="#008000" stroke-width="3.2"/>
<polyline points="604.2,1248.5 604.2,1046.2 643.4,1046.2 643.4,1248.5" fill="none" stroke="#000" stroke-width="3.2"/>
<polyline points="659.6,1248.5 659.6,1074.1 698.7,1074.1 698.7,1248.5" fill="none" stroke="#008000" stroke-width="3.2"/>
<circle cx="480.3" cy="1086.2" r="7" fill="#000"/>
<circle cx="493.4" cy="1088.3" r="7" fill="#000"/>
<circle cx="506.4" cy="1078.7" r="7" fill="#000"/>
<circle cx="501.2" cy="1102.7" r="7" fill="#000"/>
<circle cx="486.1" cy="1114.4" r="7" fill="#000"/>
<circle cx="480.6" cy="1132.3" r="7" fill="#000"/>
<circle cx="493.7" cy="1132.9" r="7" fill="#000"/>
<circle cx="506.4" cy="1128.1" r="7" fill="#000"/>
<circle cx="501.2" cy="1145.3" r="7" fill="#000"/>
<circle cx="485.4" cy="1150.1" r="7" fill="#000"/>
<rect x="549.8" y="1103.3" width="14" height="14" fill="#008000"/>
<rect x="534" y="1113.6" width="14" height="14" fill="#008000"/>
<rect x="528.5" y="1119.1" width="14" height="14" fill="#008000"/>
<rect x="554.6" y="1117.7" width="14" height="14" fill="#008000"/>
<rect x="540.9" y="1122.5" width="14" height="14" fill="#008000"/>
<rect x="542.3" y="1130.7" width="14" height="14" fill="#008000"/>
<rect x="528.5" y="1145.2" width="14" height="14" fill="#008000"/>
<rect x="554.6" y="1155.5" width="14" height="14" fill="#008000"/>
<rect x="542.3" y="1159.6" width="14" height="14" fill="#008000"/>
<rect x="549" y="1153" width="14" height="14" fill="#008000"/>
<circle cx="610.4" cy="1029.2" r="7" fill="#000"/>
<circle cx="636.5" cy="1032" r="7" fill="#000"/>
<circle cx="618" cy="1036.1" r="7" fill="#000"/>
<circle cx="630.3" cy="1037.5" r="7" fill="#000"/>
<circle cx="623.5" cy="1041.6" r="7" fill="#000"/>
<circle cx="623.5" cy="1060.8" r="7" fill="#000"/>
<circle cx="631.7" cy="1072.5" r="7" fill="#000"/>
<circle cx="615.9" cy="1080.7" r="7" fill="#000"/>
<circle cx="613" cy="1031" r="7" fill="#000"/>
<circle cx="633" cy="1035" r="7" fill="#000"/>
<rect x="672.1" y="1036" width="14" height="14" fill="#008000"/>
<rect x="664.5" y="1042.1" width="14" height="14" fill="#008000"/>
<rect x="679.6" y="1045.6" width="14" height="14" fill="#008000"/>
<rect x="667.3" y="1048.3" width="14" height="14" fill="#008000"/>
<rect x="679" y="1062.1" width="14" height="14" fill="#008000"/>
<rect x="656.3" y="1071.7" width="14" height="14" fill="#008000"/>
<rect x="664.5" y="1084.7" width="14" height="14" fill="#008000"/>
<rect x="680.3" y="1099.2" width="14" height="14" fill="#008000"/>
<rect x="672.1" y="1123.2" width="14" height="14" fill="#008000"/>
<rect x="672.8" y="1055.2" width="14" height="14" fill="#008000"/>
<line x1="493.1" y1="1106.8" x2="493.1" y2="1124" stroke="#000" stroke-width="3.2"/>
<line x1="481.1" y1="1106.8" x2="505.1" y2="1106.8" stroke="#000" stroke-width="3.2"/>
<line x1="481.1" y1="1124" x2="505.1" y2="1124" stroke="#000" stroke-width="3.2"/>
<line x1="548.9" y1="1126" x2="548.9" y2="1144" stroke="#008000" stroke-width="3.2"/>
<line x1="536.9" y1="1126" x2="560.9" y2="1126" stroke="#008000" stroke-width="3.2"/>
<line x1="536.9" y1="1144" x2="560.9" y2="1144" stroke="#008000" stroke-width="3.2"/>
<line x1="623.8" y1="1037" x2="623.8" y2="1051.9" stroke="#000" stroke-width="3.2"/>
<line x1="611.8" y1="1037" x2="635.8" y2="1037" stroke="#000" stroke-width="3.2"/>
<line x1="611.8" y1="1051.9" x2="635.8" y2="1051.9" stroke="#000" stroke-width="3.2"/>
<line x1="679.15" y1="1062.9" x2="679.15" y2="1082.8" stroke="#008000" stroke-width="3.2"/>
<line x1="667.15" y1="1062.9" x2="691.15" y2="1062.9" stroke="#008000" stroke-width="3.2"/>
<line x1="667.15" y1="1082.8" x2="691.15" y2="1082.8" stroke="#008000" stroke-width="3.2"/>
<line x1="462.9" y1="986.85" x2="462.9" y2="1252.5" stroke="#000" stroke-width="3.7"/>
<line x1="453.9" y1="1248.5" x2="462.9" y2="1248.5" stroke="#000" stroke-width="3.7"/>
<text x="435.4" y="1258.3" font-size="31.5" text-anchor="end">0</text>
<line x1="453.9" y1="1196.48" x2="462.9" y2="1196.48" stroke="#000" stroke-width="3.7"/>
<text x="449.7" y="1206.28" font-size="31.5" text-anchor="end">100</text>
<line x1="453.9" y1="1144.46" x2="462.9" y2="1144.46" stroke="#000" stroke-width="3.7"/>
<text x="449.7" y="1154.26" font-size="31.5" text-anchor="end">200</text>
<line x1="453.9" y1="1092.44" x2="462.9" y2="1092.44" stroke="#000" stroke-width="3.7"/>
<text x="449.7" y="1102.24" font-size="31.5" text-anchor="end">300</text>
<line x1="453.9" y1="1040.42" x2="462.9" y2="1040.42" stroke="#000" stroke-width="3.7"/>
<text x="449.7" y="1050.22" font-size="31.5" text-anchor="end">400</text>
<line x1="453.9" y1="988.4" x2="462.9" y2="988.4" stroke="#000" stroke-width="3.7"/>
<text x="449.7" y="998.2" font-size="31.5" text-anchor="end">500</text>
<line x1="454" y1="1248.5" x2="713.9" y2="1248.5" stroke="#000" stroke-width="3.7"/>
<line x1="521.8" y1="1248.5" x2="521.8" y2="1257" stroke="#000" stroke-width="3.7"/>
<line x1="651.7" y1="1248.5" x2="651.7" y2="1257" stroke="#000" stroke-width="3.7"/>
<text x="525" y="1284" font-size="31" text-anchor="middle">Dark</text>
<text x="655" y="1284" font-size="31" text-anchor="middle">Light</text>
<line x1="620.6" y1="995.9" x2="681" y2="995.9" stroke="#000" stroke-width="3.5"/>
<text x="650.8" y="1004.22" font-size="46" text-anchor="middle" letter-spacing="1.5">*</text>
<text x="587.6" y="954" font-size="31" text-anchor="middle">NREM</text>
<text x="703.1" y="937.4" font-size="46" fill="#231815" font-weight="bold">h</text>
<rect x="785.6" y="988.6" width="120.9" height="260.4" fill="#d3d3d3"/>
<polyline points="795.6,1249 795.6,1165.1 834.4,1165.1 834.4,1249" fill="none" stroke="#000" stroke-width="3.2"/>
<polyline points="850.6,1249 850.6,1179.6 890.4,1179.6 890.4,1249" fill="none" stroke="#008000" stroke-width="3.2"/>
<polyline points="925.6,1249 925.6,1084.1 965,1084.1 965,1249" fill="none" stroke="#000" stroke-width="3.2"/>
<polyline points="981.6,1249 981.6,1116.1 1020.4,1116.1 1020.4,1249" fill="none" stroke="#008000" stroke-width="3.2"/>
<circle cx="801.9" cy="1134.7" r="7" fill="#000"/>
<circle cx="815" cy="1138.1" r="7" fill="#000"/>
<circle cx="828" cy="1133.7" r="7" fill="#000"/>
<circle cx="815" cy="1156" r="7" fill="#000"/>
<circle cx="801.9" cy="1171.1" r="7" fill="#000"/>
<circle cx="815" cy="1174.5" r="7" fill="#000"/>
<circle cx="828" cy="1169" r="7" fill="#000"/>
<circle cx="801.9" cy="1188.3" r="7" fill="#000"/>
<circle cx="828" cy="1189" r="7" fill="#000"/>
<circle cx="815" cy="1197.9" r="7" fill="#000"/>
<rect x="879.6" y="1149.7" width="14" height="14" fill="#008000"/>
<rect x="848" y="1157.2" width="14" height="14" fill="#008000"/>
<rect x="856.3" y="1162.7" width="14" height="14" fill="#008000"/>
<rect x="871.4" y="1164.1" width="14" height="14" fill="#008000"/>
<rect x="863.2" y="1172.3" width="14" height="14" fill="#008000"/>
<rect x="856.3" y="1184.7" width="14" height="14" fill="#008000"/>
<rect x="871.4" y="1179.9" width="14" height="14" fill="#008000"/>
<rect x="859" y="1193" width="14" height="14" fill="#008000"/>
<rect x="868.7" y="1188.8" width="14" height="14" fill="#008000"/>
<rect x="863" y="1178" width="14" height="14" fill="#008000"/>
<circle cx="937.5" cy="1037.9" r="7" fill="#000"/>
<circle cx="953.3" cy="1053" r="7" fill="#000"/>
<circle cx="945" cy="1068.8" r="7" fill="#000"/>
<circle cx="932" cy="1077.7" r="7" fill="#000"/>
<circle cx="958.1" cy="1076.3" r="7" fill="#000"/>
<circle cx="945" cy="1088.7" r="7" fill="#000"/>
<circle cx="937.5" cy="1086" r="7" fill="#000"/>
<circle cx="937.5" cy="1131.3" r="7" fill="#000"/>
<circle cx="953.3" cy="1131.3" r="7" fill="#000"/>
<circle cx="950" cy="1082" r="7" fill="#000"/>
<rect x="993.9" y="1030.9" width="14" height="14" fill="#008000"/>
<rect x="993.9" y="1083" width="14" height="14" fill="#008000"/>
<rect x="980.6" y="1092" width="14" height="14" fill="#008000"/>
<rect x="1006.7" y="1089.9" width="14" height="14" fill="#008000"/>
<rect x="993.9" y="1100.9" width="14" height="14" fill="#008000"/>
<rect x="1001.9" y="1122.2" width="14" height="14" fill="#008000"/>
<rect x="977.9" y="1125.6" width="14" height="14" fill="#008000"/>
<rect x="986.1" y="1133.2" width="14" height="14" fill="#008000"/>
<rect x="1001.9" y="1146.2" width="14" height="14" fill="#008000"/>
<rect x="993.9" y="1163.4" width="14" height="14" fill="#008000"/>
<line x1="815" y1="1157.4" x2="815" y2="1170" stroke="#000" stroke-width="3.2"/>
<line x1="803" y1="1157.4" x2="827" y2="1157.4" stroke="#000" stroke-width="3.2"/>
<line x1="803" y1="1170" x2="827" y2="1170" stroke="#000" stroke-width="3.2"/>
<line x1="870.5" y1="1172" x2="870.5" y2="1184" stroke="#008000" stroke-width="3.2"/>
<line x1="858.5" y1="1172" x2="882.5" y2="1172" stroke="#008000" stroke-width="3.2"/>
<line x1="858.5" y1="1184" x2="882.5" y2="1184" stroke="#008000" stroke-width="3.2"/>
<line x1="945.3" y1="1073" x2="945.3" y2="1092.8" stroke="#000" stroke-width="3.2"/>
<line x1="933.3" y1="1073" x2="957.3" y2="1073" stroke="#000" stroke-width="3.2"/>
<line x1="933.3" y1="1092.8" x2="957.3" y2="1092.8" stroke="#000" stroke-width="3.2"/>
<line x1="1001" y1="1098.3" x2="1001" y2="1130" stroke="#008000" stroke-width="3.2"/>
<line x1="989" y1="1098.3" x2="1013" y2="1098.3" stroke="#008000" stroke-width="3.2"/>
<line x1="989" y1="1130" x2="1013" y2="1130" stroke="#008000" stroke-width="3.2"/>
<line x1="784.5" y1="987.05" x2="784.5" y2="1253" stroke="#000" stroke-width="3.7"/>
<line x1="775.5" y1="1249" x2="784.5" y2="1249" stroke="#000" stroke-width="3.7"/>
<text x="760.2" y="1258.8" font-size="31.5" text-anchor="end">0</text>
<line x1="775.5" y1="1183.9" x2="784.5" y2="1183.9" stroke="#000" stroke-width="3.7"/>
<text x="767.5" y="1193.7" font-size="31.5" text-anchor="end">20</text>
<line x1="775.5" y1="1118.8" x2="784.5" y2="1118.8" stroke="#000" stroke-width="3.7"/>
<text x="767.5" y="1128.6" font-size="31.5" text-anchor="end">40</text>
<line x1="775.5" y1="1053.7" x2="784.5" y2="1053.7" stroke="#000" stroke-width="3.7"/>
<text x="767.5" y="1063.5" font-size="31.5" text-anchor="end">60</text>
<line x1="775.5" y1="988.6" x2="784.5" y2="988.6" stroke="#000" stroke-width="3.7"/>
<text x="767.5" y="998.4" font-size="31.5" text-anchor="end">80</text>
<line x1="775.6" y1="1249" x2="1035.5" y2="1249" stroke="#000" stroke-width="3.7"/>
<line x1="843.5" y1="1249" x2="843.5" y2="1257.5" stroke="#000" stroke-width="3.7"/>
<line x1="972.9" y1="1249" x2="972.9" y2="1257.5" stroke="#000" stroke-width="3.7"/>
<text x="847.7" y="1285" font-size="31" text-anchor="middle">Dark</text>
<text x="977.4" y="1285" font-size="31" text-anchor="middle">Light</text>
<line x1="940" y1="998.4" x2="1000" y2="998.4" stroke="#000" stroke-width="3.5"/>
<text x="970" y="1004.22" font-size="46" text-anchor="middle" letter-spacing="1.5">*</text>
<text x="906" y="954" font-size="31" text-anchor="middle">REM</text>
<text x="1055.7" y="938" font-size="46" fill="#231815" font-weight="bold">i</text>
<polyline points="1193.2,1247 1193.2,1118.3 1220.2,1118.3 1220.2,1247" fill="none" stroke="#000" stroke-width="3.2"/>
<polyline points="1237.4,1247 1237.4,1076.8 1263.7,1076.8 1263.7,1247" fill="none" stroke="#008000" stroke-width="3.2"/>
<polyline points="1287.6,1247 1287.6,1119.1 1314.4,1119.1 1314.4,1247" fill="none" stroke="#000" stroke-width="3.2"/>
<polyline points="1331.6,1247 1331.6,1076.8 1358,1076.8 1358,1247" fill="none" stroke="#008000" stroke-width="3.2"/>
<polyline points="1378.6,1247 1378.6,1224.1 1405.4,1224.1 1405.4,1247" fill="none" stroke="#000" stroke-width="3.2"/>
<polyline points="1422.4,1247 1422.4,1227.1 1449.4,1227.1 1449.4,1247" fill="none" stroke="#008000" stroke-width="3.2"/>
<circle cx="1207.4" cy="1078.2" r="6.8" fill="#000"/>
<circle cx="1199.8" cy="1094.8" r="6.8" fill="#000"/>
<circle cx="1222" cy="1100.8" r="6.8" fill="#000"/>
<circle cx="1214.5" cy="1106.9" r="6.8" fill="#000"/>
<circle cx="1200.1" cy="1116.7" r="6.8" fill="#000"/>
<circle cx="1201.6" cy="1124.3" r="6.8" fill="#000"/>
<circle cx="1215.2" cy="1122.8" r="6.8" fill="#000"/>
<circle cx="1210.7" cy="1137.9" r="6.8" fill="#000"/>
<circle cx="1207.4" cy="1172.6" r="6.8" fill="#000"/>
<circle cx="1207" cy="1120" r="6.8" fill="#000"/>
<rect x="1235.4" y="1024.3" width="14" height="14" fill="#008000"/>
<rect x="1241.5" y="1029.6" width="14" height="14" fill="#008000"/>
<rect x="1251.3" y="1028.9" width="14" height="14" fill="#008000"/>
<rect x="1235.4" y="1075" width="14" height="14" fill="#008000"/>
<rect x="1251.3" y="1076" width="14" height="14" fill="#008000"/>
<rect x="1235.4" y="1094.6" width="14" height="14" fill="#008000"/>
<rect x="1251.3" y="1087" width="14" height="14" fill="#008000"/>
<rect x="1251.3" y="1104.4" width="14" height="14" fill="#008000"/>
<rect x="1243.7" y="1134.6" width="14" height="14" fill="#008000"/>
<rect x="1235.4" y="1085" width="14" height="14" fill="#008000"/>
<circle cx="1301.4" cy="1080.4" r="6.8" fill="#000"/>
<circle cx="1294.1" cy="1094.8" r="6.8" fill="#000"/>
<circle cx="1308.9" cy="1101.6" r="6.8" fill="#000"/>
<circle cx="1294.6" cy="1106.9" r="6.8" fill="#000"/>
<circle cx="1310.4" cy="1118.2" r="6.8" fill="#000"/>
<circle cx="1296.1" cy="1127.3" r="6.8" fill="#000"/>
<circle cx="1308.1" cy="1122.8" r="6.8" fill="#000"/>
<circle cx="1301.4" cy="1138.6" r="6.8" fill="#000"/>
<circle cx="1301.4" cy="1172.6" r="6.8" fill="#000"/>
<circle cx="1301" cy="1118" r="6.8" fill="#000"/>
<rect x="1329.9" y="1024.3" width="14" height="14" fill="#008000"/>
<rect x="1335.9" y="1029.6" width="14" height="14" fill="#008000"/>
<rect x="1345.7" y="1028.9" width="14" height="14" fill="#008000"/>
<rect x="1329.9" y="1075" width="14" height="14" fill="#008000"/>
<rect x="1345.7" y="1076" width="14" height="14" fill="#008000"/>
<rect x="1329.9" y="1088" width="14" height="14" fill="#008000"/>
<rect x="1345.7" y="1087" width="14" height="14" fill="#008000"/>
<rect x="1338" y="1104.4" width="14" height="14" fill="#008000"/>
<rect x="1338" y="1134.6" width="14" height="14" fill="#008000"/>
<rect x="1329.9" y="1094" width="14" height="14" fill="#008000"/>
<circle cx="1384.5" cy="1219.5" r="6.8" fill="#000"/>
<circle cx="1395.8" cy="1215.7" r="6.8" fill="#000"/>
<circle cx="1401" cy="1219.5" r="6.8" fill="#000"/>
<circle cx="1390.5" cy="1230.8" r="6.8" fill="#000"/>
<circle cx="1383" cy="1225" r="6.8" fill="#000"/>
<circle cx="1400" cy="1226" r="6.8" fill="#000"/>
<circle cx="1392" cy="1222" r="6.8" fill="#000"/>
<circle cx="1396" cy="1228" r="6.8" fill="#000"/>
<rect x="1428.8" y="1207.9" width="14" height="14" fill="#008000"/>
<rect x="1421.3" y="1212.5" width="14" height="14" fill="#008000"/>
<rect x="1436.4" y="1218.5" width="14" height="14" fill="#008000"/>
<rect x="1419.8" y="1224.5" width="14" height="14" fill="#008000"/>
<rect x="1431.8" y="1227.6" width="14" height="14" fill="#008000"/>
<rect x="1429" y="1219" width="14" height="14" fill="#008000"/>
<rect x="1437" y="1223" width="14" height="14" fill="#008000"/>
<rect x="1423" y="1219" width="14" height="14" fill="#008000"/>
<line x1="1206.7" y1="1109.2" x2="1206.7" y2="1124" stroke="#000" stroke-width="3.2"/>
<line x1="1198.2" y1="1109.2" x2="1215.2" y2="1109.2" stroke="#000" stroke-width="3.2"/>
<line x1="1198.2" y1="1124" x2="1215.2" y2="1124" stroke="#000" stroke-width="3.2"/>
<line x1="1250.55" y1="1063.8" x2="1250.55" y2="1086" stroke="#008000" stroke-width="3.2"/>
<line x1="1242.05" y1="1063.8" x2="1259.05" y2="1063.8" stroke="#008000" stroke-width="3.2"/>
<line x1="1242.05" y1="1086" x2="1259.05" y2="1086" stroke="#008000" stroke-width="3.2"/>
<line x1="1301" y1="1110.7" x2="1301" y2="1124" stroke="#000" stroke-width="3.2"/>
<line x1="1292.5" y1="1110.7" x2="1309.5" y2="1110.7" stroke="#000" stroke-width="3.2"/>
<line x1="1292.5" y1="1124" x2="1309.5" y2="1124" stroke="#000" stroke-width="3.2"/>
<line x1="1344.8" y1="1064.6" x2="1344.8" y2="1086" stroke="#008000" stroke-width="3.2"/>
<line x1="1336.3" y1="1064.6" x2="1353.3" y2="1064.6" stroke="#008000" stroke-width="3.2"/>
<line x1="1336.3" y1="1086" x2="1353.3" y2="1086" stroke="#008000" stroke-width="3.2"/>
<line x1="1185" y1="977.65" x2="1185" y2="1251" stroke="#000" stroke-width="3.7"/>
<line x1="1176" y1="1247" x2="1185" y2="1247" stroke="#000" stroke-width="3.7"/>
<text x="1159.8" y="1256.8" font-size="31.5" text-anchor="end">0</text>
<line x1="1176" y1="1193.44" x2="1185" y2="1193.44" stroke="#000" stroke-width="3.7"/>
<text x="1173.4" y="1203.24" font-size="31.5" text-anchor="end">100</text>
<line x1="1176" y1="1139.88" x2="1185" y2="1139.88" stroke="#000" stroke-width="3.7"/>
<text x="1173.4" y="1149.68" font-size="31.5" text-anchor="end">200</text>
<line x1="1176" y1="1086.32" x2="1185" y2="1086.32" stroke="#000" stroke-width="3.7"/>
<text x="1173.4" y="1096.12" font-size="31.5" text-anchor="end">300</text>
<line x1="1176" y1="1032.76" x2="1185" y2="1032.76" stroke="#000" stroke-width="3.7"/>
<text x="1173.4" y="1042.56" font-size="31.5" text-anchor="end">400</text>
<line x1="1176" y1="979.2" x2="1185" y2="979.2" stroke="#000" stroke-width="3.7"/>
<text x="1173.4" y="989" font-size="31.5" text-anchor="end">500</text>
<line x1="1176.6" y1="1247" x2="1458.2" y2="1247" stroke="#000" stroke-width="3.7"/>
<line x1="1229" y1="1247" x2="1229" y2="1255.5" stroke="#000" stroke-width="3.7"/>
<line x1="1322.9" y1="1247" x2="1322.9" y2="1255.5" stroke="#000" stroke-width="3.7"/>
<line x1="1414.3" y1="1247" x2="1414.3" y2="1255.5" stroke="#000" stroke-width="3.7"/>
<text x="1231" y="1282.5" font-size="31" text-anchor="middle">Wake</text>
<text x="1323" y="1282.5" font-size="31" text-anchor="middle">NREM</text>
<text x="1413.5" y="1282.5" font-size="31" text-anchor="middle">REM</text>
<line x1="1207.3" y1="1000.4" x2="1246.7" y2="1000.4" stroke="#000" stroke-width="3.5"/>
<text x="1227" y="1009.72" font-size="46" text-anchor="middle" letter-spacing="1.5">**</text>
<line x1="1300" y1="1000.4" x2="1339.8" y2="1000.4" stroke="#000" stroke-width="3.5"/>
<text x="1319.9" y="1009.72" font-size="46" text-anchor="middle" letter-spacing="1.5">**</text>
<text transform="translate(1104,1117.5) rotate(-90)" x="0" y="0" font-size="31" text-anchor="middle">Number of episode</text>
<text x="1482.3" y="938.3" font-size="46" fill="#231815" font-weight="bold">j</text>
<polyline points="1629.2,1247.2 1629.2,1156.5 1655.7,1156.5 1655.7,1247.2" fill="none" stroke="#000" stroke-width="3.2"/>
<polyline points="1668.4,1247.2 1668.4,1160.3 1694.3,1160.3 1694.3,1247.2" fill="none" stroke="#008000" stroke-width="3.2"/>
<polyline points="1721.6,1247.2 1721.6,1114.6 1747.7,1114.6 1747.7,1247.2" fill="none" stroke="#000" stroke-width="3.2"/>
<polyline points="1760.4,1247.2 1760.4,1155 1786.3,1155 1786.3,1247.2" fill="none" stroke="#008000" stroke-width="3.2"/>
<polyline points="1813.8,1247.2 1813.8,1153.5 1839.7,1153.5 1839.7,1247.2" fill="none" stroke="#000" stroke-width="3.2"/>
<polyline points="1852.4,1247.2 1852.4,1154.2 1878.2,1154.2 1878.2,1247.2" fill="none" stroke="#008000" stroke-width="3.2"/>
<circle cx="1643" cy="1101.2" r="6.8" fill="#000"/>
<circle cx="1643" cy="1145.1" r="6.8" fill="#000"/>
<circle cx="1636.2" cy="1148.8" r="6.8" fill="#000"/>
<circle cx="1649.8" cy="1145.8" r="6.8" fill="#000"/>
<circle cx="1643" cy="1158.7" r="6.8" fill="#000"/>
<circle cx="1636.2" cy="1176" r="6.8" fill="#000"/>
<circle cx="1649.8" cy="1179.1" r="6.8" fill="#000"/>
<circle cx="1643" cy="1185.1" r="6.8" fill="#000"/>
<circle cx="1639" cy="1155" r="6.8" fill="#000"/>
<circle cx="1647" cy="1158" r="6.8" fill="#000"/>
<rect x="1675" y="1098.8" width="14" height="14" fill="#008000"/>
<rect x="1668.4" y="1132.8" width="14" height="14" fill="#008000"/>
<rect x="1682" y="1145.6" width="14" height="14" fill="#008000"/>
<rect x="1668.4" y="1157.7" width="14" height="14" fill="#008000"/>
<rect x="1682" y="1159.2" width="14" height="14" fill="#008000"/>
<rect x="1677.5" y="1174.3" width="14" height="14" fill="#008000"/>
<rect x="1668.4" y="1187.9" width="14" height="14" fill="#008000"/>
<rect x="1682" y="1180.4" width="14" height="14" fill="#008000"/>
<rect x="1673" y="1166" width="14" height="14" fill="#008000"/>
<rect x="1679" y="1152" width="14" height="14" fill="#008000"/>
<circle cx="1735.1" cy="1015.1" r="6.8" fill="#000"/>
<circle cx="1741.9" cy="1092.9" r="6.8" fill="#000"/>
<circle cx="1727.6" cy="1101.2" r="6.8" fill="#000"/>
<circle cx="1741.2" cy="1119.4" r="6.8" fill="#000"/>
<circle cx="1729.8" cy="1125.4" r="6.8" fill="#000"/>
<circle cx="1737.4" cy="1129.2" r="6.8" fill="#000"/>
<circle cx="1734.4" cy="1133" r="6.8" fill="#000"/>
<circle cx="1741.9" cy="1145.1" r="6.8" fill="#000"/>
<circle cx="1727.6" cy="1151.1" r="6.8" fill="#000"/>
<circle cx="1733" cy="1127" r="6.8" fill="#000"/>
<rect x="1766.7" y="1082.9" width="14" height="14" fill="#008000"/>
<rect x="1759.9" y="1137.3" width="14" height="14" fill="#008000"/>
<rect x="1774.2" y="1137.3" width="14" height="14" fill="#008000"/>
<rect x="1759.9" y="1151.7" width="14" height="14" fill="#008000"/>
<rect x="1774.2" y="1153" width="14" height="14" fill="#008000"/>
<rect x="1766.7" y="1159" width="14" height="14" fill="#008000"/>
<rect x="1759.9" y="1168" width="14" height="14" fill="#008000"/>
<rect x="1774.2" y="1169" width="14" height="14" fill="#008000"/>
<rect x="1766.7" y="1185.6" width="14" height="14" fill="#008000"/>
<rect x="1759" y="1162" width="14" height="14" fill="#008000"/>
<circle cx="1826.5" cy="1126.2" r="6.8" fill="#000"/>
<circle cx="1819" cy="1139" r="6.8" fill="#000"/>
<circle cx="1834.9" cy="1145.8" r="6.8" fill="#000"/>
<circle cx="1823.5" cy="1151.1" r="6.8" fill="#000"/>
<circle cx="1819" cy="1155.6" r="6.8" fill="#000"/>
<circle cx="1829" cy="1158" r="6.8" fill="#000"/>
<circle cx="1826.5" cy="1166.2" r="6.8" fill="#000"/>
<circle cx="1832" cy="1163" r="6.8" fill="#000"/>
<circle cx="1823.5" cy="1167.7" r="6.8" fill="#000"/>
<rect x="1851.6" y="1119.9" width="14" height="14" fill="#008000"/>
<rect x="1866.4" y="1126" width="14" height="14" fill="#008000"/>
<rect x="1851.6" y="1135" width="14" height="14" fill="#008000"/>
<rect x="1866.4" y="1135" width="14" height="14" fill="#008000"/>
<rect x="1851.6" y="1150.1" width="14" height="14" fill="#008000"/>
<rect x="1866.4" y="1150.1" width="14" height="14" fill="#008000"/>
<rect x="1858.8" y="1165.3" width="14" height="14" fill="#008000"/>
<rect x="1858.8" y="1203" width="14" height="14" fill="#008000"/>
<rect x="1855" y="1144" width="14" height="14" fill="#008000"/>
<rect x="1864" y="1144" width="14" height="14" fill="#008000"/>
<line x1="1642.45" y1="1148" x2="1642.45" y2="1162" stroke="#000" stroke-width="3.2"/>
<line x1="1633.95" y1="1148" x2="1650.95" y2="1148" stroke="#000" stroke-width="3.2"/>
<line x1="1633.95" y1="1162" x2="1650.95" y2="1162" stroke="#000" stroke-width="3.2"/>
<line x1="1681.35" y1="1152" x2="1681.35" y2="1166" stroke="#008000" stroke-width="3.2"/>
<line x1="1672.85" y1="1152" x2="1689.85" y2="1152" stroke="#008000" stroke-width="3.2"/>
<line x1="1672.85" y1="1166" x2="1689.85" y2="1166" stroke="#008000" stroke-width="3.2"/>
<line x1="1734.65" y1="1102" x2="1734.65" y2="1124" stroke="#000" stroke-width="3.2"/>
<line x1="1726.15" y1="1102" x2="1743.15" y2="1102" stroke="#000" stroke-width="3.2"/>
<line x1="1726.15" y1="1124" x2="1743.15" y2="1124" stroke="#000" stroke-width="3.2"/>
<line x1="1773.35" y1="1147" x2="1773.35" y2="1160" stroke="#008000" stroke-width="3.2"/>
<line x1="1764.85" y1="1147" x2="1781.85" y2="1147" stroke="#008000" stroke-width="3.2"/>
<line x1="1764.85" y1="1160" x2="1781.85" y2="1160" stroke="#008000" stroke-width="3.2"/>
<line x1="1826.75" y1="1146" x2="1826.75" y2="1158" stroke="#000" stroke-width="3.2"/>
<line x1="1818.25" y1="1146" x2="1835.25" y2="1146" stroke="#000" stroke-width="3.2"/>
<line x1="1818.25" y1="1158" x2="1835.25" y2="1158" stroke="#000" stroke-width="3.2"/>
<line x1="1865.3" y1="1146" x2="1865.3" y2="1159" stroke="#008000" stroke-width="3.2"/>
<line x1="1856.8" y1="1146" x2="1873.8" y2="1146" stroke="#008000" stroke-width="3.2"/>
<line x1="1856.8" y1="1159" x2="1873.8" y2="1159" stroke="#008000" stroke-width="3.2"/>
<line x1="1614.5" y1="984.85" x2="1614.5" y2="1251.2" stroke="#000" stroke-width="3.7"/>
<line x1="1605.5" y1="1247.2" x2="1614.5" y2="1247.2" stroke="#000" stroke-width="3.7"/>
<text x="1591.9" y="1257" font-size="31.5" text-anchor="end">0</text>
<line x1="1605.5" y1="1182" x2="1614.5" y2="1182" stroke="#000" stroke-width="3.7"/>
<text x="1605.6" y="1191.8" font-size="31.5" text-anchor="end">50</text>
<line x1="1605.5" y1="1116.8" x2="1614.5" y2="1116.8" stroke="#000" stroke-width="3.7"/>
<text x="1605.6" y="1126.6" font-size="31.5" text-anchor="end">100</text>
<line x1="1605.5" y1="1051.6" x2="1614.5" y2="1051.6" stroke="#000" stroke-width="3.7"/>
<text x="1605.6" y="1061.4" font-size="31.5" text-anchor="end">150</text>
<line x1="1605.5" y1="986.4" x2="1614.5" y2="986.4" stroke="#000" stroke-width="3.7"/>
<text x="1605.6" y="996.2" font-size="31.5" text-anchor="end">200</text>
<line x1="1605.4" y1="1247.2" x2="1882.8" y2="1247.2" stroke="#000" stroke-width="3.7"/>
<line x1="1661.8" y1="1247.2" x2="1661.8" y2="1255.7" stroke="#000" stroke-width="3.7"/>
<line x1="1753.7" y1="1247.2" x2="1753.7" y2="1255.7" stroke="#000" stroke-width="3.7"/>
<line x1="1845.7" y1="1247.2" x2="1845.7" y2="1255.7" stroke="#000" stroke-width="3.7"/>
<text x="1666" y="1281.4" font-size="31" text-anchor="middle">Wake</text>
<text x="1758" y="1281.4" font-size="31" text-anchor="middle">NREM</text>
<text x="1848" y="1281.4" font-size="31" text-anchor="middle">REM</text>
<line x1="1736" y1="997" x2="1775" y2="997" stroke="#000" stroke-width="3.5"/>
<text x="1755.5" y="1006.92" font-size="46" text-anchor="middle" letter-spacing="1.5">****</text>
<text transform="translate(1533,1116) rotate(-90)" x="0" y="0" font-size="31" text-anchor="middle">Episode duration (s)</text>
<rect x="1771.5" y="900" width="14.2" height="14.3" fill="#008000"/>
<text x="1798.2" y="913.4" font-size="31">CNO (<tspan font-style="italic">n</tspan> = 10)</text>
<circle cx="1778.4" cy="940.7" r="6.8" fill="#000"/>
<text x="1798.2" y="950.5" font-size="31">Saline (<tspan font-style="italic">n</tspan> = 10)</text>
<text x="-0.1" y="1887.9" font-size="46" fill="#231815" font-weight="bold">o</text>
<rect x="117" y="1935.9" width="121" height="259.9" fill="#d3d3d3"/>
<polyline points="126.5,2195.8 126.5,1986.2 165.4,1986.2 165.4,2195.8" fill="none" stroke="#000" stroke-width="3.2"/>
<polyline points="181.6,2195.8 181.6,2029.5 220.8,2029.5 220.8,2195.8" fill="none" stroke="#ff0000" stroke-width="3.2"/>
<polyline points="257.4,2195.8 257.4,2065.9 295.9,2065.9 295.9,2195.8" fill="none" stroke="#000" stroke-width="3.2"/>
<polyline points="312.3,2195.8 312.3,2054 351.3,2054 351.3,2195.8" fill="none" stroke="#ff0000" stroke-width="3.2"/>
<circle cx="138.4" cy="1959.9" r="7" fill="#000"/>
<circle cx="154.1" cy="1959" r="7" fill="#000"/>
<circle cx="159" cy="1978.5" r="7" fill="#000"/>
<circle cx="132.9" cy="1982.6" r="7" fill="#000"/>
<circle cx="142.5" cy="1981.2" r="7" fill="#000"/>
<circle cx="150.7" cy="1984" r="7" fill="#000"/>
<circle cx="145.9" cy="1993.6" r="7" fill="#000"/>
<circle cx="145.9" cy="2044.4" r="7" fill="#000"/>
<rect x="194.8" y="1960.5" width="14" height="14" fill="#ff0000"/>
<rect x="194.8" y="2009.9" width="14" height="14" fill="#ff0000"/>
<rect x="187" y="2016.8" width="14" height="14" fill="#ff0000"/>
<rect x="202.8" y="2020.9" width="14" height="14" fill="#ff0000"/>
<rect x="190.4" y="2025" width="14" height="14" fill="#ff0000"/>
<rect x="200" y="2031.9" width="14" height="14" fill="#ff0000"/>
<rect x="202.8" y="2051.8" width="14" height="14" fill="#ff0000"/>
<rect x="187" y="2062.1" width="14" height="14" fill="#ff0000"/>
<circle cx="276.4" cy="2030.7" r="7" fill="#000"/>
<circle cx="263.4" cy="2056.1" r="7" fill="#000"/>
<circle cx="276.4" cy="2057.4" r="7" fill="#000"/>
<circle cx="289.5" cy="2056.8" r="7" fill="#000"/>
<circle cx="268" cy="2062" r="7" fill="#000"/>
<circle cx="292.2" cy="2074.6" r="7" fill="#000"/>
<circle cx="284" cy="2087" r="7" fill="#000"/>
<circle cx="268.8" cy="2097.3" r="7" fill="#000"/>
<rect x="325" y="1996.2" width="14" height="14" fill="#ff0000"/>
<rect x="325" y="2026.4" width="14" height="14" fill="#ff0000"/>
<rect x="309.9" y="2051.1" width="14" height="14" fill="#ff0000"/>
<rect x="338.8" y="2049.1" width="14" height="14" fill="#ff0000"/>
<rect x="318" y="2053" width="14" height="14" fill="#ff0000"/>
<rect x="331" y="2052" width="14" height="14" fill="#ff0000"/>
<rect x="325" y="2062.1" width="14" height="14" fill="#ff0000"/>
<rect x="325" y="2078.6" width="14" height="14" fill="#ff0000"/>
<line x1="145.95" y1="1978" x2="145.95" y2="1995.6" stroke="#000" stroke-width="3.2"/>
<line x1="133.95" y1="1978" x2="157.95" y2="1978" stroke="#000" stroke-width="3.2"/>
<line x1="133.95" y1="1995.6" x2="157.95" y2="1995.6" stroke="#000" stroke-width="3.2"/>
<line x1="201.2" y1="2019" x2="201.2" y2="2038.9" stroke="#ff0000" stroke-width="3.2"/>
<line x1="189.2" y1="2019" x2="213.2" y2="2019" stroke="#ff0000" stroke-width="3.2"/>
<line x1="189.2" y1="2038.9" x2="213.2" y2="2038.9" stroke="#ff0000" stroke-width="3.2"/>
<line x1="276.65" y1="2056" x2="276.65" y2="2072.6" stroke="#000" stroke-width="3.2"/>
<line x1="264.65" y1="2056" x2="288.65" y2="2056" stroke="#000" stroke-width="3.2"/>
<line x1="264.65" y1="2072.6" x2="288.65" y2="2072.6" stroke="#000" stroke-width="3.2"/>
<line x1="331.8" y1="2044.7" x2="331.8" y2="2060" stroke="#ff0000" stroke-width="3.2"/>
<line x1="319.8" y1="2044.7" x2="343.8" y2="2044.7" stroke="#ff0000" stroke-width="3.2"/>
<line x1="319.8" y1="2060" x2="343.8" y2="2060" stroke="#ff0000" stroke-width="3.2"/>
<line x1="115.5" y1="1934.35" x2="115.5" y2="2199.8" stroke="#000" stroke-width="3.7"/>
<line x1="106.5" y1="2195.8" x2="115.5" y2="2195.8" stroke="#000" stroke-width="3.7"/>
<text x="89.3" y="2205.6" font-size="31.5" text-anchor="end">0</text>
<line x1="106.5" y1="2109.17" x2="115.5" y2="2109.17" stroke="#000" stroke-width="3.7"/>
<text x="102.2" y="2118.97" font-size="31.5" text-anchor="end">200</text>
<line x1="106.5" y1="2022.53" x2="115.5" y2="2022.53" stroke="#000" stroke-width="3.7"/>
<text x="102.2" y="2032.33" font-size="31.5" text-anchor="end">400</text>
<line x1="106.5" y1="1935.9" x2="115.5" y2="1935.9" stroke="#000" stroke-width="3.7"/>
<text x="102.2" y="1945.7" font-size="31.5" text-anchor="end">600</text>
<line x1="106.5" y1="2195.8" x2="360.2" y2="2195.8" stroke="#000" stroke-width="3.7"/>
<line x1="174.3" y1="2195.8" x2="174.3" y2="2204.3" stroke="#000" stroke-width="3.7"/>
<line x1="304.4" y1="2195.8" x2="304.4" y2="2204.3" stroke="#000" stroke-width="3.7"/>
<text x="179" y="2230.3" font-size="31" text-anchor="middle">Dark</text>
<text x="309.5" y="2230.3" font-size="31" text-anchor="middle">Light</text>
<line x1="143" y1="1934.8" x2="203.6" y2="1934.8" stroke="#000" stroke-width="3.5"/>
<text x="173.3" y="1943.12" font-size="46" text-anchor="middle" letter-spacing="1.5">**</text>
<text x="244.7" y="1899" font-size="31" text-anchor="middle">Wake</text>
<text transform="translate(33.8,2067.4) rotate(-90)" x="0" y="0" font-size="31" text-anchor="middle">Time  (min)</text>
<text x="365.2" y="1889.7" font-size="46" fill="#231815" font-weight="bold">p</text>
<rect x="458" y="1935.9" width="120.2" height="259.9" fill="#d3d3d3"/>
<polyline points="468.1,2195.8 468.1,2083.2 508.4,2083.2 508.4,2195.8" fill="none" stroke="#000" stroke-width="3.2"/>
<polyline points="524,2195.8 524,2038.8 564.1,2038.8 564.1,2195.8" fill="none" stroke="#ff0000" stroke-width="3.2"/>
<polyline points="599.2,2195.8 599.2,1999.4 638.8,1999.4 638.8,2195.8" fill="none" stroke="#000" stroke-width="3.2"/>
<polyline points="654.6,2195.8 654.6,2016.8 694.4,2016.8 694.4,2195.8" fill="none" stroke="#ff0000" stroke-width="3.2"/>
<circle cx="488.7" cy="2014.6" r="7" fill="#000"/>
<circle cx="501.7" cy="2076.4" r="7" fill="#000"/>
<circle cx="475.6" cy="2083.9" r="7" fill="#000"/>
<circle cx="482.5" cy="2087.4" r="7" fill="#000"/>
<circle cx="494.8" cy="2087.4" r="7" fill="#000"/>
<circle cx="488.7" cy="2090.1" r="7" fill="#000"/>
<circle cx="480.4" cy="2114.8" r="7" fill="#000"/>
<circle cx="496.2" cy="2109.3" r="7" fill="#000"/>
<rect x="537.3" y="1982.8" width="14" height="14" fill="#ff0000"/>
<rect x="537.3" y="2000" width="14" height="14" fill="#ff0000"/>
<rect x="524.2" y="2022" width="14" height="14" fill="#ff0000"/>
<rect x="541.4" y="2024" width="14" height="14" fill="#ff0000"/>
<rect x="551" y="2026.8" width="14" height="14" fill="#ff0000"/>
<rect x="534.5" y="2028.2" width="14" height="14" fill="#ff0000"/>
<rect x="530.4" y="2042.6" width="14" height="14" fill="#ff0000"/>
<rect x="544.8" y="2050.8" width="14" height="14" fill="#ff0000"/>
<rect x="537.3" y="2098.2" width="14" height="14" fill="#ff0000"/>
<circle cx="619.1" cy="1962.4" r="7" fill="#000"/>
<circle cx="626.7" cy="1974.7" r="7" fill="#000"/>
<circle cx="603.4" cy="1987.8" r="7" fill="#000"/>
<circle cx="611.6" cy="2000.8" r="7" fill="#000"/>
<circle cx="626" cy="2006.3" r="7" fill="#000"/>
<circle cx="613" cy="2009.1" r="7" fill="#000"/>
<circle cx="624" cy="2011.1" r="7" fill="#000"/>
<circle cx="619.1" cy="2037.9" r="7" fill="#000"/>
<rect x="659.5" y="1976" width="14" height="14" fill="#ff0000"/>
<rect x="682.9" y="1985.6" width="14" height="14" fill="#ff0000"/>
<rect x="675.3" y="1997.9" width="14" height="14" fill="#ff0000"/>
<rect x="659.5" y="2002.1" width="14" height="14" fill="#ff0000"/>
<rect x="670.5" y="2006.2" width="14" height="14" fill="#ff0000"/>
<rect x="667.8" y="2035" width="14" height="14" fill="#ff0000"/>
<rect x="667.8" y="2065.3" width="14" height="14" fill="#ff0000"/>
<rect x="664" y="2008" width="14" height="14" fill="#ff0000"/>
<line x1="488.25" y1="2071.6" x2="488.25" y2="2093.5" stroke="#000" stroke-width="3.2"/>
<line x1="476.25" y1="2071.6" x2="500.25" y2="2071.6" stroke="#000" stroke-width="3.2"/>
<line x1="476.25" y1="2093.5" x2="500.25" y2="2093.5" stroke="#000" stroke-width="3.2"/>
<line x1="544.05" y1="2028" x2="544.05" y2="2046" stroke="#ff0000" stroke-width="3.2"/>
<line x1="532.05" y1="2028" x2="556.05" y2="2028" stroke="#ff0000" stroke-width="3.2"/>
<line x1="532.05" y1="2046" x2="556.05" y2="2046" stroke="#ff0000" stroke-width="3.2"/>
<line x1="619" y1="1990.5" x2="619" y2="2006" stroke="#000" stroke-width="3.2"/>
<line x1="607" y1="1990.5" x2="631" y2="1990.5" stroke="#000" stroke-width="3.2"/>
<line x1="607" y1="2006" x2="631" y2="2006" stroke="#000" stroke-width="3.2"/>
<line x1="674.5" y1="2006" x2="674.5" y2="2026.2" stroke="#ff0000" stroke-width="3.2"/>
<line x1="662.5" y1="2006" x2="686.5" y2="2006" stroke="#ff0000" stroke-width="3.2"/>
<line x1="662.5" y1="2026.2" x2="686.5" y2="2026.2" stroke="#ff0000" stroke-width="3.2"/>
<line x1="458.3" y1="1934.35" x2="458.3" y2="2199.8" stroke="#000" stroke-width="3.7"/>
<line x1="449.3" y1="2195.8" x2="458.3" y2="2195.8" stroke="#000" stroke-width="3.7"/>
<text x="432.6" y="2205.6" font-size="31.5" text-anchor="end">0</text>
<line x1="449.3" y1="2143.82" x2="458.3" y2="2143.82" stroke="#000" stroke-width="3.7"/>
<text x="444.5" y="2153.62" font-size="31.5" text-anchor="end">100</text>
<line x1="449.3" y1="2091.84" x2="458.3" y2="2091.84" stroke="#000" stroke-width="3.7"/>
<text x="444.5" y="2101.64" font-size="31.5" text-anchor="end">200</text>
<line x1="449.3" y1="2039.86" x2="458.3" y2="2039.86" stroke="#000" stroke-width="3.7"/>
<text x="444.5" y="2049.66" font-size="31.5" text-anchor="end">300</text>
<line x1="449.3" y1="1987.88" x2="458.3" y2="1987.88" stroke="#000" stroke-width="3.7"/>
<text x="444.5" y="1997.68" font-size="31.5" text-anchor="end">400</text>
<line x1="449.3" y1="1935.9" x2="458.3" y2="1935.9" stroke="#000" stroke-width="3.7"/>
<text x="444.5" y="1945.7" font-size="31.5" text-anchor="end">500</text>
<line x1="448.7" y1="2195.8" x2="702.4" y2="2195.8" stroke="#000" stroke-width="3.7"/>
<line x1="516.6" y1="2195.8" x2="516.6" y2="2204.3" stroke="#000" stroke-width="3.7"/>
<line x1="647.1" y1="2195.8" x2="647.1" y2="2204.3" stroke="#000" stroke-width="3.7"/>
<text x="520.7" y="2230.3" font-size="31" text-anchor="middle">Dark</text>
<text x="650.7" y="2230.3" font-size="31" text-anchor="middle">Light</text>
<line x1="487.4" y1="1958.8" x2="547.5" y2="1958.8" stroke="#000" stroke-width="3.5"/>
<text x="517.45" y="1968.62" font-size="46" text-anchor="middle" letter-spacing="1.5">**</text>
<text x="583" y="1899" font-size="31" text-anchor="middle">NREM</text>
<text x="703.9" y="1889.7" font-size="46" fill="#231815" font-weight="bold">q</text>
<rect x="784" y="1935.9" width="120.6" height="259.9" fill="#d3d3d3"/>
<polyline points="793.9,2195.8 793.9,2142.7 833.4,2142.7 833.4,2195.8" fill="none" stroke="#000" stroke-width="3.2"/>
<polyline points="849.6,2195.8 849.6,2095.3 889.3,2095.3 889.3,2195.8" fill="none" stroke="#ff0000" stroke-width="3.2"/>
<polyline points="924,2195.8 924,2073.3 963.6,2073.3 963.6,2195.8" fill="none" stroke="#000" stroke-width="3.2"/>
<polyline points="979.6,2195.8 979.6,2051.4 1019.4,2051.4 1019.4,2195.8" fill="none" stroke="#ff0000" stroke-width="3.2"/>
<circle cx="797.9" cy="2122.6" r="7" fill="#000"/>
<circle cx="821.2" cy="2122.6" r="7" fill="#000"/>
<circle cx="806.1" cy="2133.5" r="7" fill="#000"/>
<circle cx="813" cy="2139.7" r="7" fill="#000"/>
<circle cx="821.2" cy="2140.4" r="7" fill="#000"/>
<circle cx="808.8" cy="2143.8" r="7" fill="#000"/>
<circle cx="821.2" cy="2158.3" r="7" fill="#000"/>
<circle cx="805.4" cy="2172.7" r="7" fill="#000"/>
<rect x="849.2" y="2054.4" width="14" height="14" fill="#ff0000"/>
<rect x="875.3" y="2062" width="14" height="14" fill="#ff0000"/>
<rect x="862.3" y="2063.4" width="14" height="14" fill="#ff0000"/>
<rect x="862.3" y="2079.2" width="14" height="14" fill="#ff0000"/>
<rect x="869.2" y="2093.6" width="14" height="14" fill="#ff0000"/>
<rect x="854.7" y="2101.1" width="14" height="14" fill="#ff0000"/>
<rect x="862.3" y="2117.6" width="14" height="14" fill="#ff0000"/>
<rect x="862.3" y="2134.8" width="14" height="14" fill="#ff0000"/>
<circle cx="931.1" cy="2058" r="7" fill="#000"/>
<circle cx="957.2" cy="2055.9" r="7" fill="#000"/>
<circle cx="944.1" cy="2062.8" r="7" fill="#000"/>
<circle cx="931.1" cy="2072.4" r="7" fill="#000"/>
<circle cx="957.2" cy="2074.5" r="7" fill="#000"/>
<circle cx="938" cy="2084.8" r="7" fill="#000"/>
<circle cx="950.3" cy="2086.2" r="7" fill="#000"/>
<circle cx="944.1" cy="2088.2" r="7" fill="#000"/>
<rect x="992.8" y="1998.8" width="14" height="14" fill="#ff0000"/>
<rect x="992.8" y="2015.3" width="14" height="14" fill="#ff0000"/>
<rect x="1000.3" y="2017.3" width="14" height="14" fill="#ff0000"/>
<rect x="984.5" y="2032.5" width="14" height="14" fill="#ff0000"/>
<rect x="992.8" y="2060.6" width="14" height="14" fill="#ff0000"/>
<rect x="980.4" y="2070.9" width="14" height="14" fill="#ff0000"/>
<rect x="1006.5" y="2074.3" width="14" height="14" fill="#ff0000"/>
<rect x="992.8" y="2080.5" width="14" height="14" fill="#ff0000"/>
<line x1="813.65" y1="2134" x2="813.65" y2="2148" stroke="#000" stroke-width="3.2"/>
<line x1="801.65" y1="2134" x2="825.65" y2="2134" stroke="#000" stroke-width="3.2"/>
<line x1="801.65" y1="2148" x2="825.65" y2="2148" stroke="#000" stroke-width="3.2"/>
<line x1="869.45" y1="2084.8" x2="869.45" y2="2102" stroke="#ff0000" stroke-width="3.2"/>
<line x1="857.45" y1="2084.8" x2="881.45" y2="2084.8" stroke="#ff0000" stroke-width="3.2"/>
<line x1="857.45" y1="2102" x2="881.45" y2="2102" stroke="#ff0000" stroke-width="3.2"/>
<line x1="943.8" y1="2068" x2="943.8" y2="2076" stroke="#000" stroke-width="3.2"/>
<line x1="931.8" y1="2068" x2="955.8" y2="2068" stroke="#000" stroke-width="3.2"/>
<line x1="931.8" y1="2076" x2="955.8" y2="2076" stroke="#000" stroke-width="3.2"/>
<line x1="999.5" y1="2039.5" x2="999.5" y2="2062.1" stroke="#ff0000" stroke-width="3.2"/>
<line x1="987.5" y1="2039.5" x2="1011.5" y2="2039.5" stroke="#ff0000" stroke-width="3.2"/>
<line x1="987.5" y1="2062.1" x2="1011.5" y2="2062.1" stroke="#ff0000" stroke-width="3.2"/>
<line x1="782.9" y1="1934.35" x2="782.9" y2="2199.8" stroke="#000" stroke-width="3.7"/>
<line x1="773.9" y1="2195.8" x2="782.9" y2="2195.8" stroke="#000" stroke-width="3.7"/>
<text x="756.8" y="2205.6" font-size="31.5" text-anchor="end">0</text>
<line x1="773.9" y1="2130.83" x2="782.9" y2="2130.83" stroke="#000" stroke-width="3.7"/>
<text x="769.7" y="2140.63" font-size="31.5" text-anchor="end">20</text>
<line x1="773.9" y1="2065.85" x2="782.9" y2="2065.85" stroke="#000" stroke-width="3.7"/>
<text x="769.7" y="2075.65" font-size="31.5" text-anchor="end">40</text>
<line x1="773.9" y1="2000.88" x2="782.9" y2="2000.88" stroke="#000" stroke-width="3.7"/>
<text x="769.7" y="2010.67" font-size="31.5" text-anchor="end">60</text>
<line x1="773.9" y1="1935.9" x2="782.9" y2="1935.9" stroke="#000" stroke-width="3.7"/>
<text x="769.7" y="1945.7" font-size="31.5" text-anchor="end">80</text>
<line x1="773.5" y1="2195.8" x2="1027.2" y2="2195.8" stroke="#000" stroke-width="3.7"/>
<line x1="843.5" y1="2195.8" x2="843.5" y2="2204.3" stroke="#000" stroke-width="3.7"/>
<line x1="972.9" y1="2195.8" x2="972.9" y2="2204.3" stroke="#000" stroke-width="3.7"/>
<text x="848" y="2230.3" font-size="31" text-anchor="middle">Dark</text>
<text x="978.6" y="2230.3" font-size="31" text-anchor="middle">Light</text>
<line x1="812" y1="2026.3" x2="871.6" y2="2026.3" stroke="#000" stroke-width="3.5"/>
<text x="841.8" y="2034.42" font-size="46" text-anchor="middle" letter-spacing="1.5">**</text>
<text x="908.2" y="1899" font-size="31" text-anchor="middle">REM</text>
<text x="1054.9" y="1887.7" font-size="46" fill="#231815" font-weight="bold">r</text>
<polyline points="1197.1,2195.2 1197.1,2068 1223.4,2068 1223.4,2195.2" fill="none" stroke="#000" stroke-width="3.2"/>
<polyline points="1236.9,2195.2 1236.9,1981.9 1262.8,1981.9 1262.8,2195.2" fill="none" stroke="#ff0000" stroke-width="3.2"/>
<polyline points="1288.9,2195.2 1288.9,2068 1315.2,2068 1315.2,2195.2" fill="none" stroke="#000" stroke-width="3.2"/>
<polyline points="1328.1,2195.2 1328.1,1981.9 1353.9,1981.9 1353.9,2195.2" fill="none" stroke="#ff0000" stroke-width="3.2"/>
<polyline points="1380.1,2195.2 1380.1,2183.6 1405.9,2183.6 1405.9,2195.2" fill="none" stroke="#000" stroke-width="3.2"/>
<polyline points="1418.6,2195.2 1418.6,2171.6 1445.8,2171.6 1445.8,2195.2" fill="none" stroke="#ff0000" stroke-width="3.2"/>
<circle cx="1210.4" cy="1982.9" r="6.8" fill="#000"/>
<circle cx="1217.5" cy="2036.5" r="6.8" fill="#000"/>
<circle cx="1203.1" cy="2050.1" r="6.8" fill="#000"/>
<circle cx="1203.1" cy="2078.8" r="6.8" fill="#000"/>
<circle cx="1217.5" cy="2079.6" r="6.8" fill="#000"/>
<circle cx="1203.9" cy="2101.5" r="6.8" fill="#000"/>
<circle cx="1216.7" cy="2103" r="6.8" fill="#000"/>
<circle cx="1210.4" cy="2107.5" r="6.8" fill="#000"/>
<rect x="1235.4" y="1947.9" width="14" height="14" fill="#ff0000"/>
<rect x="1250.5" y="1943.4" width="14" height="14" fill="#ff0000"/>
<rect x="1244.5" y="1952.5" width="14" height="14" fill="#ff0000"/>
<rect x="1240" y="1986.5" width="14" height="14" fill="#ff0000"/>
<rect x="1250.5" y="1988" width="14" height="14" fill="#ff0000"/>
<rect x="1235" y="1988" width="14" height="14" fill="#ff0000"/>
<rect x="1242.2" y="1996.3" width="14" height="14" fill="#ff0000"/>
<rect x="1242.2" y="2028.8" width="14" height="14" fill="#ff0000"/>
<circle cx="1301.4" cy="1982.1" r="6.8" fill="#000"/>
<circle cx="1308.9" cy="2034.3" r="6.8" fill="#000"/>
<circle cx="1294.5" cy="2049.4" r="6.8" fill="#000"/>
<circle cx="1294.5" cy="2078.8" r="6.8" fill="#000"/>
<circle cx="1308.9" cy="2079.6" r="6.8" fill="#000"/>
<circle cx="1295.3" cy="2101.5" r="6.8" fill="#000"/>
<circle cx="1308.2" cy="2103" r="6.8" fill="#000"/>
<circle cx="1301.4" cy="2107.5" r="6.8" fill="#000"/>
<rect x="1326.8" y="1947.9" width="14" height="14" fill="#ff0000"/>
<rect x="1342" y="1941" width="14" height="14" fill="#ff0000"/>
<rect x="1336" y="1951.7" width="14" height="14" fill="#ff0000"/>
<rect x="1330.6" y="1986.5" width="14" height="14" fill="#ff0000"/>
<rect x="1342" y="1988" width="14" height="14" fill="#ff0000"/>
<rect x="1326.8" y="1988" width="14" height="14" fill="#ff0000"/>
<rect x="1334" y="1996.3" width="14" height="14" fill="#ff0000"/>
<rect x="1334" y="2028.8" width="14" height="14" fill="#ff0000"/>
<circle cx="1385.2" cy="2185.4" r="6.8" fill="#000"/>
<circle cx="1401.1" cy="2177.8" r="6.8" fill="#000"/>
<circle cx="1381.5" cy="2189.9" r="6.8" fill="#000"/>
<circle cx="1402.6" cy="2186.8" r="6.8" fill="#000"/>
<circle cx="1393.5" cy="2191.3" r="6.8" fill="#000"/>
<circle cx="1399.6" cy="2189.9" r="6.8" fill="#000"/>
<rect x="1418.3" y="2156.5" width="14" height="14" fill="#ff0000"/>
<rect x="1439.4" y="2158" width="14" height="14" fill="#ff0000"/>
<rect x="1427.3" y="2164.8" width="14" height="14" fill="#ff0000"/>
<rect x="1415.2" y="2169.3" width="14" height="14" fill="#ff0000"/>
<rect x="1433.3" y="2167.8" width="14" height="14" fill="#ff0000"/>
<rect x="1421.3" y="2176.9" width="14" height="14" fill="#ff0000"/>
<rect x="1434.8" y="2173.8" width="14" height="14" fill="#ff0000"/>
<rect x="1425.8" y="2173.8" width="14" height="14" fill="#ff0000"/>
<line x1="1210.25" y1="2052.4" x2="1210.25" y2="2080" stroke="#000" stroke-width="3.2"/>
<line x1="1201.75" y1="2052.4" x2="1218.75" y2="2052.4" stroke="#000" stroke-width="3.2"/>
<line x1="1201.75" y1="2080" x2="1218.75" y2="2080" stroke="#000" stroke-width="3.2"/>
<line x1="1249.85" y1="1971.1" x2="1249.85" y2="1990" stroke="#ff0000" stroke-width="3.2"/>
<line x1="1241.35" y1="1971.1" x2="1258.35" y2="1971.1" stroke="#ff0000" stroke-width="3.2"/>
<line x1="1241.35" y1="1990" x2="1258.35" y2="1990" stroke="#ff0000" stroke-width="3.2"/>
<line x1="1302.05" y1="2052.4" x2="1302.05" y2="2080" stroke="#000" stroke-width="3.2"/>
<line x1="1293.55" y1="2052.4" x2="1310.55" y2="2052.4" stroke="#000" stroke-width="3.2"/>
<line x1="1293.55" y1="2080" x2="1310.55" y2="2080" stroke="#000" stroke-width="3.2"/>
<line x1="1341" y1="1971.1" x2="1341" y2="1990" stroke="#ff0000" stroke-width="3.2"/>
<line x1="1332.5" y1="1971.1" x2="1349.5" y2="1971.1" stroke="#ff0000" stroke-width="3.2"/>
<line x1="1332.5" y1="1990" x2="1349.5" y2="1990" stroke="#ff0000" stroke-width="3.2"/>
<line x1="1182.7" y1="1932.65" x2="1182.7" y2="2199.2" stroke="#000" stroke-width="3.7"/>
<line x1="1173.7" y1="2195.2" x2="1182.7" y2="2195.2" stroke="#000" stroke-width="3.7"/>
<text x="1159.8" y="2205" font-size="31.5" text-anchor="end">0</text>
<line x1="1173.7" y1="2129.95" x2="1182.7" y2="2129.95" stroke="#000" stroke-width="3.7"/>
<text x="1168.9" y="2139.75" font-size="31.5" text-anchor="end">100</text>
<line x1="1173.7" y1="2064.7" x2="1182.7" y2="2064.7" stroke="#000" stroke-width="3.7"/>
<text x="1168.9" y="2074.5" font-size="31.5" text-anchor="end">200</text>
<line x1="1173.7" y1="1999.45" x2="1182.7" y2="1999.45" stroke="#000" stroke-width="3.7"/>
<text x="1168.9" y="2009.25" font-size="31.5" text-anchor="end">300</text>
<line x1="1173.7" y1="1934.2" x2="1182.7" y2="1934.2" stroke="#000" stroke-width="3.7"/>
<text x="1168.9" y="1944" font-size="31.5" text-anchor="end">400</text>
<line x1="1174.2" y1="2195.2" x2="1451" y2="2195.2" stroke="#000" stroke-width="3.7"/>
<line x1="1228.6" y1="2195.2" x2="1228.6" y2="2203.7" stroke="#000" stroke-width="3.7"/>
<line x1="1320.4" y1="2195.2" x2="1320.4" y2="2203.7" stroke="#000" stroke-width="3.7"/>
<line x1="1411.1" y1="2195.2" x2="1411.1" y2="2203.7" stroke="#000" stroke-width="3.7"/>
<text x="1233.4" y="2228.6" font-size="31" text-anchor="middle">Wake</text>
<text x="1326" y="2228.6" font-size="31" text-anchor="middle">NREM</text>
<text x="1416" y="2228.6" font-size="31" text-anchor="middle">REM</text>
<line x1="1210.4" y1="1932.4" x2="1249.8" y2="1932.4" stroke="#000" stroke-width="3.5"/>
<text x="1230.1" y="1940.12" font-size="46" text-anchor="middle" letter-spacing="1.5">***</text>
<line x1="1303" y1="1932.4" x2="1342.2" y2="1932.4" stroke="#000" stroke-width="3.5"/>
<text x="1322.6" y="1940.12" font-size="46" text-anchor="middle" letter-spacing="1.5">***</text>
<line x1="1391.8" y1="2137.2" x2="1430.4" y2="2137.2" stroke="#000" stroke-width="3.5"/>
<text x="1411.1" y="2146.12" font-size="46" text-anchor="middle" letter-spacing="1.5">**</text>
<text transform="translate(1104,2064.8) rotate(-90)" x="0" y="0" font-size="31" text-anchor="middle">Number of episode</text>
<text x="1477.5" y="1887.5" font-size="46" fill="#231815" font-weight="bold">s</text>
<polyline points="1627.8,2197.6 1627.8,2027.7 1654.2,2027.7 1654.2,2197.6" fill="none" stroke="#000" stroke-width="3.2"/>
<polyline points="1666.9,2197.6 1666.9,2123.7 1693.7,2123.7 1693.7,2197.6" fill="none" stroke="#ff0000" stroke-width="3.2"/>
<polyline points="1719.1,2197.6 1719.1,2125.2 1745.6,2125.2 1745.6,2197.6" fill="none" stroke="#000" stroke-width="3.2"/>
<polyline points="1758.3,2197.6 1758.3,2138.8 1784.8,2138.8 1784.8,2197.6" fill="none" stroke="#ff0000" stroke-width="3.2"/>
<polyline points="1810.8,2197.6 1810.8,2131.7 1837.3,2131.7 1837.3,2197.6" fill="none" stroke="#000" stroke-width="3.2"/>
<polyline points="1849.6,2197.6 1849.6,2138.8 1876.7,2138.8 1876.7,2197.6" fill="none" stroke="#ff0000" stroke-width="3.2"/>
<circle cx="1633.9" cy="1956.6" r="6.8" fill="#000"/>
<circle cx="1648.5" cy="1963.7" r="6.8" fill="#000"/>
<circle cx="1641.4" cy="1995.2" r="6.8" fill="#000"/>
<circle cx="1633.9" cy="2028.4" r="6.8" fill="#000"/>
<circle cx="1648.5" cy="2028.4" r="6.8" fill="#000"/>
<circle cx="1641.4" cy="2045.8" r="6.8" fill="#000"/>
<circle cx="1641.4" cy="2071.5" r="6.8" fill="#000"/>
<circle cx="1641.4" cy="2130.4" r="6.8" fill="#000"/>
<rect x="1666.2" y="2100.7" width="14" height="14" fill="#ff0000"/>
<rect x="1681.3" y="2098.5" width="14" height="14" fill="#ff0000"/>
<rect x="1673.7" y="2108.3" width="14" height="14" fill="#ff0000"/>
<rect x="1666.2" y="2124.9" width="14" height="14" fill="#ff0000"/>
<rect x="1681.3" y="2124.9" width="14" height="14" fill="#ff0000"/>
<rect x="1673.7" y="2119" width="14" height="14" fill="#ff0000"/>
<rect x="1673.7" y="2140.8" width="14" height="14" fill="#ff0000"/>
<rect x="1666.2" y="2121" width="14" height="14" fill="#ff0000"/>
<circle cx="1725.3" cy="2101.7" r="6.8" fill="#000"/>
<circle cx="1739.7" cy="2097.1" r="6.8" fill="#000"/>
<circle cx="1725.3" cy="2122.8" r="6.8" fill="#000"/>
<circle cx="1740.4" cy="2123.6" r="6.8" fill="#000"/>
<circle cx="1729.8" cy="2128.9" r="6.8" fill="#000"/>
<circle cx="1737.4" cy="2131.9" r="6.8" fill="#000"/>
<circle cx="1739.7" cy="2144.7" r="6.8" fill="#000"/>
<circle cx="1725.3" cy="2151.5" r="6.8" fill="#000"/>
<rect x="1758.3" y="2108.3" width="14" height="14" fill="#ff0000"/>
<rect x="1771.2" y="2116.6" width="14" height="14" fill="#ff0000"/>
<rect x="1765.1" y="2127.9" width="14" height="14" fill="#ff0000"/>
<rect x="1757.6" y="2134" width="14" height="14" fill="#ff0000"/>
<rect x="1772.7" y="2137" width="14" height="14" fill="#ff0000"/>
<rect x="1765.1" y="2140" width="14" height="14" fill="#ff0000"/>
<rect x="1759" y="2129" width="14" height="14" fill="#ff0000"/>
<rect x="1765.1" y="2161.2" width="14" height="14" fill="#ff0000"/>
<circle cx="1831.1" cy="2103.2" r="6.8" fill="#000"/>
<circle cx="1816.7" cy="2116" r="6.8" fill="#000"/>
<circle cx="1829.6" cy="2130.4" r="6.8" fill="#000"/>
<circle cx="1814.5" cy="2134.9" r="6.8" fill="#000"/>
<circle cx="1823" cy="2134" r="6.8" fill="#000"/>
<circle cx="1829.6" cy="2145.5" r="6.8" fill="#000"/>
<circle cx="1824.3" cy="2151.5" r="6.8" fill="#000"/>
<circle cx="1817" cy="2137" r="6.8" fill="#000"/>
<rect x="1862.6" y="2118.9" width="14" height="14" fill="#ff0000"/>
<rect x="1850.5" y="2121.9" width="14" height="14" fill="#ff0000"/>
<rect x="1862" y="2128" width="14" height="14" fill="#ff0000"/>
<rect x="1849" y="2135.5" width="14" height="14" fill="#ff0000"/>
<rect x="1864.9" y="2135.5" width="14" height="14" fill="#ff0000"/>
<rect x="1856.6" y="2143.8" width="14" height="14" fill="#ff0000"/>
<rect x="1855" y="2131" width="14" height="14" fill="#ff0000"/>
<rect x="1860" y="2126" width="14" height="14" fill="#ff0000"/>
<line x1="1641" y1="2007.2" x2="1641" y2="2048" stroke="#000" stroke-width="3.2"/>
<line x1="1632.5" y1="2007.2" x2="1649.5" y2="2007.2" stroke="#000" stroke-width="3.2"/>
<line x1="1632.5" y1="2048" x2="1649.5" y2="2048" stroke="#000" stroke-width="3.2"/>
<line x1="1680.3" y1="2116" x2="1680.3" y2="2128" stroke="#ff0000" stroke-width="3.2"/>
<line x1="1671.8" y1="2116" x2="1688.8" y2="2116" stroke="#ff0000" stroke-width="3.2"/>
<line x1="1671.8" y1="2128" x2="1688.8" y2="2128" stroke="#ff0000" stroke-width="3.2"/>
<line x1="1732.35" y1="2118" x2="1732.35" y2="2130" stroke="#000" stroke-width="3.2"/>
<line x1="1723.85" y1="2118" x2="1740.85" y2="2118" stroke="#000" stroke-width="3.2"/>
<line x1="1723.85" y1="2130" x2="1740.85" y2="2130" stroke="#000" stroke-width="3.2"/>
<line x1="1771.55" y1="2131" x2="1771.55" y2="2143" stroke="#ff0000" stroke-width="3.2"/>
<line x1="1763.05" y1="2131" x2="1780.05" y2="2131" stroke="#ff0000" stroke-width="3.2"/>
<line x1="1763.05" y1="2143" x2="1780.05" y2="2143" stroke="#ff0000" stroke-width="3.2"/>
<line x1="1824.05" y1="2125" x2="1824.05" y2="2136" stroke="#000" stroke-width="3.2"/>
<line x1="1815.55" y1="2125" x2="1832.55" y2="2125" stroke="#000" stroke-width="3.2"/>
<line x1="1815.55" y1="2136" x2="1832.55" y2="2136" stroke="#000" stroke-width="3.2"/>
<line x1="1863.15" y1="2132" x2="1863.15" y2="2143" stroke="#ff0000" stroke-width="3.2"/>
<line x1="1854.65" y1="2132" x2="1871.65" y2="2132" stroke="#ff0000" stroke-width="3.2"/>
<line x1="1854.65" y1="2143" x2="1871.65" y2="2143" stroke="#ff0000" stroke-width="3.2"/>
<line x1="1613.8" y1="1934.85" x2="1613.8" y2="2201.6" stroke="#000" stroke-width="3.7"/>
<line x1="1604.8" y1="2197.6" x2="1613.8" y2="2197.6" stroke="#000" stroke-width="3.7"/>
<text x="1587.4" y="2207.4" font-size="31.5" text-anchor="end">0</text>
<line x1="1604.8" y1="2145.36" x2="1613.8" y2="2145.36" stroke="#000" stroke-width="3.7"/>
<text x="1600.5" y="2155.16" font-size="31.5" text-anchor="end">50</text>
<line x1="1604.8" y1="2093.12" x2="1613.8" y2="2093.12" stroke="#000" stroke-width="3.7"/>
<text x="1600.5" y="2102.92" font-size="31.5" text-anchor="end">100</text>
<line x1="1604.8" y1="2040.88" x2="1613.8" y2="2040.88" stroke="#000" stroke-width="3.7"/>
<text x="1600.5" y="2050.68" font-size="31.5" text-anchor="end">150</text>
<line x1="1604.8" y1="1988.64" x2="1613.8" y2="1988.64" stroke="#000" stroke-width="3.7"/>
<text x="1600.5" y="1998.44" font-size="31.5" text-anchor="end">200</text>
<line x1="1604.8" y1="1936.4" x2="1613.8" y2="1936.4" stroke="#000" stroke-width="3.7"/>
<text x="1600.5" y="1946.2" font-size="31.5" text-anchor="end">250</text>
<line x1="1604.8" y1="2197.6" x2="1882" y2="2197.6" stroke="#000" stroke-width="3.7"/>
<line x1="1660.3" y1="2197.6" x2="1660.3" y2="2206.1" stroke="#000" stroke-width="3.7"/>
<line x1="1750.8" y1="2197.6" x2="1750.8" y2="2206.1" stroke="#000" stroke-width="3.7"/>
<line x1="1841.9" y1="2197.6" x2="1841.9" y2="2206.1" stroke="#000" stroke-width="3.7"/>
<text x="1665.5" y="2233" font-size="31" text-anchor="middle">Wake</text>
<text x="1757" y="2233" font-size="31" text-anchor="middle">NREM</text>
<text x="1846.5" y="2233" font-size="31" text-anchor="middle">REM</text>
<line x1="1642.5" y1="1935" x2="1682" y2="1935" stroke="#000" stroke-width="3.5"/>
<text x="1662.25" y="1942.62" font-size="46" text-anchor="middle" letter-spacing="1.5">***</text>
<text transform="translate(1533,2064) rotate(-90)" x="0" y="0" font-size="31" text-anchor="middle">Episode duration (s)</text>
<rect x="1738.9" y="1907.4" width="15.4" height="14.8" fill="#ff0000"/>
<text x="1779.8" y="1922.2" font-size="31">DTA (<tspan font-style="italic">n</tspan> = 8)</text>
<circle cx="1746.9" cy="1952.8" r="7.2" fill="#000"/>
<text x="1779.8" y="1963.2" font-size="31">mCherry (<tspan font-style="italic">n</tspan> = 8)</text>
</svg></body></html>
